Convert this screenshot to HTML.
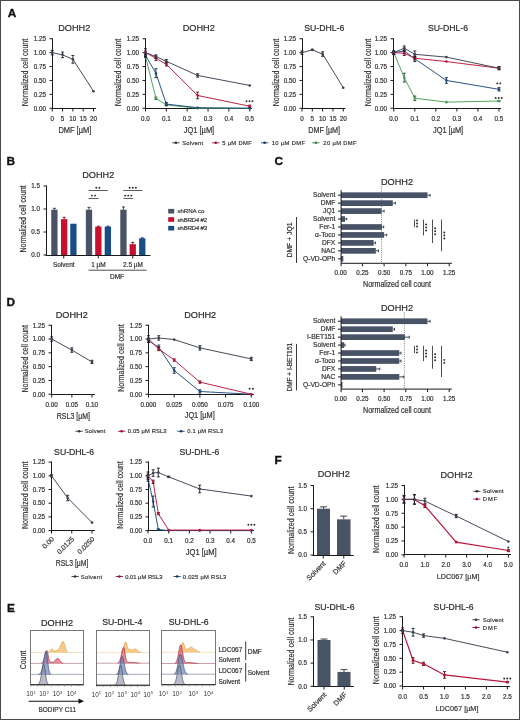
<!DOCTYPE html>
<html><head><meta charset="utf-8"><style>
html,body{margin:0;padding:0;background:#fff;width:520px;height:720px;overflow:hidden;}
svg text{font-family:"Liberation Sans", sans-serif;}
svg{will-change:transform;}
</style></head><body>
<svg width="520" height="720" viewBox="0 0 520 720" style="display:block">
<rect x="0" y="0" width="520" height="720" fill="#fff"/>
<text x="7.70" y="16.80" font-size="11.8" text-anchor="start" fill="#111" font-weight="bold" style="stroke:#111;stroke-width:0.35">A</text>
<text x="6.60" y="164.50" font-size="11.8" text-anchor="start" fill="#111" font-weight="bold" style="stroke:#111;stroke-width:0.35">B</text>
<text x="274.60" y="164.50" font-size="11.8" text-anchor="start" fill="#111" font-weight="bold" style="stroke:#111;stroke-width:0.35">C</text>
<text x="6.60" y="305.60" font-size="11.8" text-anchor="start" fill="#111" font-weight="bold" style="stroke:#111;stroke-width:0.35">D</text>
<text x="7.10" y="612.10" font-size="11.8" text-anchor="start" fill="#111" font-weight="bold" style="stroke:#111;stroke-width:0.35">E</text>
<text x="274.60" y="463.90" font-size="11.8" text-anchor="start" fill="#111" font-weight="bold" style="stroke:#111;stroke-width:0.35">F</text>
<text x="74.25" y="30.70" font-size="9.7" text-anchor="middle" fill="#2a2a2a" stroke="#2a2a2a" stroke-width="0.2" textLength="32" lengthAdjust="spacingAndGlyphs">DOHH2</text>
<line x1="52.50" y1="38.25" x2="52.50" y2="108.75" stroke="#1a1a1a" stroke-width="1.0" />
<line x1="49.50" y1="108.25" x2="52.50" y2="108.25" stroke="#1a1a1a" stroke-width="1.0" />
<text x="46.10" y="110.52" font-size="6.3" text-anchor="end" fill="#333" stroke="#333" stroke-width="0.2">0.00</text>
<line x1="49.50" y1="94.35" x2="52.50" y2="94.35" stroke="#1a1a1a" stroke-width="1.0" />
<text x="46.10" y="96.62" font-size="6.3" text-anchor="end" fill="#333" stroke="#333" stroke-width="0.2">0.25</text>
<line x1="49.50" y1="80.45" x2="52.50" y2="80.45" stroke="#1a1a1a" stroke-width="1.0" />
<text x="46.10" y="82.72" font-size="6.3" text-anchor="end" fill="#333" stroke="#333" stroke-width="0.2">0.50</text>
<line x1="49.50" y1="66.55" x2="52.50" y2="66.55" stroke="#1a1a1a" stroke-width="1.0" />
<text x="46.10" y="68.82" font-size="6.3" text-anchor="end" fill="#333" stroke="#333" stroke-width="0.2">0.75</text>
<line x1="49.50" y1="52.65" x2="52.50" y2="52.65" stroke="#1a1a1a" stroke-width="1.0" />
<text x="46.10" y="54.92" font-size="6.3" text-anchor="end" fill="#333" stroke="#333" stroke-width="0.2">1.00</text>
<line x1="49.50" y1="38.75" x2="52.50" y2="38.75" stroke="#1a1a1a" stroke-width="1.0" />
<text x="46.10" y="41.02" font-size="6.3" text-anchor="end" fill="#333" stroke="#333" stroke-width="0.2">1.25</text>
<text x="28.08" y="72.50" font-size="8.8" text-anchor="middle" fill="#333" stroke="#333" stroke-width="0.2" textLength="67.5" lengthAdjust="spacingAndGlyphs" transform="rotate(-90 28.08 72.50)">Normalized cell count</text>
<line x1="51.75" y1="108.50" x2="96.00" y2="108.50" stroke="#1a1a1a" stroke-width="1.0" />
<line x1="52.25" y1="108.50" x2="52.25" y2="111.50" stroke="#1a1a1a" stroke-width="1.0" />
<text x="52.25" y="120.60" font-size="6.3" text-anchor="middle" fill="#333" stroke="#333" stroke-width="0.2">0</text>
<line x1="62.56" y1="108.50" x2="62.56" y2="111.50" stroke="#1a1a1a" stroke-width="1.0" />
<text x="62.56" y="120.60" font-size="6.3" text-anchor="middle" fill="#333" stroke="#333" stroke-width="0.2">5</text>
<line x1="72.88" y1="108.50" x2="72.88" y2="111.50" stroke="#1a1a1a" stroke-width="1.0" />
<text x="72.88" y="120.60" font-size="6.3" text-anchor="middle" fill="#333" stroke="#333" stroke-width="0.2">10</text>
<line x1="83.19" y1="108.50" x2="83.19" y2="111.50" stroke="#1a1a1a" stroke-width="1.0" />
<text x="83.19" y="120.60" font-size="6.3" text-anchor="middle" fill="#333" stroke="#333" stroke-width="0.2">15</text>
<line x1="93.50" y1="108.50" x2="93.50" y2="111.50" stroke="#1a1a1a" stroke-width="1.0" />
<text x="93.50" y="120.60" font-size="6.3" text-anchor="middle" fill="#333" stroke="#333" stroke-width="0.2">20</text>
<text x="74.90" y="133.00" font-size="8.8" text-anchor="middle" fill="#333" stroke="#333" stroke-width="0.2" textLength="33" lengthAdjust="spacingAndGlyphs">DMF [µM]</text>
<path d="M52.25,52.65 L62.56,54.87 L72.88,59.32 L93.50,91.24" fill="none" stroke="#3a4250" stroke-width="0.95" stroke-linejoin="round"/>
<line x1="52.25" y1="50.43" x2="52.25" y2="54.87" stroke="#1a1d24" stroke-width="0.9" />
<line x1="50.75" y1="50.43" x2="53.75" y2="50.43" stroke="#1a1d24" stroke-width="0.9" />
<line x1="50.75" y1="54.87" x2="53.75" y2="54.87" stroke="#1a1d24" stroke-width="0.9" />
<line x1="62.56" y1="52.09" x2="62.56" y2="57.65" stroke="#1a1d24" stroke-width="0.9" />
<line x1="61.06" y1="52.09" x2="64.06" y2="52.09" stroke="#1a1d24" stroke-width="0.9" />
<line x1="61.06" y1="57.65" x2="64.06" y2="57.65" stroke="#1a1d24" stroke-width="0.9" />
<line x1="72.88" y1="55.43" x2="72.88" y2="63.21" stroke="#1a1d24" stroke-width="0.9" />
<line x1="71.38" y1="55.43" x2="74.38" y2="55.43" stroke="#1a1d24" stroke-width="0.9" />
<line x1="71.38" y1="63.21" x2="74.38" y2="63.21" stroke="#1a1d24" stroke-width="0.9" />
<circle cx="52.25" cy="52.65" r="1.3" fill="#3a4250"/>
<circle cx="62.56" cy="54.87" r="1.3" fill="#3a4250"/>
<circle cx="72.88" cy="59.32" r="1.3" fill="#3a4250"/>
<circle cx="93.50" cy="91.24" r="1.3" fill="#3a4250"/>
<text x="198.75" y="30.70" font-size="9.7" text-anchor="middle" fill="#2a2a2a" stroke="#2a2a2a" stroke-width="0.2" textLength="32" lengthAdjust="spacingAndGlyphs">DOHH2</text>
<line x1="145.50" y1="38.25" x2="145.50" y2="108.75" stroke="#1a1a1a" stroke-width="1.0" />
<line x1="142.50" y1="108.25" x2="145.50" y2="108.25" stroke="#1a1a1a" stroke-width="1.0" />
<text x="139.10" y="110.52" font-size="6.3" text-anchor="end" fill="#333" stroke="#333" stroke-width="0.2">0.00</text>
<line x1="142.50" y1="94.35" x2="145.50" y2="94.35" stroke="#1a1a1a" stroke-width="1.0" />
<text x="139.10" y="96.62" font-size="6.3" text-anchor="end" fill="#333" stroke="#333" stroke-width="0.2">0.25</text>
<line x1="142.50" y1="80.45" x2="145.50" y2="80.45" stroke="#1a1a1a" stroke-width="1.0" />
<text x="139.10" y="82.72" font-size="6.3" text-anchor="end" fill="#333" stroke="#333" stroke-width="0.2">0.50</text>
<line x1="142.50" y1="66.55" x2="145.50" y2="66.55" stroke="#1a1a1a" stroke-width="1.0" />
<text x="139.10" y="68.82" font-size="6.3" text-anchor="end" fill="#333" stroke="#333" stroke-width="0.2">0.75</text>
<line x1="142.50" y1="52.65" x2="145.50" y2="52.65" stroke="#1a1a1a" stroke-width="1.0" />
<text x="139.10" y="54.92" font-size="6.3" text-anchor="end" fill="#333" stroke="#333" stroke-width="0.2">1.00</text>
<line x1="142.50" y1="38.75" x2="145.50" y2="38.75" stroke="#1a1a1a" stroke-width="1.0" />
<text x="139.10" y="41.02" font-size="6.3" text-anchor="end" fill="#333" stroke="#333" stroke-width="0.2">1.25</text>
<text x="121.08" y="72.50" font-size="8.8" text-anchor="middle" fill="#333" stroke="#333" stroke-width="0.2" textLength="67.5" lengthAdjust="spacingAndGlyphs" transform="rotate(-90 121.08 72.50)">Normalized cell count</text>
<line x1="145.00" y1="108.50" x2="252.00" y2="108.50" stroke="#1a1a1a" stroke-width="1.0" />
<line x1="145.50" y1="108.50" x2="145.50" y2="111.50" stroke="#1a1a1a" stroke-width="1.0" />
<text x="145.50" y="120.60" font-size="6.3" text-anchor="middle" fill="#333" stroke="#333" stroke-width="0.2">0.0</text>
<line x1="166.35" y1="108.50" x2="166.35" y2="111.50" stroke="#1a1a1a" stroke-width="1.0" />
<text x="166.35" y="120.60" font-size="6.3" text-anchor="middle" fill="#333" stroke="#333" stroke-width="0.2">0.1</text>
<line x1="187.20" y1="108.50" x2="187.20" y2="111.50" stroke="#1a1a1a" stroke-width="1.0" />
<text x="187.20" y="120.60" font-size="6.3" text-anchor="middle" fill="#333" stroke="#333" stroke-width="0.2">0.2</text>
<line x1="208.05" y1="108.50" x2="208.05" y2="111.50" stroke="#1a1a1a" stroke-width="1.0" />
<text x="208.05" y="120.60" font-size="6.3" text-anchor="middle" fill="#333" stroke="#333" stroke-width="0.2">0.3</text>
<line x1="228.90" y1="108.50" x2="228.90" y2="111.50" stroke="#1a1a1a" stroke-width="1.0" />
<text x="228.90" y="120.60" font-size="6.3" text-anchor="middle" fill="#333" stroke="#333" stroke-width="0.2">0.4</text>
<line x1="249.75" y1="108.50" x2="249.75" y2="111.50" stroke="#1a1a1a" stroke-width="1.0" />
<text x="249.75" y="120.60" font-size="6.3" text-anchor="middle" fill="#333" stroke="#333" stroke-width="0.2">0.5</text>
<text x="199.00" y="132.90" font-size="8.8" text-anchor="middle" fill="#333" stroke="#333" stroke-width="0.2" textLength="30.4" lengthAdjust="spacingAndGlyphs">JQ1 [µM]</text>
<path d="M145.50,56.54 L155.93,98.24 L166.35,104.91 L197.62,108.25 L249.75,108.25" fill="none" stroke="#48a055" stroke-width="0.95" stroke-linejoin="round"/>
<line x1="145.50" y1="55.43" x2="145.50" y2="57.65" stroke="#204826" stroke-width="0.9" />
<line x1="144.00" y1="55.43" x2="147.00" y2="55.43" stroke="#204826" stroke-width="0.9" />
<line x1="144.00" y1="57.65" x2="147.00" y2="57.65" stroke="#204826" stroke-width="0.9" />
<line x1="155.93" y1="97.13" x2="155.93" y2="99.35" stroke="#204826" stroke-width="0.9" />
<line x1="154.43" y1="97.13" x2="157.43" y2="97.13" stroke="#204826" stroke-width="0.9" />
<line x1="154.43" y1="99.35" x2="157.43" y2="99.35" stroke="#204826" stroke-width="0.9" />
<line x1="166.35" y1="104.36" x2="166.35" y2="105.47" stroke="#204826" stroke-width="0.9" />
<line x1="164.85" y1="104.36" x2="167.85" y2="104.36" stroke="#204826" stroke-width="0.9" />
<line x1="164.85" y1="105.47" x2="167.85" y2="105.47" stroke="#204826" stroke-width="0.9" />
<circle cx="145.50" cy="56.54" r="1.3" fill="#48a055"/>
<circle cx="155.93" cy="98.24" r="1.3" fill="#48a055"/>
<circle cx="166.35" cy="104.91" r="1.3" fill="#48a055"/>
<circle cx="197.62" cy="108.25" r="1.3" fill="#48a055"/>
<circle cx="249.75" cy="108.25" r="1.3" fill="#48a055"/>
<path d="M145.50,55.43 L155.93,73.22 L166.35,104.08 L197.62,107.69 L249.75,108.25" fill="none" stroke="#1d4a7e" stroke-width="0.95" stroke-linejoin="round"/>
<line x1="145.50" y1="53.76" x2="145.50" y2="57.10" stroke="#0d2138" stroke-width="0.9" />
<line x1="144.00" y1="53.76" x2="147.00" y2="53.76" stroke="#0d2138" stroke-width="0.9" />
<line x1="144.00" y1="57.10" x2="147.00" y2="57.10" stroke="#0d2138" stroke-width="0.9" />
<line x1="155.93" y1="68.77" x2="155.93" y2="77.67" stroke="#0d2138" stroke-width="0.9" />
<line x1="154.43" y1="68.77" x2="157.43" y2="68.77" stroke="#0d2138" stroke-width="0.9" />
<line x1="154.43" y1="77.67" x2="157.43" y2="77.67" stroke="#0d2138" stroke-width="0.9" />
<line x1="166.35" y1="102.41" x2="166.35" y2="105.75" stroke="#0d2138" stroke-width="0.9" />
<line x1="164.85" y1="102.41" x2="167.85" y2="102.41" stroke="#0d2138" stroke-width="0.9" />
<line x1="164.85" y1="105.75" x2="167.85" y2="105.75" stroke="#0d2138" stroke-width="0.9" />
<circle cx="145.50" cy="55.43" r="1.3" fill="#1d4a7e"/>
<circle cx="155.93" cy="73.22" r="1.3" fill="#1d4a7e"/>
<circle cx="166.35" cy="104.08" r="1.3" fill="#1d4a7e"/>
<circle cx="197.62" cy="107.69" r="1.3" fill="#1d4a7e"/>
<circle cx="249.75" cy="108.25" r="1.3" fill="#1d4a7e"/>
<path d="M145.50,52.65 L155.93,58.21 L166.35,64.33 L197.62,95.46 L249.75,106.25" fill="none" stroke="#b8163a" stroke-width="0.95" stroke-linejoin="round"/>
<line x1="145.50" y1="50.98" x2="145.50" y2="54.32" stroke="#52091a" stroke-width="0.9" />
<line x1="144.00" y1="50.98" x2="147.00" y2="50.98" stroke="#52091a" stroke-width="0.9" />
<line x1="144.00" y1="54.32" x2="147.00" y2="54.32" stroke="#52091a" stroke-width="0.9" />
<line x1="155.93" y1="55.99" x2="155.93" y2="60.43" stroke="#52091a" stroke-width="0.9" />
<line x1="154.43" y1="55.99" x2="157.43" y2="55.99" stroke="#52091a" stroke-width="0.9" />
<line x1="154.43" y1="60.43" x2="157.43" y2="60.43" stroke="#52091a" stroke-width="0.9" />
<line x1="166.35" y1="62.66" x2="166.35" y2="65.99" stroke="#52091a" stroke-width="0.9" />
<line x1="164.85" y1="62.66" x2="167.85" y2="62.66" stroke="#52091a" stroke-width="0.9" />
<line x1="164.85" y1="65.99" x2="167.85" y2="65.99" stroke="#52091a" stroke-width="0.9" />
<line x1="197.62" y1="92.13" x2="197.62" y2="98.80" stroke="#52091a" stroke-width="0.9" />
<line x1="196.12" y1="92.13" x2="199.12" y2="92.13" stroke="#52091a" stroke-width="0.9" />
<line x1="196.12" y1="98.80" x2="199.12" y2="98.80" stroke="#52091a" stroke-width="0.9" />
<line x1="249.75" y1="105.14" x2="249.75" y2="107.36" stroke="#52091a" stroke-width="0.9" />
<line x1="248.25" y1="105.14" x2="251.25" y2="105.14" stroke="#52091a" stroke-width="0.9" />
<line x1="248.25" y1="107.36" x2="251.25" y2="107.36" stroke="#52091a" stroke-width="0.9" />
<circle cx="145.50" cy="52.65" r="1.3" fill="#b8163a"/>
<circle cx="155.93" cy="58.21" r="1.3" fill="#b8163a"/>
<circle cx="166.35" cy="64.33" r="1.3" fill="#b8163a"/>
<circle cx="197.62" cy="95.46" r="1.3" fill="#b8163a"/>
<circle cx="249.75" cy="106.25" r="1.3" fill="#b8163a"/>
<path d="M145.50,52.65 L155.93,56.54 L166.35,61.27 L197.62,75.45 L249.75,85.45" fill="none" stroke="#3a4250" stroke-width="0.95" stroke-linejoin="round"/>
<line x1="145.50" y1="48.76" x2="145.50" y2="56.54" stroke="#1a1d24" stroke-width="0.9" />
<line x1="144.00" y1="48.76" x2="147.00" y2="48.76" stroke="#1a1d24" stroke-width="0.9" />
<line x1="144.00" y1="56.54" x2="147.00" y2="56.54" stroke="#1a1d24" stroke-width="0.9" />
<line x1="155.93" y1="54.87" x2="155.93" y2="58.21" stroke="#1a1d24" stroke-width="0.9" />
<line x1="154.43" y1="54.87" x2="157.43" y2="54.87" stroke="#1a1d24" stroke-width="0.9" />
<line x1="154.43" y1="58.21" x2="157.43" y2="58.21" stroke="#1a1d24" stroke-width="0.9" />
<line x1="166.35" y1="59.60" x2="166.35" y2="62.94" stroke="#1a1d24" stroke-width="0.9" />
<line x1="164.85" y1="59.60" x2="167.85" y2="59.60" stroke="#1a1d24" stroke-width="0.9" />
<line x1="164.85" y1="62.94" x2="167.85" y2="62.94" stroke="#1a1d24" stroke-width="0.9" />
<line x1="197.62" y1="73.78" x2="197.62" y2="77.11" stroke="#1a1d24" stroke-width="0.9" />
<line x1="196.12" y1="73.78" x2="199.12" y2="73.78" stroke="#1a1d24" stroke-width="0.9" />
<line x1="196.12" y1="77.11" x2="199.12" y2="77.11" stroke="#1a1d24" stroke-width="0.9" />
<circle cx="145.50" cy="52.65" r="1.3" fill="#3a4250"/>
<circle cx="155.93" cy="56.54" r="1.3" fill="#3a4250"/>
<circle cx="166.35" cy="61.27" r="1.3" fill="#3a4250"/>
<circle cx="197.62" cy="75.45" r="1.3" fill="#3a4250"/>
<circle cx="249.75" cy="85.45" r="1.3" fill="#3a4250"/>
<circle cx="246.50" cy="101.20" r="0.95" fill="#2a2a2a"/>
<circle cx="249.50" cy="101.20" r="0.95" fill="#2a2a2a"/>
<circle cx="252.50" cy="101.20" r="0.95" fill="#2a2a2a"/>
<text x="324.30" y="30.80" font-size="9.7" text-anchor="middle" fill="#2a2a2a" stroke="#2a2a2a" stroke-width="0.2" textLength="40" lengthAdjust="spacingAndGlyphs">SU-DHL-6</text>
<line x1="302.50" y1="38.25" x2="302.50" y2="108.75" stroke="#1a1a1a" stroke-width="1.0" />
<line x1="299.50" y1="108.25" x2="302.50" y2="108.25" stroke="#1a1a1a" stroke-width="1.0" />
<text x="296.10" y="110.52" font-size="6.3" text-anchor="end" fill="#333" stroke="#333" stroke-width="0.2">0.00</text>
<line x1="299.50" y1="94.35" x2="302.50" y2="94.35" stroke="#1a1a1a" stroke-width="1.0" />
<text x="296.10" y="96.62" font-size="6.3" text-anchor="end" fill="#333" stroke="#333" stroke-width="0.2">0.25</text>
<line x1="299.50" y1="80.45" x2="302.50" y2="80.45" stroke="#1a1a1a" stroke-width="1.0" />
<text x="296.10" y="82.72" font-size="6.3" text-anchor="end" fill="#333" stroke="#333" stroke-width="0.2">0.50</text>
<line x1="299.50" y1="66.55" x2="302.50" y2="66.55" stroke="#1a1a1a" stroke-width="1.0" />
<text x="296.10" y="68.82" font-size="6.3" text-anchor="end" fill="#333" stroke="#333" stroke-width="0.2">0.75</text>
<line x1="299.50" y1="52.65" x2="302.50" y2="52.65" stroke="#1a1a1a" stroke-width="1.0" />
<text x="296.10" y="54.92" font-size="6.3" text-anchor="end" fill="#333" stroke="#333" stroke-width="0.2">1.00</text>
<line x1="299.50" y1="38.75" x2="302.50" y2="38.75" stroke="#1a1a1a" stroke-width="1.0" />
<text x="296.10" y="41.02" font-size="6.3" text-anchor="end" fill="#333" stroke="#333" stroke-width="0.2">1.25</text>
<text x="279.08" y="72.50" font-size="8.8" text-anchor="middle" fill="#333" stroke="#333" stroke-width="0.2" textLength="67.5" lengthAdjust="spacingAndGlyphs" transform="rotate(-90 279.08 72.50)">Normalized cell count</text>
<line x1="301.50" y1="108.50" x2="345.50" y2="108.50" stroke="#1a1a1a" stroke-width="1.0" />
<line x1="302.00" y1="108.50" x2="302.00" y2="111.50" stroke="#1a1a1a" stroke-width="1.0" />
<text x="302.00" y="120.60" font-size="6.3" text-anchor="middle" fill="#333" stroke="#333" stroke-width="0.2">0</text>
<line x1="312.31" y1="108.50" x2="312.31" y2="111.50" stroke="#1a1a1a" stroke-width="1.0" />
<text x="312.31" y="120.60" font-size="6.3" text-anchor="middle" fill="#333" stroke="#333" stroke-width="0.2">5</text>
<line x1="322.62" y1="108.50" x2="322.62" y2="111.50" stroke="#1a1a1a" stroke-width="1.0" />
<text x="322.62" y="120.60" font-size="6.3" text-anchor="middle" fill="#333" stroke="#333" stroke-width="0.2">10</text>
<line x1="332.94" y1="108.50" x2="332.94" y2="111.50" stroke="#1a1a1a" stroke-width="1.0" />
<text x="332.94" y="120.60" font-size="6.3" text-anchor="middle" fill="#333" stroke="#333" stroke-width="0.2">15</text>
<line x1="343.25" y1="108.50" x2="343.25" y2="111.50" stroke="#1a1a1a" stroke-width="1.0" />
<text x="343.25" y="120.60" font-size="6.3" text-anchor="middle" fill="#333" stroke="#333" stroke-width="0.2">20</text>
<text x="324.20" y="132.70" font-size="8.6" text-anchor="middle" fill="#333" stroke="#333" stroke-width="0.2" textLength="31.7" lengthAdjust="spacingAndGlyphs">DMF [µM]</text>
<path d="M302.00,52.65 L312.31,49.87 L322.62,54.04 L343.25,87.68" fill="none" stroke="#3a4250" stroke-width="0.95" stroke-linejoin="round"/>
<line x1="302.00" y1="50.98" x2="302.00" y2="54.32" stroke="#1a1d24" stroke-width="0.9" />
<line x1="300.50" y1="50.98" x2="303.50" y2="50.98" stroke="#1a1d24" stroke-width="0.9" />
<line x1="300.50" y1="54.32" x2="303.50" y2="54.32" stroke="#1a1d24" stroke-width="0.9" />
<line x1="312.31" y1="49.31" x2="312.31" y2="50.43" stroke="#1a1d24" stroke-width="0.9" />
<line x1="310.81" y1="49.31" x2="313.81" y2="49.31" stroke="#1a1d24" stroke-width="0.9" />
<line x1="310.81" y1="50.43" x2="313.81" y2="50.43" stroke="#1a1d24" stroke-width="0.9" />
<line x1="322.62" y1="51.82" x2="322.62" y2="56.26" stroke="#1a1d24" stroke-width="0.9" />
<line x1="321.12" y1="51.82" x2="324.12" y2="51.82" stroke="#1a1d24" stroke-width="0.9" />
<line x1="321.12" y1="56.26" x2="324.12" y2="56.26" stroke="#1a1d24" stroke-width="0.9" />
<circle cx="302.00" cy="52.65" r="1.3" fill="#3a4250"/>
<circle cx="312.31" cy="49.87" r="1.3" fill="#3a4250"/>
<circle cx="322.62" cy="54.04" r="1.3" fill="#3a4250"/>
<circle cx="343.25" cy="87.68" r="1.3" fill="#3a4250"/>
<text x="448.00" y="30.70" font-size="9.7" text-anchor="middle" fill="#2a2a2a" stroke="#2a2a2a" stroke-width="0.2" textLength="40" lengthAdjust="spacingAndGlyphs">SU-DHL-6</text>
<line x1="393.50" y1="38.25" x2="393.50" y2="108.75" stroke="#1a1a1a" stroke-width="1.0" />
<line x1="390.50" y1="108.25" x2="393.50" y2="108.25" stroke="#1a1a1a" stroke-width="1.0" />
<text x="387.10" y="110.52" font-size="6.3" text-anchor="end" fill="#333" stroke="#333" stroke-width="0.2">0.00</text>
<line x1="390.50" y1="94.35" x2="393.50" y2="94.35" stroke="#1a1a1a" stroke-width="1.0" />
<text x="387.10" y="96.62" font-size="6.3" text-anchor="end" fill="#333" stroke="#333" stroke-width="0.2">0.25</text>
<line x1="390.50" y1="80.45" x2="393.50" y2="80.45" stroke="#1a1a1a" stroke-width="1.0" />
<text x="387.10" y="82.72" font-size="6.3" text-anchor="end" fill="#333" stroke="#333" stroke-width="0.2">0.50</text>
<line x1="390.50" y1="66.55" x2="393.50" y2="66.55" stroke="#1a1a1a" stroke-width="1.0" />
<text x="387.10" y="68.82" font-size="6.3" text-anchor="end" fill="#333" stroke="#333" stroke-width="0.2">0.75</text>
<line x1="390.50" y1="52.65" x2="393.50" y2="52.65" stroke="#1a1a1a" stroke-width="1.0" />
<text x="387.10" y="54.92" font-size="6.3" text-anchor="end" fill="#333" stroke="#333" stroke-width="0.2">1.00</text>
<line x1="390.50" y1="38.75" x2="393.50" y2="38.75" stroke="#1a1a1a" stroke-width="1.0" />
<text x="387.10" y="41.02" font-size="6.3" text-anchor="end" fill="#333" stroke="#333" stroke-width="0.2">1.25</text>
<text x="370.58" y="72.50" font-size="8.8" text-anchor="middle" fill="#333" stroke="#333" stroke-width="0.2" textLength="67.5" lengthAdjust="spacingAndGlyphs" transform="rotate(-90 370.58 72.50)">Normalized cell count</text>
<line x1="393.25" y1="108.50" x2="501.00" y2="108.50" stroke="#1a1a1a" stroke-width="1.0" />
<line x1="393.75" y1="108.50" x2="393.75" y2="111.50" stroke="#1a1a1a" stroke-width="1.0" />
<text x="393.75" y="120.60" font-size="6.3" text-anchor="middle" fill="#333" stroke="#333" stroke-width="0.2">0.0</text>
<line x1="414.80" y1="108.50" x2="414.80" y2="111.50" stroke="#1a1a1a" stroke-width="1.0" />
<text x="414.80" y="120.60" font-size="6.3" text-anchor="middle" fill="#333" stroke="#333" stroke-width="0.2">0.1</text>
<line x1="435.85" y1="108.50" x2="435.85" y2="111.50" stroke="#1a1a1a" stroke-width="1.0" />
<text x="435.85" y="120.60" font-size="6.3" text-anchor="middle" fill="#333" stroke="#333" stroke-width="0.2">0.2</text>
<line x1="456.90" y1="108.50" x2="456.90" y2="111.50" stroke="#1a1a1a" stroke-width="1.0" />
<text x="456.90" y="120.60" font-size="6.3" text-anchor="middle" fill="#333" stroke="#333" stroke-width="0.2">0.3</text>
<line x1="477.95" y1="108.50" x2="477.95" y2="111.50" stroke="#1a1a1a" stroke-width="1.0" />
<text x="477.95" y="120.60" font-size="6.3" text-anchor="middle" fill="#333" stroke="#333" stroke-width="0.2">0.4</text>
<line x1="499.00" y1="108.50" x2="499.00" y2="111.50" stroke="#1a1a1a" stroke-width="1.0" />
<text x="499.00" y="120.60" font-size="6.3" text-anchor="middle" fill="#333" stroke="#333" stroke-width="0.2">0.5</text>
<text x="448.10" y="132.70" font-size="8.6" text-anchor="middle" fill="#333" stroke="#333" stroke-width="0.2" textLength="30" lengthAdjust="spacingAndGlyphs">JQ1 [µM]</text>
<path d="M393.75,52.65 L404.27,77.67 L414.80,98.24 L446.38,102.13 L499.00,101.02" fill="none" stroke="#48a055" stroke-width="0.95" stroke-linejoin="round"/>
<line x1="393.75" y1="51.54" x2="393.75" y2="53.76" stroke="#204826" stroke-width="0.9" />
<line x1="392.25" y1="51.54" x2="395.25" y2="51.54" stroke="#204826" stroke-width="0.9" />
<line x1="392.25" y1="53.76" x2="395.25" y2="53.76" stroke="#204826" stroke-width="0.9" />
<line x1="404.27" y1="73.22" x2="404.27" y2="82.12" stroke="#204826" stroke-width="0.9" />
<line x1="402.77" y1="73.22" x2="405.77" y2="73.22" stroke="#204826" stroke-width="0.9" />
<line x1="402.77" y1="82.12" x2="405.77" y2="82.12" stroke="#204826" stroke-width="0.9" />
<line x1="414.80" y1="96.02" x2="414.80" y2="100.47" stroke="#204826" stroke-width="0.9" />
<line x1="413.30" y1="96.02" x2="416.30" y2="96.02" stroke="#204826" stroke-width="0.9" />
<line x1="413.30" y1="100.47" x2="416.30" y2="100.47" stroke="#204826" stroke-width="0.9" />
<line x1="499.00" y1="100.47" x2="499.00" y2="101.58" stroke="#204826" stroke-width="0.9" />
<line x1="497.50" y1="100.47" x2="500.50" y2="100.47" stroke="#204826" stroke-width="0.9" />
<line x1="497.50" y1="101.58" x2="500.50" y2="101.58" stroke="#204826" stroke-width="0.9" />
<circle cx="393.75" cy="52.65" r="1.3" fill="#48a055"/>
<circle cx="404.27" cy="77.67" r="1.3" fill="#48a055"/>
<circle cx="414.80" cy="98.24" r="1.3" fill="#48a055"/>
<circle cx="446.38" cy="102.13" r="1.3" fill="#48a055"/>
<circle cx="499.00" cy="101.02" r="1.3" fill="#48a055"/>
<path d="M393.75,52.65 L404.27,50.98 L414.80,58.77 L446.38,80.45 L499.00,89.35" fill="none" stroke="#1d4a7e" stroke-width="0.95" stroke-linejoin="round"/>
<line x1="393.75" y1="50.98" x2="393.75" y2="54.32" stroke="#0d2138" stroke-width="0.9" />
<line x1="392.25" y1="50.98" x2="395.25" y2="50.98" stroke="#0d2138" stroke-width="0.9" />
<line x1="392.25" y1="54.32" x2="395.25" y2="54.32" stroke="#0d2138" stroke-width="0.9" />
<line x1="404.27" y1="48.20" x2="404.27" y2="53.76" stroke="#0d2138" stroke-width="0.9" />
<line x1="402.77" y1="48.20" x2="405.77" y2="48.20" stroke="#0d2138" stroke-width="0.9" />
<line x1="402.77" y1="53.76" x2="405.77" y2="53.76" stroke="#0d2138" stroke-width="0.9" />
<line x1="414.80" y1="55.99" x2="414.80" y2="61.55" stroke="#0d2138" stroke-width="0.9" />
<line x1="413.30" y1="55.99" x2="416.30" y2="55.99" stroke="#0d2138" stroke-width="0.9" />
<line x1="413.30" y1="61.55" x2="416.30" y2="61.55" stroke="#0d2138" stroke-width="0.9" />
<line x1="446.38" y1="77.67" x2="446.38" y2="83.23" stroke="#0d2138" stroke-width="0.9" />
<line x1="444.88" y1="77.67" x2="447.88" y2="77.67" stroke="#0d2138" stroke-width="0.9" />
<line x1="444.88" y1="83.23" x2="447.88" y2="83.23" stroke="#0d2138" stroke-width="0.9" />
<line x1="499.00" y1="87.68" x2="499.00" y2="91.01" stroke="#0d2138" stroke-width="0.9" />
<line x1="497.50" y1="87.68" x2="500.50" y2="87.68" stroke="#0d2138" stroke-width="0.9" />
<line x1="497.50" y1="91.01" x2="500.50" y2="91.01" stroke="#0d2138" stroke-width="0.9" />
<circle cx="393.75" cy="52.65" r="1.3" fill="#1d4a7e"/>
<circle cx="404.27" cy="50.98" r="1.3" fill="#1d4a7e"/>
<circle cx="414.80" cy="58.77" r="1.3" fill="#1d4a7e"/>
<circle cx="446.38" cy="80.45" r="1.3" fill="#1d4a7e"/>
<circle cx="499.00" cy="89.35" r="1.3" fill="#1d4a7e"/>
<path d="M393.75,52.65 L404.27,53.21 L414.80,58.21 L446.38,61.55 L499.00,68.22" fill="none" stroke="#b8163a" stroke-width="0.95" stroke-linejoin="round"/>
<line x1="393.75" y1="51.54" x2="393.75" y2="53.76" stroke="#52091a" stroke-width="0.9" />
<line x1="392.25" y1="51.54" x2="395.25" y2="51.54" stroke="#52091a" stroke-width="0.9" />
<line x1="392.25" y1="53.76" x2="395.25" y2="53.76" stroke="#52091a" stroke-width="0.9" />
<line x1="404.27" y1="50.98" x2="404.27" y2="55.43" stroke="#52091a" stroke-width="0.9" />
<line x1="402.77" y1="50.98" x2="405.77" y2="50.98" stroke="#52091a" stroke-width="0.9" />
<line x1="402.77" y1="55.43" x2="405.77" y2="55.43" stroke="#52091a" stroke-width="0.9" />
<line x1="414.80" y1="56.54" x2="414.80" y2="59.88" stroke="#52091a" stroke-width="0.9" />
<line x1="413.30" y1="56.54" x2="416.30" y2="56.54" stroke="#52091a" stroke-width="0.9" />
<line x1="413.30" y1="59.88" x2="416.30" y2="59.88" stroke="#52091a" stroke-width="0.9" />
<line x1="499.00" y1="67.11" x2="499.00" y2="69.33" stroke="#52091a" stroke-width="0.9" />
<line x1="497.50" y1="67.11" x2="500.50" y2="67.11" stroke="#52091a" stroke-width="0.9" />
<line x1="497.50" y1="69.33" x2="500.50" y2="69.33" stroke="#52091a" stroke-width="0.9" />
<circle cx="393.75" cy="52.65" r="1.3" fill="#b8163a"/>
<circle cx="404.27" cy="53.21" r="1.3" fill="#b8163a"/>
<circle cx="414.80" cy="58.21" r="1.3" fill="#b8163a"/>
<circle cx="446.38" cy="61.55" r="1.3" fill="#b8163a"/>
<circle cx="499.00" cy="68.22" r="1.3" fill="#b8163a"/>
<path d="M393.75,52.65 L404.27,48.20 L414.80,54.32 L446.38,57.10 L499.00,68.22" fill="none" stroke="#3a4250" stroke-width="0.95" stroke-linejoin="round"/>
<line x1="393.75" y1="50.98" x2="393.75" y2="54.32" stroke="#1a1d24" stroke-width="0.9" />
<line x1="392.25" y1="50.98" x2="395.25" y2="50.98" stroke="#1a1d24" stroke-width="0.9" />
<line x1="392.25" y1="54.32" x2="395.25" y2="54.32" stroke="#1a1d24" stroke-width="0.9" />
<line x1="404.27" y1="45.98" x2="404.27" y2="50.43" stroke="#1a1d24" stroke-width="0.9" />
<line x1="402.77" y1="45.98" x2="405.77" y2="45.98" stroke="#1a1d24" stroke-width="0.9" />
<line x1="402.77" y1="50.43" x2="405.77" y2="50.43" stroke="#1a1d24" stroke-width="0.9" />
<line x1="414.80" y1="50.98" x2="414.80" y2="57.65" stroke="#1a1d24" stroke-width="0.9" />
<line x1="413.30" y1="50.98" x2="416.30" y2="50.98" stroke="#1a1d24" stroke-width="0.9" />
<line x1="413.30" y1="57.65" x2="416.30" y2="57.65" stroke="#1a1d24" stroke-width="0.9" />
<line x1="499.00" y1="66.55" x2="499.00" y2="69.89" stroke="#1a1d24" stroke-width="0.9" />
<line x1="497.50" y1="66.55" x2="500.50" y2="66.55" stroke="#1a1d24" stroke-width="0.9" />
<line x1="497.50" y1="69.89" x2="500.50" y2="69.89" stroke="#1a1d24" stroke-width="0.9" />
<circle cx="393.75" cy="52.65" r="1.3" fill="#3a4250"/>
<circle cx="404.27" cy="48.20" r="1.3" fill="#3a4250"/>
<circle cx="414.80" cy="54.32" r="1.3" fill="#3a4250"/>
<circle cx="446.38" cy="57.10" r="1.3" fill="#3a4250"/>
<circle cx="499.00" cy="68.22" r="1.3" fill="#3a4250"/>
<circle cx="497.25" cy="83.40" r="0.95" fill="#2a2a2a"/>
<circle cx="500.25" cy="83.40" r="0.95" fill="#2a2a2a"/>
<circle cx="495.70" cy="98.00" r="0.95" fill="#2a2a2a"/>
<circle cx="498.70" cy="98.00" r="0.95" fill="#2a2a2a"/>
<circle cx="501.70" cy="98.00" r="0.95" fill="#2a2a2a"/>
<line x1="172.30" y1="142.80" x2="179.50" y2="142.80" stroke="#2e3440" stroke-width="0.9" />
<circle cx="175.90" cy="142.80" r="1.3" fill="#2e3440"/>
<text x="182.20" y="144.89" font-size="5.8" text-anchor="start" fill="#2e2e2e" stroke="#2e2e2e" stroke-width="0.16" textLength="20.8" lengthAdjust="spacing">Solvent</text>
<line x1="212.10" y1="142.80" x2="219.30" y2="142.80" stroke="#93112e" stroke-width="0.9" />
<circle cx="215.70" cy="142.80" r="1.3" fill="#93112e"/>
<text x="222.20" y="144.89" font-size="5.8" text-anchor="start" fill="#2e2e2e" stroke="#2e2e2e" stroke-width="0.16" textLength="29.5" lengthAdjust="spacing">5 µM DMF</text>
<line x1="261.00" y1="142.80" x2="268.20" y2="142.80" stroke="#173b64" stroke-width="0.9" />
<circle cx="264.60" cy="142.80" r="1.3" fill="#173b64"/>
<text x="271.80" y="144.89" font-size="5.8" text-anchor="start" fill="#2e2e2e" stroke="#2e2e2e" stroke-width="0.16" textLength="33.2" lengthAdjust="spacing">10 µM DMF</text>
<line x1="312.20" y1="142.80" x2="319.40" y2="142.80" stroke="#398044" stroke-width="0.9" />
<circle cx="315.80" cy="142.80" r="1.3" fill="#398044"/>
<text x="323.30" y="144.89" font-size="5.8" text-anchor="start" fill="#2e2e2e" stroke="#2e2e2e" stroke-width="0.16" textLength="33.3" lengthAdjust="spacing">20 µM DMF</text>
<text x="98.25" y="178.30" font-size="9.7" text-anchor="middle" fill="#2a2a2a" stroke="#2a2a2a" stroke-width="0.2" textLength="32" lengthAdjust="spacingAndGlyphs">DOHH2</text>
<line x1="46.50" y1="185.50" x2="46.50" y2="255.50" stroke="#1a1a1a" stroke-width="1.0" />
<line x1="43.50" y1="255.00" x2="46.50" y2="255.00" stroke="#1a1a1a" stroke-width="1.0" />
<text x="40.10" y="257.27" font-size="6.3" text-anchor="end" fill="#333" stroke="#333" stroke-width="0.2">0.0</text>
<line x1="43.50" y1="232.00" x2="46.50" y2="232.00" stroke="#1a1a1a" stroke-width="1.0" />
<text x="40.10" y="234.27" font-size="6.3" text-anchor="end" fill="#333" stroke="#333" stroke-width="0.2">0.5</text>
<line x1="43.50" y1="209.00" x2="46.50" y2="209.00" stroke="#1a1a1a" stroke-width="1.0" />
<text x="40.10" y="211.27" font-size="6.3" text-anchor="end" fill="#333" stroke="#333" stroke-width="0.2">1.0</text>
<line x1="43.50" y1="186.00" x2="46.50" y2="186.00" stroke="#1a1a1a" stroke-width="1.0" />
<text x="40.10" y="188.27" font-size="6.3" text-anchor="end" fill="#333" stroke="#333" stroke-width="0.2">1.5</text>
<text x="26.08" y="219.00" font-size="8.8" text-anchor="middle" fill="#333" stroke="#333" stroke-width="0.2" textLength="67" lengthAdjust="spacingAndGlyphs" transform="rotate(-90 26.08 219.00)">Normalized cell count</text>
<line x1="45.75" y1="255.50" x2="150.50" y2="255.50" stroke="#1a1a1a" stroke-width="1.0" />
<line x1="63.75" y1="255.50" x2="63.75" y2="258.50" stroke="#1a1a1a" stroke-width="1.0" />
<line x1="98.25" y1="255.50" x2="98.25" y2="258.50" stroke="#1a1a1a" stroke-width="1.0" />
<line x1="132.75" y1="255.50" x2="132.75" y2="258.50" stroke="#1a1a1a" stroke-width="1.0" />
<rect x="51.25" y="209.69" width="6.3" height="45.31" fill="#485366"/>
<line x1="54.40" y1="209.69" x2="54.40" y2="208.31" stroke="#272d38" stroke-width="0.9" />
<line x1="52.90" y1="208.31" x2="55.90" y2="208.31" stroke="#272d38" stroke-width="0.9" />
<rect x="61.00" y="219.12" width="6.3" height="35.88" fill="#c8102e"/>
<line x1="64.15" y1="219.12" x2="64.15" y2="217.28" stroke="#6e0819" stroke-width="0.9" />
<line x1="62.65" y1="217.28" x2="65.65" y2="217.28" stroke="#6e0819" stroke-width="0.9" />
<rect x="70.25" y="223.72" width="6.3" height="31.28" fill="#174e86"/>
<rect x="85.85" y="209.69" width="6.3" height="45.31" fill="#485366"/>
<line x1="89.00" y1="209.69" x2="89.00" y2="207.39" stroke="#272d38" stroke-width="0.9" />
<line x1="87.50" y1="207.39" x2="90.50" y2="207.39" stroke="#272d38" stroke-width="0.9" />
<rect x="95.20" y="226.62" width="6.3" height="28.38" fill="#c8102e"/>
<line x1="98.35" y1="226.62" x2="98.35" y2="226.16" stroke="#6e0819" stroke-width="0.9" />
<line x1="96.85" y1="226.16" x2="99.85" y2="226.16" stroke="#6e0819" stroke-width="0.9" />
<rect x="104.70" y="226.62" width="6.3" height="28.38" fill="#174e86"/>
<line x1="107.85" y1="226.62" x2="107.85" y2="226.16" stroke="#0c2a49" stroke-width="0.9" />
<line x1="106.35" y1="226.16" x2="109.35" y2="226.16" stroke="#0c2a49" stroke-width="0.9" />
<rect x="120.30" y="209.69" width="6.3" height="45.31" fill="#485366"/>
<line x1="123.45" y1="209.69" x2="123.45" y2="206.93" stroke="#272d38" stroke-width="0.9" />
<line x1="121.95" y1="206.93" x2="124.95" y2="206.93" stroke="#272d38" stroke-width="0.9" />
<rect x="129.60" y="244.19" width="6.3" height="10.81" fill="#c8102e"/>
<line x1="132.75" y1="244.19" x2="132.75" y2="242.35" stroke="#6e0819" stroke-width="0.9" />
<line x1="131.25" y1="242.35" x2="134.25" y2="242.35" stroke="#6e0819" stroke-width="0.9" />
<rect x="139.10" y="238.30" width="6.3" height="16.70" fill="#174e86"/>
<line x1="142.25" y1="238.30" x2="142.25" y2="237.84" stroke="#0c2a49" stroke-width="0.9" />
<line x1="140.75" y1="237.84" x2="143.75" y2="237.84" stroke="#0c2a49" stroke-width="0.9" />
<text x="63.75" y="267.00" font-size="6.5" text-anchor="middle" fill="#333" stroke="#333" stroke-width="0.2">Solvent</text>
<text x="98.50" y="267.00" font-size="6.5" text-anchor="middle" fill="#333" stroke="#333" stroke-width="0.2">1 µM</text>
<text x="133.00" y="267.00" font-size="6.5" text-anchor="middle" fill="#333" stroke="#333" stroke-width="0.2">2.5 µM</text>
<line x1="88.50" y1="270.20" x2="146.50" y2="270.20" stroke="#222" stroke-width="0.8" />
<text x="117.00" y="278.90" font-size="6.5" text-anchor="middle" fill="#333" stroke="#333" stroke-width="0.2">DMF</text>
<line x1="88.50" y1="190.50" x2="107.70" y2="190.50" stroke="#333" stroke-width="0.8" />
<line x1="88.50" y1="198.50" x2="98.50" y2="198.50" stroke="#333" stroke-width="0.8" />
<line x1="123.40" y1="190.50" x2="142.30" y2="190.50" stroke="#333" stroke-width="0.8" />
<line x1="123.40" y1="198.50" x2="133.00" y2="198.50" stroke="#333" stroke-width="0.8" />
<circle cx="96.25" cy="187.80" r="0.95" fill="#2a2a2a"/>
<circle cx="99.35" cy="187.80" r="0.95" fill="#2a2a2a"/>
<circle cx="91.95" cy="195.60" r="0.95" fill="#2a2a2a"/>
<circle cx="95.05" cy="195.60" r="0.95" fill="#2a2a2a"/>
<circle cx="129.65" cy="187.80" r="0.95" fill="#2a2a2a"/>
<circle cx="132.75" cy="187.80" r="0.95" fill="#2a2a2a"/>
<circle cx="135.85" cy="187.80" r="0.95" fill="#2a2a2a"/>
<circle cx="125.10" cy="195.60" r="0.95" fill="#2a2a2a"/>
<circle cx="128.20" cy="195.60" r="0.95" fill="#2a2a2a"/>
<circle cx="131.30" cy="195.60" r="0.95" fill="#2a2a2a"/>
<rect x="168.2" y="208.90" width="6" height="4.6" fill="#485366"/>
<text x="177.40" y="213.35" font-size="6.1" text-anchor="start" fill="#2e2e2e" stroke="#2e2e2e" stroke-width="0.16" textLength="27" lengthAdjust="spacing">shRNA co</text>
<rect x="168.2" y="217.20" width="6" height="4.6" fill="#c8102e"/>
<text x="177.40" y="221.65" font-size="6.1" text-anchor="start" fill="#2e2e2e" stroke="#2e2e2e" stroke-width="0.16" textLength="29.8" lengthAdjust="spacing">sh<tspan font-style="italic">BRD4</tspan> #2</text>
<rect x="168.2" y="225.90" width="6" height="4.6" fill="#174e86"/>
<text x="177.40" y="230.35" font-size="6.1" text-anchor="start" fill="#2e2e2e" stroke="#2e2e2e" stroke-width="0.16" textLength="29.8" lengthAdjust="spacing">sh<tspan font-style="italic">BRD4</tspan> #3</text>
<text x="397.00" y="184.80" font-size="9.7" text-anchor="middle" fill="#2a2a2a" stroke="#2a2a2a" stroke-width="0.2" textLength="32" lengthAdjust="spacingAndGlyphs">DOHH2</text>
<line x1="381.50" y1="186.20" x2="381.50" y2="263.30" stroke="#555" stroke-width="0.75" stroke-dasharray="1,1.2"/>
<rect x="341" y="192.35" width="86.50" height="5.7" fill="#485366"/>
<line x1="427.50" y1="195.20" x2="430.10" y2="195.20" stroke="#2a3140" stroke-width="0.9" />
<line x1="430.10" y1="193.80" x2="430.10" y2="196.60" stroke="#2a3140" stroke-width="0.9" />
<line x1="338.00" y1="195.20" x2="341.00" y2="195.20" stroke="#1a1a1a" stroke-width="1" />
<text x="335.30" y="197.30" font-size="6.7" text-anchor="end" fill="#333" stroke="#333" stroke-width="0.2">Solvent</text>
<rect x="341" y="200.30" width="51.78" height="5.7" fill="#485366"/>
<line x1="392.78" y1="203.15" x2="395.38" y2="203.15" stroke="#2a3140" stroke-width="0.9" />
<line x1="395.38" y1="201.75" x2="395.38" y2="204.55" stroke="#2a3140" stroke-width="0.9" />
<line x1="338.00" y1="203.15" x2="341.00" y2="203.15" stroke="#1a1a1a" stroke-width="1" />
<text x="335.30" y="205.25" font-size="6.7" text-anchor="end" fill="#333" stroke="#333" stroke-width="0.2">DMF</text>
<rect x="341" y="208.25" width="40.50" height="5.7" fill="#485366"/>
<line x1="381.50" y1="211.10" x2="384.10" y2="211.10" stroke="#2a3140" stroke-width="0.9" />
<line x1="384.10" y1="209.70" x2="384.10" y2="212.50" stroke="#2a3140" stroke-width="0.9" />
<line x1="338.00" y1="211.10" x2="341.00" y2="211.10" stroke="#1a1a1a" stroke-width="1" />
<text x="335.30" y="213.20" font-size="6.7" text-anchor="end" fill="#333" stroke="#333" stroke-width="0.2">JQ1</text>
<rect x="341" y="216.20" width="4.04" height="5.7" fill="#485366"/>
<line x1="345.04" y1="219.05" x2="346.78" y2="219.05" stroke="#2a3140" stroke-width="0.9" />
<line x1="346.78" y1="217.65" x2="346.78" y2="220.45" stroke="#2a3140" stroke-width="0.9" />
<line x1="338.00" y1="219.05" x2="341.00" y2="219.05" stroke="#1a1a1a" stroke-width="1" />
<text x="335.30" y="221.15" font-size="6.7" text-anchor="end" fill="#333" stroke="#333" stroke-width="0.2">Solvent</text>
<rect x="341" y="224.15" width="40.93" height="5.7" fill="#485366"/>
<line x1="381.93" y1="227.00" x2="383.67" y2="227.00" stroke="#2a3140" stroke-width="0.9" />
<line x1="383.67" y1="225.60" x2="383.67" y2="228.40" stroke="#2a3140" stroke-width="0.9" />
<line x1="338.00" y1="227.00" x2="341.00" y2="227.00" stroke="#1a1a1a" stroke-width="1" />
<text x="335.30" y="229.10" font-size="6.7" text-anchor="end" fill="#333" stroke="#333" stroke-width="0.2">Fer-1</text>
<rect x="341" y="232.10" width="43.10" height="5.7" fill="#485366"/>
<line x1="384.10" y1="234.95" x2="386.70" y2="234.95" stroke="#2a3140" stroke-width="0.9" />
<line x1="386.70" y1="233.55" x2="386.70" y2="236.35" stroke="#2a3140" stroke-width="0.9" />
<line x1="338.00" y1="234.95" x2="341.00" y2="234.95" stroke="#1a1a1a" stroke-width="1" />
<text x="335.30" y="237.05" font-size="6.7" text-anchor="end" fill="#333" stroke="#333" stroke-width="0.2">α-Toco</text>
<rect x="341" y="240.05" width="32.68" height="5.7" fill="#485366"/>
<line x1="373.68" y1="242.90" x2="375.42" y2="242.90" stroke="#2a3140" stroke-width="0.9" />
<line x1="375.42" y1="241.50" x2="375.42" y2="244.30" stroke="#2a3140" stroke-width="0.9" />
<line x1="338.00" y1="242.90" x2="341.00" y2="242.90" stroke="#1a1a1a" stroke-width="1" />
<text x="335.30" y="245.00" font-size="6.7" text-anchor="end" fill="#333" stroke="#333" stroke-width="0.2">DFX</text>
<rect x="341" y="248.00" width="34.85" height="5.7" fill="#485366"/>
<line x1="375.85" y1="250.85" x2="378.46" y2="250.85" stroke="#2a3140" stroke-width="0.9" />
<line x1="378.46" y1="249.45" x2="378.46" y2="252.25" stroke="#2a3140" stroke-width="0.9" />
<line x1="338.00" y1="250.85" x2="341.00" y2="250.85" stroke="#1a1a1a" stroke-width="1" />
<text x="335.30" y="252.95" font-size="6.7" text-anchor="end" fill="#333" stroke="#333" stroke-width="0.2">NAC</text>
<rect x="341" y="255.95" width="2.30" height="5.7" fill="#485366"/>
<line x1="338.00" y1="258.80" x2="341.00" y2="258.80" stroke="#1a1a1a" stroke-width="1" />
<text x="335.30" y="260.90" font-size="6.7" text-anchor="end" fill="#333" stroke="#333" stroke-width="0.2">Q-VD-OPh</text>
<line x1="341.10" y1="190.20" x2="341.10" y2="266.30" stroke="#1a1a1a" stroke-width="1.0" />
<line x1="341.00" y1="263.30" x2="451.90" y2="263.30" stroke="#1a1a1a" stroke-width="1.0" />
<text x="340.70" y="275.10" font-size="6.3" text-anchor="middle" fill="#333" stroke="#333" stroke-width="0.2">0.00</text>
<line x1="362.40" y1="263.30" x2="362.40" y2="266.30" stroke="#1a1a1a" stroke-width="1.0" />
<text x="362.40" y="275.10" font-size="6.3" text-anchor="middle" fill="#333" stroke="#333" stroke-width="0.2">0.25</text>
<line x1="384.10" y1="263.30" x2="384.10" y2="266.30" stroke="#1a1a1a" stroke-width="1.0" />
<text x="384.10" y="275.10" font-size="6.3" text-anchor="middle" fill="#333" stroke="#333" stroke-width="0.2">0.50</text>
<line x1="405.80" y1="263.30" x2="405.80" y2="266.30" stroke="#1a1a1a" stroke-width="1.0" />
<text x="405.80" y="275.10" font-size="6.3" text-anchor="middle" fill="#333" stroke="#333" stroke-width="0.2">0.75</text>
<line x1="427.50" y1="263.30" x2="427.50" y2="266.30" stroke="#1a1a1a" stroke-width="1.0" />
<text x="427.50" y="275.10" font-size="6.3" text-anchor="middle" fill="#333" stroke="#333" stroke-width="0.2">1.00</text>
<line x1="449.20" y1="263.30" x2="449.20" y2="266.30" stroke="#1a1a1a" stroke-width="1.0" />
<text x="449.20" y="275.10" font-size="6.3" text-anchor="middle" fill="#333" stroke="#333" stroke-width="0.2">1.25</text>
<text x="397.00" y="287.20" font-size="8.8" text-anchor="middle" fill="#333" stroke="#333" stroke-width="0.2" textLength="68" lengthAdjust="spacingAndGlyphs">Normalized cell count</text>
<line x1="296.50" y1="217.00" x2="296.50" y2="263.00" stroke="#222" stroke-width="0.9" />
<text x="291.80" y="240.00" font-size="6.8" text-anchor="middle" fill="#333" stroke="#333" stroke-width="0.2" transform="rotate(-90 291.80 240.00)">DMF + JQ1</text>
<line x1="414.50" y1="219.60" x2="414.50" y2="227.30" stroke="#222" stroke-width="0.8" />
<circle cx="417.00" cy="220.45" r="0.95" fill="#2a2a2a"/>
<circle cx="417.00" cy="223.45" r="0.95" fill="#2a2a2a"/>
<circle cx="417.00" cy="226.45" r="0.95" fill="#2a2a2a"/>
<line x1="423.50" y1="219.60" x2="423.50" y2="235.40" stroke="#222" stroke-width="0.8" />
<circle cx="426.10" cy="224.50" r="0.95" fill="#2a2a2a"/>
<circle cx="426.10" cy="227.50" r="0.95" fill="#2a2a2a"/>
<circle cx="426.10" cy="230.50" r="0.95" fill="#2a2a2a"/>
<line x1="432.50" y1="219.60" x2="432.50" y2="243.00" stroke="#222" stroke-width="0.8" />
<circle cx="435.10" cy="228.30" r="0.95" fill="#2a2a2a"/>
<circle cx="435.10" cy="231.30" r="0.95" fill="#2a2a2a"/>
<circle cx="435.10" cy="234.30" r="0.95" fill="#2a2a2a"/>
<line x1="441.50" y1="219.60" x2="441.50" y2="251.30" stroke="#222" stroke-width="0.8" />
<circle cx="444.30" cy="232.45" r="0.95" fill="#2a2a2a"/>
<circle cx="444.30" cy="235.45" r="0.95" fill="#2a2a2a"/>
<circle cx="444.30" cy="238.45" r="0.95" fill="#2a2a2a"/>
<text x="397.00" y="310.80" font-size="9.7" text-anchor="middle" fill="#2a2a2a" stroke="#2a2a2a" stroke-width="0.2" textLength="32" lengthAdjust="spacingAndGlyphs">DOHH2</text>
<line x1="404.40" y1="312.25" x2="404.40" y2="389.10" stroke="#555" stroke-width="0.75" stroke-dasharray="1,1.2"/>
<rect x="341" y="318.40" width="86.50" height="5.7" fill="#485366"/>
<line x1="427.50" y1="321.25" x2="430.10" y2="321.25" stroke="#2a3140" stroke-width="0.9" />
<line x1="430.10" y1="319.85" x2="430.10" y2="322.65" stroke="#2a3140" stroke-width="0.9" />
<line x1="338.00" y1="321.25" x2="341.00" y2="321.25" stroke="#1a1a1a" stroke-width="1" />
<text x="335.30" y="323.35" font-size="6.7" text-anchor="end" fill="#333" stroke="#333" stroke-width="0.2">Solvent</text>
<rect x="341" y="326.35" width="51.78" height="5.7" fill="#485366"/>
<line x1="392.78" y1="329.20" x2="394.52" y2="329.20" stroke="#2a3140" stroke-width="0.9" />
<line x1="394.52" y1="327.80" x2="394.52" y2="330.60" stroke="#2a3140" stroke-width="0.9" />
<line x1="338.00" y1="329.20" x2="341.00" y2="329.20" stroke="#1a1a1a" stroke-width="1" />
<text x="335.30" y="331.30" font-size="6.7" text-anchor="end" fill="#333" stroke="#333" stroke-width="0.2">DMF</text>
<rect x="341" y="334.30" width="63.93" height="5.7" fill="#485366"/>
<line x1="404.93" y1="337.15" x2="409.27" y2="337.15" stroke="#2a3140" stroke-width="0.9" />
<line x1="409.27" y1="335.75" x2="409.27" y2="338.55" stroke="#2a3140" stroke-width="0.9" />
<line x1="338.00" y1="337.15" x2="341.00" y2="337.15" stroke="#1a1a1a" stroke-width="1" />
<text x="335.30" y="339.25" font-size="6.7" text-anchor="end" fill="#333" stroke="#333" stroke-width="0.2">I-BET151</text>
<rect x="341" y="342.25" width="3.17" height="5.7" fill="#485366"/>
<line x1="344.17" y1="345.10" x2="345.04" y2="345.10" stroke="#2a3140" stroke-width="0.9" />
<line x1="345.04" y1="343.70" x2="345.04" y2="346.50" stroke="#2a3140" stroke-width="0.9" />
<line x1="338.00" y1="345.10" x2="341.00" y2="345.10" stroke="#1a1a1a" stroke-width="1" />
<text x="335.30" y="347.20" font-size="6.7" text-anchor="end" fill="#333" stroke="#333" stroke-width="0.2">Solvent</text>
<rect x="341" y="350.20" width="58.29" height="5.7" fill="#485366"/>
<line x1="399.29" y1="353.05" x2="401.03" y2="353.05" stroke="#2a3140" stroke-width="0.9" />
<line x1="401.03" y1="351.65" x2="401.03" y2="354.45" stroke="#2a3140" stroke-width="0.9" />
<line x1="338.00" y1="353.05" x2="341.00" y2="353.05" stroke="#1a1a1a" stroke-width="1" />
<text x="335.30" y="355.15" font-size="6.7" text-anchor="end" fill="#333" stroke="#333" stroke-width="0.2">Fer-1</text>
<rect x="341" y="358.15" width="58.29" height="5.7" fill="#485366"/>
<line x1="399.29" y1="361.00" x2="401.03" y2="361.00" stroke="#2a3140" stroke-width="0.9" />
<line x1="401.03" y1="359.60" x2="401.03" y2="362.40" stroke="#2a3140" stroke-width="0.9" />
<line x1="338.00" y1="361.00" x2="341.00" y2="361.00" stroke="#1a1a1a" stroke-width="1" />
<text x="335.30" y="363.10" font-size="6.7" text-anchor="end" fill="#333" stroke="#333" stroke-width="0.2">α-Toco</text>
<rect x="341" y="366.10" width="35.29" height="5.7" fill="#485366"/>
<line x1="376.29" y1="368.95" x2="379.76" y2="368.95" stroke="#2a3140" stroke-width="0.9" />
<line x1="379.76" y1="367.55" x2="379.76" y2="370.35" stroke="#2a3140" stroke-width="0.9" />
<line x1="338.00" y1="368.95" x2="341.00" y2="368.95" stroke="#1a1a1a" stroke-width="1" />
<text x="335.30" y="371.05" font-size="6.7" text-anchor="end" fill="#333" stroke="#333" stroke-width="0.2">DFX</text>
<rect x="341" y="374.05" width="58.29" height="5.7" fill="#485366"/>
<line x1="399.29" y1="376.90" x2="403.63" y2="376.90" stroke="#2a3140" stroke-width="0.9" />
<line x1="403.63" y1="375.50" x2="403.63" y2="378.30" stroke="#2a3140" stroke-width="0.9" />
<line x1="338.00" y1="376.90" x2="341.00" y2="376.90" stroke="#1a1a1a" stroke-width="1" />
<text x="335.30" y="379.00" font-size="6.7" text-anchor="end" fill="#333" stroke="#333" stroke-width="0.2">NAC</text>
<rect x="341" y="382.00" width="1.44" height="5.7" fill="#485366"/>
<line x1="338.00" y1="384.85" x2="341.00" y2="384.85" stroke="#1a1a1a" stroke-width="1" />
<text x="335.30" y="386.95" font-size="6.7" text-anchor="end" fill="#333" stroke="#333" stroke-width="0.2">Q-VD-OPh</text>
<line x1="341.10" y1="316.25" x2="341.10" y2="392.10" stroke="#1a1a1a" stroke-width="1.0" />
<line x1="341.00" y1="389.10" x2="451.90" y2="389.10" stroke="#1a1a1a" stroke-width="1.0" />
<text x="340.70" y="400.90" font-size="6.3" text-anchor="middle" fill="#333" stroke="#333" stroke-width="0.2">0.00</text>
<line x1="362.40" y1="389.10" x2="362.40" y2="392.10" stroke="#1a1a1a" stroke-width="1.0" />
<text x="362.40" y="400.90" font-size="6.3" text-anchor="middle" fill="#333" stroke="#333" stroke-width="0.2">0.25</text>
<line x1="384.10" y1="389.10" x2="384.10" y2="392.10" stroke="#1a1a1a" stroke-width="1.0" />
<text x="384.10" y="400.90" font-size="6.3" text-anchor="middle" fill="#333" stroke="#333" stroke-width="0.2">0.50</text>
<line x1="405.80" y1="389.10" x2="405.80" y2="392.10" stroke="#1a1a1a" stroke-width="1.0" />
<text x="405.80" y="400.90" font-size="6.3" text-anchor="middle" fill="#333" stroke="#333" stroke-width="0.2">0.75</text>
<line x1="427.50" y1="389.10" x2="427.50" y2="392.10" stroke="#1a1a1a" stroke-width="1.0" />
<text x="427.50" y="400.90" font-size="6.3" text-anchor="middle" fill="#333" stroke="#333" stroke-width="0.2">1.00</text>
<line x1="449.20" y1="389.10" x2="449.20" y2="392.10" stroke="#1a1a1a" stroke-width="1.0" />
<text x="449.20" y="400.90" font-size="6.3" text-anchor="middle" fill="#333" stroke="#333" stroke-width="0.2">1.25</text>
<text x="397.00" y="413.00" font-size="8.8" text-anchor="middle" fill="#333" stroke="#333" stroke-width="0.2" textLength="68" lengthAdjust="spacingAndGlyphs">Normalized cell count</text>
<line x1="296.50" y1="343.90" x2="296.50" y2="390.40" stroke="#222" stroke-width="0.9" />
<text x="291.80" y="367.15" font-size="6.8" text-anchor="middle" fill="#333" stroke="#333" stroke-width="0.2" textLength="48.5" lengthAdjust="spacingAndGlyphs" transform="rotate(-90 291.80 367.15)">DMF + I-BET151</text>
<line x1="414.50" y1="345.80" x2="414.50" y2="353.00" stroke="#222" stroke-width="0.8" />
<circle cx="417.00" cy="346.40" r="0.95" fill="#2a2a2a"/>
<circle cx="417.00" cy="349.40" r="0.95" fill="#2a2a2a"/>
<circle cx="417.00" cy="352.40" r="0.95" fill="#2a2a2a"/>
<line x1="423.50" y1="345.80" x2="423.50" y2="361.20" stroke="#222" stroke-width="0.8" />
<circle cx="426.10" cy="350.50" r="0.95" fill="#2a2a2a"/>
<circle cx="426.10" cy="353.50" r="0.95" fill="#2a2a2a"/>
<circle cx="426.10" cy="356.50" r="0.95" fill="#2a2a2a"/>
<line x1="432.50" y1="345.80" x2="432.50" y2="368.80" stroke="#222" stroke-width="0.8" />
<circle cx="435.10" cy="354.30" r="0.95" fill="#2a2a2a"/>
<circle cx="435.10" cy="357.30" r="0.95" fill="#2a2a2a"/>
<circle cx="435.10" cy="360.30" r="0.95" fill="#2a2a2a"/>
<line x1="441.50" y1="345.80" x2="441.50" y2="377.00" stroke="#222" stroke-width="0.8" />
<circle cx="444.30" cy="359.90" r="0.95" fill="#2a2a2a"/>
<circle cx="444.30" cy="362.90" r="0.95" fill="#2a2a2a"/>
<text x="71.75" y="318.00" font-size="9.7" text-anchor="middle" fill="#2a2a2a" stroke="#2a2a2a" stroke-width="0.2" textLength="32" lengthAdjust="spacingAndGlyphs">DOHH2</text>
<line x1="51.50" y1="324.75" x2="51.50" y2="394.75" stroke="#1a1a1a" stroke-width="1.0" />
<line x1="48.50" y1="394.25" x2="51.50" y2="394.25" stroke="#1a1a1a" stroke-width="1.0" />
<text x="45.10" y="396.52" font-size="6.3" text-anchor="end" fill="#333" stroke="#333" stroke-width="0.2">0.00</text>
<line x1="48.50" y1="380.45" x2="51.50" y2="380.45" stroke="#1a1a1a" stroke-width="1.0" />
<text x="45.10" y="382.72" font-size="6.3" text-anchor="end" fill="#333" stroke="#333" stroke-width="0.2">0.25</text>
<line x1="48.50" y1="366.65" x2="51.50" y2="366.65" stroke="#1a1a1a" stroke-width="1.0" />
<text x="45.10" y="368.92" font-size="6.3" text-anchor="end" fill="#333" stroke="#333" stroke-width="0.2">0.50</text>
<line x1="48.50" y1="352.85" x2="51.50" y2="352.85" stroke="#1a1a1a" stroke-width="1.0" />
<text x="45.10" y="355.12" font-size="6.3" text-anchor="end" fill="#333" stroke="#333" stroke-width="0.2">0.75</text>
<line x1="48.50" y1="339.05" x2="51.50" y2="339.05" stroke="#1a1a1a" stroke-width="1.0" />
<text x="45.10" y="341.32" font-size="6.3" text-anchor="end" fill="#333" stroke="#333" stroke-width="0.2">1.00</text>
<line x1="48.50" y1="325.25" x2="51.50" y2="325.25" stroke="#1a1a1a" stroke-width="1.0" />
<text x="45.10" y="327.52" font-size="6.3" text-anchor="end" fill="#333" stroke="#333" stroke-width="0.2">1.25</text>
<text x="28.08" y="358.75" font-size="8.8" text-anchor="middle" fill="#333" stroke="#333" stroke-width="0.2" textLength="67.5" lengthAdjust="spacingAndGlyphs" transform="rotate(-90 28.08 358.75)">Normalized cell count</text>
<line x1="51.25" y1="394.50" x2="95.00" y2="394.50" stroke="#1a1a1a" stroke-width="1.0" />
<line x1="51.75" y1="394.50" x2="51.75" y2="397.50" stroke="#1a1a1a" stroke-width="1.0" />
<text x="51.75" y="406.60" font-size="6.3" text-anchor="middle" fill="#333" stroke="#333" stroke-width="0.2">0.00</text>
<line x1="71.88" y1="394.50" x2="71.88" y2="397.50" stroke="#1a1a1a" stroke-width="1.0" />
<text x="71.88" y="406.60" font-size="6.3" text-anchor="middle" fill="#333" stroke="#333" stroke-width="0.2">0.05</text>
<line x1="92.00" y1="394.50" x2="92.00" y2="397.50" stroke="#1a1a1a" stroke-width="1.0" />
<text x="92.00" y="406.60" font-size="6.3" text-anchor="middle" fill="#333" stroke="#333" stroke-width="0.2">0.10</text>
<text x="73.40" y="418.90" font-size="8.6" text-anchor="middle" fill="#333" stroke="#333" stroke-width="0.2" textLength="33.2" lengthAdjust="spacingAndGlyphs">RSL3 [µM]</text>
<path d="M51.75,339.05 L71.88,350.09 L92.00,361.96" fill="none" stroke="#3a4250" stroke-width="0.95" stroke-linejoin="round"/>
<line x1="51.75" y1="336.84" x2="51.75" y2="341.26" stroke="#1a1d24" stroke-width="0.9" />
<line x1="50.25" y1="336.84" x2="53.25" y2="336.84" stroke="#1a1d24" stroke-width="0.9" />
<line x1="50.25" y1="341.26" x2="53.25" y2="341.26" stroke="#1a1d24" stroke-width="0.9" />
<line x1="71.88" y1="347.88" x2="71.88" y2="352.30" stroke="#1a1d24" stroke-width="0.9" />
<line x1="70.38" y1="347.88" x2="73.38" y2="347.88" stroke="#1a1d24" stroke-width="0.9" />
<line x1="70.38" y1="352.30" x2="73.38" y2="352.30" stroke="#1a1d24" stroke-width="0.9" />
<line x1="92.00" y1="360.30" x2="92.00" y2="363.61" stroke="#1a1d24" stroke-width="0.9" />
<line x1="90.50" y1="360.30" x2="93.50" y2="360.30" stroke="#1a1d24" stroke-width="0.9" />
<line x1="90.50" y1="363.61" x2="93.50" y2="363.61" stroke="#1a1d24" stroke-width="0.9" />
<circle cx="51.75" cy="339.05" r="1.3" fill="#3a4250"/>
<circle cx="71.88" cy="350.09" r="1.3" fill="#3a4250"/>
<circle cx="92.00" cy="361.96" r="1.3" fill="#3a4250"/>
<text x="200.20" y="318.00" font-size="9.7" text-anchor="middle" fill="#2a2a2a" stroke="#2a2a2a" stroke-width="0.2" textLength="32" lengthAdjust="spacingAndGlyphs">DOHH2</text>
<line x1="148.50" y1="324.75" x2="148.50" y2="394.75" stroke="#1a1a1a" stroke-width="1.0" />
<line x1="145.50" y1="394.25" x2="148.50" y2="394.25" stroke="#1a1a1a" stroke-width="1.0" />
<text x="142.10" y="396.52" font-size="6.3" text-anchor="end" fill="#333" stroke="#333" stroke-width="0.2">0.00</text>
<line x1="145.50" y1="380.45" x2="148.50" y2="380.45" stroke="#1a1a1a" stroke-width="1.0" />
<text x="142.10" y="382.72" font-size="6.3" text-anchor="end" fill="#333" stroke="#333" stroke-width="0.2">0.25</text>
<line x1="145.50" y1="366.65" x2="148.50" y2="366.65" stroke="#1a1a1a" stroke-width="1.0" />
<text x="142.10" y="368.92" font-size="6.3" text-anchor="end" fill="#333" stroke="#333" stroke-width="0.2">0.50</text>
<line x1="145.50" y1="352.85" x2="148.50" y2="352.85" stroke="#1a1a1a" stroke-width="1.0" />
<text x="142.10" y="355.12" font-size="6.3" text-anchor="end" fill="#333" stroke="#333" stroke-width="0.2">0.75</text>
<line x1="145.50" y1="339.05" x2="148.50" y2="339.05" stroke="#1a1a1a" stroke-width="1.0" />
<text x="142.10" y="341.32" font-size="6.3" text-anchor="end" fill="#333" stroke="#333" stroke-width="0.2">1.00</text>
<line x1="145.50" y1="325.25" x2="148.50" y2="325.25" stroke="#1a1a1a" stroke-width="1.0" />
<text x="142.10" y="327.52" font-size="6.3" text-anchor="end" fill="#333" stroke="#333" stroke-width="0.2">1.25</text>
<text x="123.78" y="358.00" font-size="8.8" text-anchor="middle" fill="#333" stroke="#333" stroke-width="0.2" textLength="67.5" lengthAdjust="spacingAndGlyphs" transform="rotate(-90 123.78 358.00)">Normalized cell count</text>
<line x1="148.00" y1="394.50" x2="254.00" y2="394.50" stroke="#1a1a1a" stroke-width="1.0" />
<line x1="148.50" y1="394.50" x2="148.50" y2="397.50" stroke="#1a1a1a" stroke-width="1.0" />
<text x="148.50" y="406.60" font-size="6.3" text-anchor="middle" fill="#333" stroke="#333" stroke-width="0.2">0.000</text>
<line x1="174.20" y1="394.50" x2="174.20" y2="397.50" stroke="#1a1a1a" stroke-width="1.0" />
<text x="174.20" y="406.60" font-size="6.3" text-anchor="middle" fill="#333" stroke="#333" stroke-width="0.2">0.025</text>
<line x1="199.90" y1="394.50" x2="199.90" y2="397.50" stroke="#1a1a1a" stroke-width="1.0" />
<text x="199.90" y="406.60" font-size="6.3" text-anchor="middle" fill="#333" stroke="#333" stroke-width="0.2">0.050</text>
<line x1="225.60" y1="394.50" x2="225.60" y2="397.50" stroke="#1a1a1a" stroke-width="1.0" />
<text x="225.60" y="406.60" font-size="6.3" text-anchor="middle" fill="#333" stroke="#333" stroke-width="0.2">0.075</text>
<line x1="251.30" y1="394.50" x2="251.30" y2="397.50" stroke="#1a1a1a" stroke-width="1.0" />
<text x="251.30" y="406.60" font-size="6.3" text-anchor="middle" fill="#333" stroke="#333" stroke-width="0.2">0.100</text>
<text x="199.75" y="417.50" font-size="8.6" text-anchor="middle" fill="#333" stroke="#333" stroke-width="0.2" textLength="30.1" lengthAdjust="spacingAndGlyphs">JQ1 [µM]</text>
<path d="M148.50,340.71 L158.78,347.33 L174.20,370.51 L199.90,391.49 L251.30,394.25" fill="none" stroke="#1d4a7e" stroke-width="0.95" stroke-linejoin="round"/>
<line x1="148.50" y1="339.05" x2="148.50" y2="342.36" stroke="#0d2138" stroke-width="0.9" />
<line x1="147.00" y1="339.05" x2="150.00" y2="339.05" stroke="#0d2138" stroke-width="0.9" />
<line x1="147.00" y1="342.36" x2="150.00" y2="342.36" stroke="#0d2138" stroke-width="0.9" />
<line x1="158.78" y1="345.12" x2="158.78" y2="349.54" stroke="#0d2138" stroke-width="0.9" />
<line x1="157.28" y1="345.12" x2="160.28" y2="345.12" stroke="#0d2138" stroke-width="0.9" />
<line x1="157.28" y1="349.54" x2="160.28" y2="349.54" stroke="#0d2138" stroke-width="0.9" />
<line x1="174.20" y1="367.75" x2="174.20" y2="373.27" stroke="#0d2138" stroke-width="0.9" />
<line x1="172.70" y1="367.75" x2="175.70" y2="367.75" stroke="#0d2138" stroke-width="0.9" />
<line x1="172.70" y1="373.27" x2="175.70" y2="373.27" stroke="#0d2138" stroke-width="0.9" />
<line x1="199.90" y1="389.83" x2="199.90" y2="393.15" stroke="#0d2138" stroke-width="0.9" />
<line x1="198.40" y1="389.83" x2="201.40" y2="389.83" stroke="#0d2138" stroke-width="0.9" />
<line x1="198.40" y1="393.15" x2="201.40" y2="393.15" stroke="#0d2138" stroke-width="0.9" />
<circle cx="148.50" cy="340.71" r="1.3" fill="#1d4a7e"/>
<circle cx="158.78" cy="347.33" r="1.3" fill="#1d4a7e"/>
<circle cx="174.20" cy="370.51" r="1.3" fill="#1d4a7e"/>
<circle cx="199.90" cy="391.49" r="1.3" fill="#1d4a7e"/>
<circle cx="251.30" cy="394.25" r="1.3" fill="#1d4a7e"/>
<path d="M148.50,339.05 L158.78,348.99 L174.20,360.03 L199.90,382.11 L251.30,394.25" fill="none" stroke="#b8163a" stroke-width="0.95" stroke-linejoin="round"/>
<line x1="148.50" y1="337.95" x2="148.50" y2="340.15" stroke="#52091a" stroke-width="0.9" />
<line x1="147.00" y1="337.95" x2="150.00" y2="337.95" stroke="#52091a" stroke-width="0.9" />
<line x1="147.00" y1="340.15" x2="150.00" y2="340.15" stroke="#52091a" stroke-width="0.9" />
<line x1="158.78" y1="347.33" x2="158.78" y2="350.64" stroke="#52091a" stroke-width="0.9" />
<line x1="157.28" y1="347.33" x2="160.28" y2="347.33" stroke="#52091a" stroke-width="0.9" />
<line x1="157.28" y1="350.64" x2="160.28" y2="350.64" stroke="#52091a" stroke-width="0.9" />
<line x1="174.20" y1="358.92" x2="174.20" y2="361.13" stroke="#52091a" stroke-width="0.9" />
<line x1="172.70" y1="358.92" x2="175.70" y2="358.92" stroke="#52091a" stroke-width="0.9" />
<line x1="172.70" y1="361.13" x2="175.70" y2="361.13" stroke="#52091a" stroke-width="0.9" />
<line x1="199.90" y1="381.00" x2="199.90" y2="383.21" stroke="#52091a" stroke-width="0.9" />
<line x1="198.40" y1="381.00" x2="201.40" y2="381.00" stroke="#52091a" stroke-width="0.9" />
<line x1="198.40" y1="383.21" x2="201.40" y2="383.21" stroke="#52091a" stroke-width="0.9" />
<circle cx="148.50" cy="339.05" r="1.3" fill="#b8163a"/>
<circle cx="158.78" cy="348.99" r="1.3" fill="#b8163a"/>
<circle cx="174.20" cy="360.03" r="1.3" fill="#b8163a"/>
<circle cx="199.90" cy="382.11" r="1.3" fill="#b8163a"/>
<circle cx="251.30" cy="394.25" r="1.3" fill="#b8163a"/>
<path d="M148.50,339.05 L158.78,337.95 L174.20,339.60 L199.90,347.88 L251.30,358.92" fill="none" stroke="#3a4250" stroke-width="0.95" stroke-linejoin="round"/>
<line x1="148.50" y1="335.74" x2="148.50" y2="342.36" stroke="#1a1d24" stroke-width="0.9" />
<line x1="147.00" y1="335.74" x2="150.00" y2="335.74" stroke="#1a1d24" stroke-width="0.9" />
<line x1="147.00" y1="342.36" x2="150.00" y2="342.36" stroke="#1a1d24" stroke-width="0.9" />
<line x1="158.78" y1="335.74" x2="158.78" y2="340.15" stroke="#1a1d24" stroke-width="0.9" />
<line x1="157.28" y1="335.74" x2="160.28" y2="335.74" stroke="#1a1d24" stroke-width="0.9" />
<line x1="157.28" y1="340.15" x2="160.28" y2="340.15" stroke="#1a1d24" stroke-width="0.9" />
<line x1="199.90" y1="345.67" x2="199.90" y2="350.09" stroke="#1a1d24" stroke-width="0.9" />
<line x1="198.40" y1="345.67" x2="201.40" y2="345.67" stroke="#1a1d24" stroke-width="0.9" />
<line x1="198.40" y1="350.09" x2="201.40" y2="350.09" stroke="#1a1d24" stroke-width="0.9" />
<line x1="251.30" y1="357.27" x2="251.30" y2="360.58" stroke="#1a1d24" stroke-width="0.9" />
<line x1="249.80" y1="357.27" x2="252.80" y2="357.27" stroke="#1a1d24" stroke-width="0.9" />
<line x1="249.80" y1="360.58" x2="252.80" y2="360.58" stroke="#1a1d24" stroke-width="0.9" />
<circle cx="148.50" cy="339.05" r="1.3" fill="#3a4250"/>
<circle cx="158.78" cy="337.95" r="1.3" fill="#3a4250"/>
<circle cx="174.20" cy="339.60" r="1.3" fill="#3a4250"/>
<circle cx="199.90" cy="347.88" r="1.3" fill="#3a4250"/>
<circle cx="251.30" cy="358.92" r="1.3" fill="#3a4250"/>
<circle cx="249.60" cy="388.80" r="0.95" fill="#2a2a2a"/>
<circle cx="252.90" cy="388.80" r="0.95" fill="#2a2a2a"/>
<line x1="75.50" y1="431.25" x2="82.70" y2="431.25" stroke="#2e3440" stroke-width="0.9" />
<circle cx="79.10" cy="431.25" r="1.3" fill="#2e3440"/>
<text x="84.80" y="433.34" font-size="5.8" text-anchor="start" fill="#2e2e2e" stroke="#2e2e2e" stroke-width="0.16" textLength="20.6" lengthAdjust="spacing">Solvent</text>
<line x1="118.00" y1="431.25" x2="125.20" y2="431.25" stroke="#93112e" stroke-width="0.9" />
<circle cx="121.60" cy="431.25" r="1.3" fill="#93112e"/>
<text x="127.80" y="433.34" font-size="5.8" text-anchor="start" fill="#2e2e2e" stroke="#2e2e2e" stroke-width="0.16" textLength="38.8" lengthAdjust="spacing">0.05 µM RSL3</text>
<line x1="177.50" y1="431.25" x2="184.70" y2="431.25" stroke="#173b64" stroke-width="0.9" />
<circle cx="181.10" cy="431.25" r="1.3" fill="#173b64"/>
<text x="187.30" y="433.34" font-size="5.8" text-anchor="start" fill="#2e2e2e" stroke="#2e2e2e" stroke-width="0.16" textLength="35.6" lengthAdjust="spacing">0.1 µM RSL3</text>
<text x="74.10" y="455.00" font-size="9.7" text-anchor="middle" fill="#2a2a2a" stroke="#2a2a2a" stroke-width="0.2" textLength="40" lengthAdjust="spacingAndGlyphs">SU-DHL-6</text>
<line x1="51.50" y1="461.60" x2="51.50" y2="531.10" stroke="#1a1a1a" stroke-width="1.0" />
<line x1="48.50" y1="530.60" x2="51.50" y2="530.60" stroke="#1a1a1a" stroke-width="1.0" />
<text x="45.10" y="532.87" font-size="6.3" text-anchor="end" fill="#333" stroke="#333" stroke-width="0.2">0.00</text>
<line x1="48.50" y1="516.90" x2="51.50" y2="516.90" stroke="#1a1a1a" stroke-width="1.0" />
<text x="45.10" y="519.17" font-size="6.3" text-anchor="end" fill="#333" stroke="#333" stroke-width="0.2">0.25</text>
<line x1="48.50" y1="503.20" x2="51.50" y2="503.20" stroke="#1a1a1a" stroke-width="1.0" />
<text x="45.10" y="505.47" font-size="6.3" text-anchor="end" fill="#333" stroke="#333" stroke-width="0.2">0.50</text>
<line x1="48.50" y1="489.50" x2="51.50" y2="489.50" stroke="#1a1a1a" stroke-width="1.0" />
<text x="45.10" y="491.77" font-size="6.3" text-anchor="end" fill="#333" stroke="#333" stroke-width="0.2">0.75</text>
<line x1="48.50" y1="475.80" x2="51.50" y2="475.80" stroke="#1a1a1a" stroke-width="1.0" />
<text x="45.10" y="478.07" font-size="6.3" text-anchor="end" fill="#333" stroke="#333" stroke-width="0.2">1.00</text>
<line x1="48.50" y1="462.10" x2="51.50" y2="462.10" stroke="#1a1a1a" stroke-width="1.0" />
<text x="45.10" y="464.37" font-size="6.3" text-anchor="end" fill="#333" stroke="#333" stroke-width="0.2">1.25</text>
<text x="28.08" y="495.35" font-size="8.8" text-anchor="middle" fill="#333" stroke="#333" stroke-width="0.2" textLength="67.5" lengthAdjust="spacingAndGlyphs" transform="rotate(-90 28.08 495.35)">Normalized cell count</text>
<line x1="51.00" y1="530.50" x2="95.00" y2="530.50" stroke="#1a1a1a" stroke-width="1.0" />
<line x1="51.50" y1="530.50" x2="51.50" y2="533.50" stroke="#1a1a1a" stroke-width="1.0" />
<line x1="71.78" y1="530.50" x2="71.78" y2="533.50" stroke="#1a1a1a" stroke-width="1.0" />
<line x1="92.05" y1="530.50" x2="92.05" y2="533.50" stroke="#1a1a1a" stroke-width="1.0" />
<text x="54.40" y="539.60" font-size="6.9" text-anchor="end" fill="#333" stroke="#333" stroke-width="0.2" transform="rotate(-45 54.40 539.60)">0.00</text>
<text x="74.70" y="539.60" font-size="6.9" text-anchor="end" fill="#333" stroke="#333" stroke-width="0.2" transform="rotate(-45 74.70 539.60)">0.0125</text>
<text x="95.00" y="539.60" font-size="6.9" text-anchor="end" fill="#333" stroke="#333" stroke-width="0.2" transform="rotate(-45 95.00 539.60)">0.0250</text>
<text x="72.10" y="566.40" font-size="8.2" text-anchor="middle" fill="#333" stroke="#333" stroke-width="0.2" textLength="32.5" lengthAdjust="spacingAndGlyphs">RSL3 [µM]</text>
<path d="M51.50,475.80 L67.72,497.99 L92.05,522.60" fill="none" stroke="#3a4250" stroke-width="0.95" stroke-linejoin="round"/>
<line x1="51.50" y1="474.70" x2="51.50" y2="476.90" stroke="#1a1d24" stroke-width="0.9" />
<line x1="50.00" y1="474.70" x2="53.00" y2="474.70" stroke="#1a1d24" stroke-width="0.9" />
<line x1="50.00" y1="476.90" x2="53.00" y2="476.90" stroke="#1a1d24" stroke-width="0.9" />
<line x1="67.72" y1="495.25" x2="67.72" y2="500.73" stroke="#1a1d24" stroke-width="0.9" />
<line x1="66.22" y1="495.25" x2="69.22" y2="495.25" stroke="#1a1d24" stroke-width="0.9" />
<line x1="66.22" y1="500.73" x2="69.22" y2="500.73" stroke="#1a1d24" stroke-width="0.9" />
<circle cx="51.50" cy="475.80" r="1.3" fill="#3a4250"/>
<circle cx="67.72" cy="497.99" r="1.3" fill="#3a4250"/>
<circle cx="92.05" cy="522.60" r="1.3" fill="#3a4250"/>
<text x="199.40" y="455.00" font-size="9.7" text-anchor="middle" fill="#2a2a2a" stroke="#2a2a2a" stroke-width="0.2" textLength="40" lengthAdjust="spacingAndGlyphs">SU-DHL-6</text>
<line x1="148.50" y1="461.60" x2="148.50" y2="531.10" stroke="#1a1a1a" stroke-width="1.0" />
<line x1="145.50" y1="530.60" x2="148.50" y2="530.60" stroke="#1a1a1a" stroke-width="1.0" />
<text x="142.10" y="532.87" font-size="6.3" text-anchor="end" fill="#333" stroke="#333" stroke-width="0.2">0.00</text>
<line x1="145.50" y1="516.90" x2="148.50" y2="516.90" stroke="#1a1a1a" stroke-width="1.0" />
<text x="142.10" y="519.17" font-size="6.3" text-anchor="end" fill="#333" stroke="#333" stroke-width="0.2">0.25</text>
<line x1="145.50" y1="503.20" x2="148.50" y2="503.20" stroke="#1a1a1a" stroke-width="1.0" />
<text x="142.10" y="505.47" font-size="6.3" text-anchor="end" fill="#333" stroke="#333" stroke-width="0.2">0.50</text>
<line x1="145.50" y1="489.50" x2="148.50" y2="489.50" stroke="#1a1a1a" stroke-width="1.0" />
<text x="142.10" y="491.77" font-size="6.3" text-anchor="end" fill="#333" stroke="#333" stroke-width="0.2">0.75</text>
<line x1="145.50" y1="475.80" x2="148.50" y2="475.80" stroke="#1a1a1a" stroke-width="1.0" />
<text x="142.10" y="478.07" font-size="6.3" text-anchor="end" fill="#333" stroke="#333" stroke-width="0.2">1.00</text>
<line x1="145.50" y1="462.10" x2="148.50" y2="462.10" stroke="#1a1a1a" stroke-width="1.0" />
<text x="142.10" y="464.37" font-size="6.3" text-anchor="end" fill="#333" stroke="#333" stroke-width="0.2">1.25</text>
<text x="123.38" y="495.00" font-size="8.8" text-anchor="middle" fill="#333" stroke="#333" stroke-width="0.2" textLength="67.5" lengthAdjust="spacingAndGlyphs" transform="rotate(-90 123.38 495.00)">Normalized cell count</text>
<line x1="147.50" y1="530.50" x2="254.00" y2="530.50" stroke="#1a1a1a" stroke-width="1.0" />
<line x1="148.00" y1="530.50" x2="148.00" y2="533.50" stroke="#1a1a1a" stroke-width="1.0" />
<text x="148.00" y="542.60" font-size="6.3" text-anchor="middle" fill="#333" stroke="#333" stroke-width="0.2">0.0</text>
<line x1="168.68" y1="530.50" x2="168.68" y2="533.50" stroke="#1a1a1a" stroke-width="1.0" />
<text x="168.68" y="542.60" font-size="6.3" text-anchor="middle" fill="#333" stroke="#333" stroke-width="0.2">0.1</text>
<line x1="189.36" y1="530.50" x2="189.36" y2="533.50" stroke="#1a1a1a" stroke-width="1.0" />
<text x="189.36" y="542.60" font-size="6.3" text-anchor="middle" fill="#333" stroke="#333" stroke-width="0.2">0.2</text>
<line x1="210.04" y1="530.50" x2="210.04" y2="533.50" stroke="#1a1a1a" stroke-width="1.0" />
<text x="210.04" y="542.60" font-size="6.3" text-anchor="middle" fill="#333" stroke="#333" stroke-width="0.2">0.3</text>
<line x1="230.72" y1="530.50" x2="230.72" y2="533.50" stroke="#1a1a1a" stroke-width="1.0" />
<text x="230.72" y="542.60" font-size="6.3" text-anchor="middle" fill="#333" stroke="#333" stroke-width="0.2">0.4</text>
<line x1="251.40" y1="530.50" x2="251.40" y2="533.50" stroke="#1a1a1a" stroke-width="1.0" />
<text x="251.40" y="542.60" font-size="6.3" text-anchor="middle" fill="#333" stroke="#333" stroke-width="0.2">0.5</text>
<text x="201.20" y="555.00" font-size="8.6" text-anchor="middle" fill="#333" stroke="#333" stroke-width="0.2" textLength="31" lengthAdjust="spacingAndGlyphs">JQ1 [µM]</text>
<path d="M148.00,478.54 L153.17,501.56 L158.34,529.50 L168.68,530.60 L199.70,530.60 L251.40,530.60" fill="none" stroke="#1d4a7e" stroke-width="0.95" stroke-linejoin="round"/>
<line x1="148.00" y1="475.80" x2="148.00" y2="481.28" stroke="#0d2138" stroke-width="0.9" />
<line x1="146.50" y1="475.80" x2="149.50" y2="475.80" stroke="#0d2138" stroke-width="0.9" />
<line x1="146.50" y1="481.28" x2="149.50" y2="481.28" stroke="#0d2138" stroke-width="0.9" />
<line x1="153.17" y1="496.08" x2="153.17" y2="507.04" stroke="#0d2138" stroke-width="0.9" />
<line x1="151.67" y1="496.08" x2="154.67" y2="496.08" stroke="#0d2138" stroke-width="0.9" />
<line x1="151.67" y1="507.04" x2="154.67" y2="507.04" stroke="#0d2138" stroke-width="0.9" />
<line x1="158.34" y1="528.96" x2="158.34" y2="530.05" stroke="#0d2138" stroke-width="0.9" />
<line x1="156.84" y1="528.96" x2="159.84" y2="528.96" stroke="#0d2138" stroke-width="0.9" />
<line x1="156.84" y1="530.05" x2="159.84" y2="530.05" stroke="#0d2138" stroke-width="0.9" />
<circle cx="148.00" cy="478.54" r="1.3" fill="#1d4a7e"/>
<circle cx="153.17" cy="501.56" r="1.3" fill="#1d4a7e"/>
<circle cx="158.34" cy="529.50" r="1.3" fill="#1d4a7e"/>
<circle cx="168.68" cy="530.60" r="1.3" fill="#1d4a7e"/>
<circle cx="199.70" cy="530.60" r="1.3" fill="#1d4a7e"/>
<circle cx="251.40" cy="530.60" r="1.3" fill="#1d4a7e"/>
<path d="M148.00,475.80 L153.17,481.83 L158.34,513.61 L168.68,530.05 L199.70,530.05 L251.40,530.05" fill="none" stroke="#b8163a" stroke-width="0.95" stroke-linejoin="round"/>
<line x1="148.00" y1="474.16" x2="148.00" y2="477.44" stroke="#52091a" stroke-width="0.9" />
<line x1="146.50" y1="474.16" x2="149.50" y2="474.16" stroke="#52091a" stroke-width="0.9" />
<line x1="146.50" y1="477.44" x2="149.50" y2="477.44" stroke="#52091a" stroke-width="0.9" />
<line x1="153.17" y1="480.18" x2="153.17" y2="483.47" stroke="#52091a" stroke-width="0.9" />
<line x1="151.67" y1="480.18" x2="154.67" y2="480.18" stroke="#52091a" stroke-width="0.9" />
<line x1="151.67" y1="483.47" x2="154.67" y2="483.47" stroke="#52091a" stroke-width="0.9" />
<line x1="158.34" y1="512.52" x2="158.34" y2="514.71" stroke="#52091a" stroke-width="0.9" />
<line x1="156.84" y1="512.52" x2="159.84" y2="512.52" stroke="#52091a" stroke-width="0.9" />
<line x1="156.84" y1="514.71" x2="159.84" y2="514.71" stroke="#52091a" stroke-width="0.9" />
<circle cx="148.00" cy="475.80" r="1.3" fill="#b8163a"/>
<circle cx="153.17" cy="481.83" r="1.3" fill="#b8163a"/>
<circle cx="158.34" cy="513.61" r="1.3" fill="#b8163a"/>
<circle cx="168.68" cy="530.05" r="1.3" fill="#b8163a"/>
<circle cx="199.70" cy="530.05" r="1.3" fill="#b8163a"/>
<circle cx="251.40" cy="530.05" r="1.3" fill="#b8163a"/>
<path d="M148.00,475.80 L153.17,473.06 L158.34,472.51 L168.68,476.90 L199.70,488.95 L251.40,496.08" fill="none" stroke="#3a4250" stroke-width="0.95" stroke-linejoin="round"/>
<line x1="148.00" y1="471.96" x2="148.00" y2="479.64" stroke="#1a1d24" stroke-width="0.9" />
<line x1="146.50" y1="471.96" x2="149.50" y2="471.96" stroke="#1a1d24" stroke-width="0.9" />
<line x1="146.50" y1="479.64" x2="149.50" y2="479.64" stroke="#1a1d24" stroke-width="0.9" />
<line x1="153.17" y1="469.77" x2="153.17" y2="476.35" stroke="#1a1d24" stroke-width="0.9" />
<line x1="151.67" y1="469.77" x2="154.67" y2="469.77" stroke="#1a1d24" stroke-width="0.9" />
<line x1="151.67" y1="476.35" x2="154.67" y2="476.35" stroke="#1a1d24" stroke-width="0.9" />
<line x1="158.34" y1="468.13" x2="158.34" y2="476.90" stroke="#1a1d24" stroke-width="0.9" />
<line x1="156.84" y1="468.13" x2="159.84" y2="468.13" stroke="#1a1d24" stroke-width="0.9" />
<line x1="156.84" y1="476.90" x2="159.84" y2="476.90" stroke="#1a1d24" stroke-width="0.9" />
<line x1="168.68" y1="476.35" x2="168.68" y2="477.44" stroke="#1a1d24" stroke-width="0.9" />
<line x1="167.18" y1="476.35" x2="170.18" y2="476.35" stroke="#1a1d24" stroke-width="0.9" />
<line x1="167.18" y1="477.44" x2="170.18" y2="477.44" stroke="#1a1d24" stroke-width="0.9" />
<line x1="199.70" y1="485.12" x2="199.70" y2="492.79" stroke="#1a1d24" stroke-width="0.9" />
<line x1="198.20" y1="485.12" x2="201.20" y2="485.12" stroke="#1a1d24" stroke-width="0.9" />
<line x1="198.20" y1="492.79" x2="201.20" y2="492.79" stroke="#1a1d24" stroke-width="0.9" />
<circle cx="148.00" cy="475.80" r="1.3" fill="#3a4250"/>
<circle cx="153.17" cy="473.06" r="1.3" fill="#3a4250"/>
<circle cx="158.34" cy="472.51" r="1.3" fill="#3a4250"/>
<circle cx="168.68" cy="476.90" r="1.3" fill="#3a4250"/>
<circle cx="199.70" cy="488.95" r="1.3" fill="#3a4250"/>
<circle cx="251.40" cy="496.08" r="1.3" fill="#3a4250"/>
<circle cx="248.40" cy="524.70" r="0.95" fill="#2a2a2a"/>
<circle cx="251.40" cy="524.70" r="0.95" fill="#2a2a2a"/>
<circle cx="254.40" cy="524.70" r="0.95" fill="#2a2a2a"/>
<line x1="71.50" y1="576.50" x2="78.70" y2="576.50" stroke="#2e3440" stroke-width="0.9" />
<circle cx="75.10" cy="576.50" r="1.3" fill="#2e3440"/>
<text x="80.80" y="578.59" font-size="5.8" text-anchor="start" fill="#2e2e2e" stroke="#2e2e2e" stroke-width="0.16" textLength="21.2" lengthAdjust="spacing">Solvent</text>
<line x1="115.80" y1="576.50" x2="123.00" y2="576.50" stroke="#93112e" stroke-width="0.9" />
<circle cx="119.40" cy="576.50" r="1.3" fill="#93112e"/>
<text x="125.20" y="578.59" font-size="5.8" text-anchor="start" fill="#2e2e2e" stroke="#2e2e2e" stroke-width="0.16" textLength="37.2" lengthAdjust="spacing">0.01 µM RSL3</text>
<line x1="173.50" y1="576.50" x2="180.70" y2="576.50" stroke="#173b64" stroke-width="0.9" />
<circle cx="177.10" cy="576.50" r="1.3" fill="#173b64"/>
<text x="182.80" y="578.59" font-size="5.8" text-anchor="start" fill="#2e2e2e" stroke="#2e2e2e" stroke-width="0.16" textLength="43.4" lengthAdjust="spacing">0.025 µM RSL3</text>
<text x="333.75" y="476.90" font-size="9.7" text-anchor="middle" fill="#2a2a2a" stroke="#2a2a2a" stroke-width="0.2" textLength="32" lengthAdjust="spacingAndGlyphs">DOHH2</text>
<line x1="313.50" y1="485.05" x2="313.50" y2="555.50" stroke="#1a1a1a" stroke-width="1.0" />
<line x1="310.50" y1="555.00" x2="313.50" y2="555.00" stroke="#1a1a1a" stroke-width="1.0" />
<text x="307.10" y="557.27" font-size="6.3" text-anchor="end" fill="#333" stroke="#333" stroke-width="0.2">0.0</text>
<line x1="310.50" y1="531.85" x2="313.50" y2="531.85" stroke="#1a1a1a" stroke-width="1.0" />
<text x="307.10" y="534.12" font-size="6.3" text-anchor="end" fill="#333" stroke="#333" stroke-width="0.2">0.5</text>
<line x1="310.50" y1="508.70" x2="313.50" y2="508.70" stroke="#1a1a1a" stroke-width="1.0" />
<text x="307.10" y="510.97" font-size="6.3" text-anchor="end" fill="#333" stroke="#333" stroke-width="0.2">1.0</text>
<line x1="310.50" y1="485.55" x2="313.50" y2="485.55" stroke="#1a1a1a" stroke-width="1.0" />
<text x="307.10" y="487.82" font-size="6.3" text-anchor="end" fill="#333" stroke="#333" stroke-width="0.2">1.5</text>
<text x="293.58" y="520.27" font-size="8.8" text-anchor="middle" fill="#333" stroke="#333" stroke-width="0.2" textLength="67.5" lengthAdjust="spacingAndGlyphs" transform="rotate(-90 293.58 520.27)">Normalized cell count</text>
<line x1="312.50" y1="555.50" x2="353.75" y2="555.50" stroke="#1a1a1a" stroke-width="1.0" />
<line x1="323.25" y1="555.50" x2="323.25" y2="558.50" stroke="#1a1a1a" stroke-width="1.0" />
<line x1="343.75" y1="555.50" x2="343.75" y2="558.50" stroke="#1a1a1a" stroke-width="1.0" />
<rect x="317.00" y="508.70" width="13.00" height="46.30" fill="#485366"/>
<line x1="323.50" y1="508.70" x2="323.50" y2="506.85" stroke="#2b313d" stroke-width="0.9" />
<line x1="320.00" y1="506.85" x2="327.00" y2="506.85" stroke="#2b313d" stroke-width="0.9" />
<rect x="337.00" y="519.35" width="13.50" height="35.65" fill="#485366"/>
<line x1="343.75" y1="519.35" x2="343.75" y2="516.11" stroke="#2b313d" stroke-width="0.9" />
<line x1="340.25" y1="516.11" x2="347.25" y2="516.11" stroke="#2b313d" stroke-width="0.9" />
<text x="326.25" y="564.00" font-size="7.2" text-anchor="end" fill="#333" stroke="#333" stroke-width="0.2" transform="rotate(-45 326.25 564.00)">Solvent</text>
<text x="346.75" y="564.00" font-size="7.2" text-anchor="end" fill="#333" stroke="#333" stroke-width="0.2" transform="rotate(-45 346.75 564.00)">DMF</text>
<text x="334.50" y="609.50" font-size="9.7" text-anchor="middle" fill="#2a2a2a" stroke="#2a2a2a" stroke-width="0.2" textLength="40" lengthAdjust="spacingAndGlyphs">SU-DHL-6</text>
<line x1="313.50" y1="616.30" x2="313.50" y2="686.75" stroke="#1a1a1a" stroke-width="1.0" />
<line x1="310.50" y1="686.25" x2="313.50" y2="686.25" stroke="#1a1a1a" stroke-width="1.0" />
<text x="307.10" y="688.52" font-size="6.3" text-anchor="end" fill="#333" stroke="#333" stroke-width="0.2">0.0</text>
<line x1="310.50" y1="663.10" x2="313.50" y2="663.10" stroke="#1a1a1a" stroke-width="1.0" />
<text x="307.10" y="665.37" font-size="6.3" text-anchor="end" fill="#333" stroke="#333" stroke-width="0.2">0.5</text>
<line x1="310.50" y1="639.95" x2="313.50" y2="639.95" stroke="#1a1a1a" stroke-width="1.0" />
<text x="307.10" y="642.22" font-size="6.3" text-anchor="end" fill="#333" stroke="#333" stroke-width="0.2">1.0</text>
<line x1="310.50" y1="616.80" x2="313.50" y2="616.80" stroke="#1a1a1a" stroke-width="1.0" />
<text x="307.10" y="619.07" font-size="6.3" text-anchor="end" fill="#333" stroke="#333" stroke-width="0.2">1.5</text>
<text x="293.58" y="651.52" font-size="8.8" text-anchor="middle" fill="#333" stroke="#333" stroke-width="0.2" textLength="67.5" lengthAdjust="spacingAndGlyphs" transform="rotate(-90 293.58 651.52)">Normalized cell count</text>
<line x1="312.50" y1="686.50" x2="353.75" y2="686.50" stroke="#1a1a1a" stroke-width="1.0" />
<line x1="324.00" y1="686.50" x2="324.00" y2="689.50" stroke="#1a1a1a" stroke-width="1.0" />
<line x1="344.25" y1="686.50" x2="344.25" y2="689.50" stroke="#1a1a1a" stroke-width="1.0" />
<rect x="317.50" y="639.95" width="13.00" height="46.30" fill="#485366"/>
<line x1="324.00" y1="639.95" x2="324.00" y2="639.02" stroke="#2b313d" stroke-width="0.9" />
<line x1="320.50" y1="639.02" x2="327.50" y2="639.02" stroke="#2b313d" stroke-width="0.9" />
<rect x="337.50" y="671.90" width="13.00" height="14.35" fill="#485366"/>
<line x1="344.00" y1="671.90" x2="344.00" y2="669.58" stroke="#2b313d" stroke-width="0.9" />
<line x1="340.50" y1="669.58" x2="347.50" y2="669.58" stroke="#2b313d" stroke-width="0.9" />
<text x="327.00" y="695.25" font-size="7.2" text-anchor="end" fill="#333" stroke="#333" stroke-width="0.2" transform="rotate(-45 327.00 695.25)">Solvent</text>
<text x="347.25" y="695.25" font-size="7.2" text-anchor="end" fill="#333" stroke="#333" stroke-width="0.2" transform="rotate(-45 347.25 695.25)">DMF</text>
<text x="456.50" y="477.60" font-size="9.7" text-anchor="middle" fill="#2a2a2a" stroke="#2a2a2a" stroke-width="0.2" textLength="32" lengthAdjust="spacingAndGlyphs">DOHH2</text>
<line x1="404.50" y1="485.05" x2="404.50" y2="555.30" stroke="#1a1a1a" stroke-width="1.0" />
<line x1="401.50" y1="554.80" x2="404.50" y2="554.80" stroke="#1a1a1a" stroke-width="1.0" />
<text x="398.10" y="557.07" font-size="6.3" text-anchor="end" fill="#333" stroke="#333" stroke-width="0.2">0.00</text>
<line x1="401.50" y1="540.95" x2="404.50" y2="540.95" stroke="#1a1a1a" stroke-width="1.0" />
<text x="398.10" y="543.22" font-size="6.3" text-anchor="end" fill="#333" stroke="#333" stroke-width="0.2">0.25</text>
<line x1="401.50" y1="527.10" x2="404.50" y2="527.10" stroke="#1a1a1a" stroke-width="1.0" />
<text x="398.10" y="529.37" font-size="6.3" text-anchor="end" fill="#333" stroke="#333" stroke-width="0.2">0.50</text>
<line x1="401.50" y1="513.25" x2="404.50" y2="513.25" stroke="#1a1a1a" stroke-width="1.0" />
<text x="398.10" y="515.52" font-size="6.3" text-anchor="end" fill="#333" stroke="#333" stroke-width="0.2">0.75</text>
<line x1="401.50" y1="499.40" x2="404.50" y2="499.40" stroke="#1a1a1a" stroke-width="1.0" />
<text x="398.10" y="501.67" font-size="6.3" text-anchor="end" fill="#333" stroke="#333" stroke-width="0.2">1.00</text>
<line x1="401.50" y1="485.55" x2="404.50" y2="485.55" stroke="#1a1a1a" stroke-width="1.0" />
<text x="398.10" y="487.82" font-size="6.3" text-anchor="end" fill="#333" stroke="#333" stroke-width="0.2">1.25</text>
<text x="378.68" y="519.17" font-size="8.8" text-anchor="middle" fill="#333" stroke="#333" stroke-width="0.2" textLength="67.5" lengthAdjust="spacingAndGlyphs" transform="rotate(-90 378.68 519.17)">Normalized cell count</text>
<line x1="403.50" y1="554.50" x2="511.00" y2="554.50" stroke="#1a1a1a" stroke-width="1.0" />
<line x1="404.00" y1="554.50" x2="404.00" y2="557.50" stroke="#1a1a1a" stroke-width="1.0" />
<text x="404.00" y="566.60" font-size="6.3" text-anchor="middle" fill="#333" stroke="#333" stroke-width="0.2">0.0</text>
<line x1="424.88" y1="554.50" x2="424.88" y2="557.50" stroke="#1a1a1a" stroke-width="1.0" />
<text x="424.88" y="566.60" font-size="6.3" text-anchor="middle" fill="#333" stroke="#333" stroke-width="0.2">1.0</text>
<line x1="445.76" y1="554.50" x2="445.76" y2="557.50" stroke="#1a1a1a" stroke-width="1.0" />
<text x="445.76" y="566.60" font-size="6.3" text-anchor="middle" fill="#333" stroke="#333" stroke-width="0.2">2.0</text>
<line x1="466.64" y1="554.50" x2="466.64" y2="557.50" stroke="#1a1a1a" stroke-width="1.0" />
<text x="466.64" y="566.60" font-size="6.3" text-anchor="middle" fill="#333" stroke="#333" stroke-width="0.2">3.0</text>
<line x1="487.52" y1="554.50" x2="487.52" y2="557.50" stroke="#1a1a1a" stroke-width="1.0" />
<text x="487.52" y="566.60" font-size="6.3" text-anchor="middle" fill="#333" stroke="#333" stroke-width="0.2">4.0</text>
<line x1="508.40" y1="554.50" x2="508.40" y2="557.50" stroke="#1a1a1a" stroke-width="1.0" />
<text x="508.40" y="566.60" font-size="6.3" text-anchor="middle" fill="#333" stroke="#333" stroke-width="0.2">5.0</text>
<text x="458.10" y="578.80" font-size="8" text-anchor="middle" fill="#333" stroke="#333" stroke-width="0.2" textLength="42.6" lengthAdjust="spacingAndGlyphs">LDC067 [µM]</text>
<path d="M404.00,499.40 L414.44,499.40 L424.88,505.77 L456.20,542.06 L508.40,550.53" fill="none" stroke="#b8163a" stroke-width="1.2" stroke-linejoin="round"/>
<line x1="404.00" y1="496.08" x2="404.00" y2="502.72" stroke="#52091a" stroke-width="0.9" />
<line x1="402.50" y1="496.08" x2="405.50" y2="496.08" stroke="#52091a" stroke-width="0.9" />
<line x1="402.50" y1="502.72" x2="405.50" y2="502.72" stroke="#52091a" stroke-width="0.9" />
<line x1="414.44" y1="494.97" x2="414.44" y2="503.83" stroke="#52091a" stroke-width="0.9" />
<line x1="412.94" y1="494.97" x2="415.94" y2="494.97" stroke="#52091a" stroke-width="0.9" />
<line x1="412.94" y1="503.83" x2="415.94" y2="503.83" stroke="#52091a" stroke-width="0.9" />
<line x1="424.88" y1="504.11" x2="424.88" y2="507.43" stroke="#52091a" stroke-width="0.9" />
<line x1="423.38" y1="504.11" x2="426.38" y2="504.11" stroke="#52091a" stroke-width="0.9" />
<line x1="423.38" y1="507.43" x2="426.38" y2="507.43" stroke="#52091a" stroke-width="0.9" />
<line x1="508.40" y1="549.43" x2="508.40" y2="551.64" stroke="#52091a" stroke-width="0.9" />
<line x1="506.90" y1="549.43" x2="509.90" y2="549.43" stroke="#52091a" stroke-width="0.9" />
<line x1="506.90" y1="551.64" x2="509.90" y2="551.64" stroke="#52091a" stroke-width="0.9" />
<circle cx="404.00" cy="499.40" r="1.5" fill="#b8163a"/>
<circle cx="414.44" cy="499.40" r="1.5" fill="#b8163a"/>
<circle cx="424.88" cy="505.77" r="1.5" fill="#b8163a"/>
<circle cx="456.20" cy="542.06" r="1.5" fill="#b8163a"/>
<circle cx="508.40" cy="550.53" r="1.5" fill="#b8163a"/>
<path d="M404.00,499.40 L414.44,499.40 L424.88,501.06 L456.20,516.02 L508.40,541.50" fill="none" stroke="#3a4250" stroke-width="0.95" stroke-linejoin="round"/>
<line x1="404.00" y1="495.52" x2="404.00" y2="503.28" stroke="#1a1d24" stroke-width="0.9" />
<line x1="402.50" y1="495.52" x2="405.50" y2="495.52" stroke="#1a1d24" stroke-width="0.9" />
<line x1="402.50" y1="503.28" x2="405.50" y2="503.28" stroke="#1a1d24" stroke-width="0.9" />
<line x1="414.44" y1="494.41" x2="414.44" y2="504.39" stroke="#1a1d24" stroke-width="0.9" />
<line x1="412.94" y1="494.41" x2="415.94" y2="494.41" stroke="#1a1d24" stroke-width="0.9" />
<line x1="412.94" y1="504.39" x2="415.94" y2="504.39" stroke="#1a1d24" stroke-width="0.9" />
<line x1="424.88" y1="498.29" x2="424.88" y2="503.83" stroke="#1a1d24" stroke-width="0.9" />
<line x1="423.38" y1="498.29" x2="426.38" y2="498.29" stroke="#1a1d24" stroke-width="0.9" />
<line x1="423.38" y1="503.83" x2="426.38" y2="503.83" stroke="#1a1d24" stroke-width="0.9" />
<line x1="456.20" y1="514.36" x2="456.20" y2="517.68" stroke="#1a1d24" stroke-width="0.9" />
<line x1="454.70" y1="514.36" x2="457.70" y2="514.36" stroke="#1a1d24" stroke-width="0.9" />
<line x1="454.70" y1="517.68" x2="457.70" y2="517.68" stroke="#1a1d24" stroke-width="0.9" />
<circle cx="404.00" cy="499.40" r="1.3" fill="#3a4250"/>
<circle cx="414.44" cy="499.40" r="1.3" fill="#3a4250"/>
<circle cx="424.88" cy="501.06" r="1.3" fill="#3a4250"/>
<circle cx="456.20" cy="516.02" r="1.3" fill="#3a4250"/>
<circle cx="508.40" cy="541.50" r="1.3" fill="#3a4250"/>
<circle cx="508.30" cy="547.50" r="0.95" fill="#2a2a2a"/>
<line x1="473.30" y1="491.30" x2="480.50" y2="491.30" stroke="#2e3440" stroke-width="0.9" />
<circle cx="476.90" cy="491.30" r="1.3" fill="#2e3440"/>
<text x="482.80" y="493.39" font-size="5.8" text-anchor="start" fill="#2e2e2e" stroke="#2e2e2e" stroke-width="0.16" textLength="20.8" lengthAdjust="spacing">Solvent</text>
<line x1="473.30" y1="499.10" x2="480.50" y2="499.10" stroke="#93112e" stroke-width="0.9" />
<circle cx="476.90" cy="499.10" r="1.3" fill="#93112e"/>
<text x="482.80" y="501.19" font-size="5.8" text-anchor="start" fill="#2e2e2e" stroke="#2e2e2e" stroke-width="0.16" textLength="14.4" lengthAdjust="spacing">DMF</text>
<text x="453.60" y="610.00" font-size="9.7" text-anchor="middle" fill="#2a2a2a" stroke="#2a2a2a" stroke-width="0.2" textLength="40" lengthAdjust="spacingAndGlyphs">SU-DHL-6</text>
<line x1="402.50" y1="616.25" x2="402.50" y2="686.50" stroke="#1a1a1a" stroke-width="1.0" />
<line x1="399.50" y1="686.00" x2="402.50" y2="686.00" stroke="#1a1a1a" stroke-width="1.0" />
<text x="396.10" y="688.27" font-size="6.3" text-anchor="end" fill="#333" stroke="#333" stroke-width="0.2">0.00</text>
<line x1="399.50" y1="672.15" x2="402.50" y2="672.15" stroke="#1a1a1a" stroke-width="1.0" />
<text x="396.10" y="674.42" font-size="6.3" text-anchor="end" fill="#333" stroke="#333" stroke-width="0.2">0.25</text>
<line x1="399.50" y1="658.30" x2="402.50" y2="658.30" stroke="#1a1a1a" stroke-width="1.0" />
<text x="396.10" y="660.57" font-size="6.3" text-anchor="end" fill="#333" stroke="#333" stroke-width="0.2">0.50</text>
<line x1="399.50" y1="644.45" x2="402.50" y2="644.45" stroke="#1a1a1a" stroke-width="1.0" />
<text x="396.10" y="646.72" font-size="6.3" text-anchor="end" fill="#333" stroke="#333" stroke-width="0.2">0.75</text>
<line x1="399.50" y1="630.60" x2="402.50" y2="630.60" stroke="#1a1a1a" stroke-width="1.0" />
<text x="396.10" y="632.87" font-size="6.3" text-anchor="end" fill="#333" stroke="#333" stroke-width="0.2">1.00</text>
<line x1="399.50" y1="616.75" x2="402.50" y2="616.75" stroke="#1a1a1a" stroke-width="1.0" />
<text x="396.10" y="619.02" font-size="6.3" text-anchor="end" fill="#333" stroke="#333" stroke-width="0.2">1.25</text>
<text x="378.68" y="650.38" font-size="8.8" text-anchor="middle" fill="#333" stroke="#333" stroke-width="0.2" textLength="67.5" lengthAdjust="spacingAndGlyphs" transform="rotate(-90 378.68 650.38)">Normalized cell count</text>
<line x1="402.10" y1="686.50" x2="510.00" y2="686.50" stroke="#1a1a1a" stroke-width="1.0" />
<line x1="402.60" y1="686.50" x2="402.60" y2="689.50" stroke="#1a1a1a" stroke-width="1.0" />
<text x="402.60" y="698.60" font-size="6.3" text-anchor="middle" fill="#333" stroke="#333" stroke-width="0.2">0.0</text>
<line x1="423.55" y1="686.50" x2="423.55" y2="689.50" stroke="#1a1a1a" stroke-width="1.0" />
<text x="423.55" y="698.60" font-size="6.3" text-anchor="middle" fill="#333" stroke="#333" stroke-width="0.2">0.5</text>
<line x1="444.50" y1="686.50" x2="444.50" y2="689.50" stroke="#1a1a1a" stroke-width="1.0" />
<text x="444.50" y="698.60" font-size="6.3" text-anchor="middle" fill="#333" stroke="#333" stroke-width="0.2">1.0</text>
<line x1="465.45" y1="686.50" x2="465.45" y2="689.50" stroke="#1a1a1a" stroke-width="1.0" />
<text x="465.45" y="698.60" font-size="6.3" text-anchor="middle" fill="#333" stroke="#333" stroke-width="0.2">1.5</text>
<line x1="486.40" y1="686.50" x2="486.40" y2="689.50" stroke="#1a1a1a" stroke-width="1.0" />
<text x="486.40" y="698.60" font-size="6.3" text-anchor="middle" fill="#333" stroke="#333" stroke-width="0.2">2.0</text>
<line x1="507.35" y1="686.50" x2="507.35" y2="689.50" stroke="#1a1a1a" stroke-width="1.0" />
<text x="507.35" y="698.60" font-size="6.3" text-anchor="middle" fill="#333" stroke="#333" stroke-width="0.2">2.5</text>
<text x="457.00" y="710.70" font-size="8" text-anchor="middle" fill="#333" stroke="#333" stroke-width="0.2" textLength="42.8" lengthAdjust="spacingAndGlyphs">LDC067 [µM]</text>
<path d="M402.60,630.60 L413.08,660.52 L423.55,663.84 L444.50,674.92 L507.35,682.12" fill="none" stroke="#b8163a" stroke-width="1.2" stroke-linejoin="round"/>
<line x1="402.60" y1="627.83" x2="402.60" y2="633.37" stroke="#52091a" stroke-width="0.9" />
<line x1="401.10" y1="627.83" x2="404.10" y2="627.83" stroke="#52091a" stroke-width="0.9" />
<line x1="401.10" y1="633.37" x2="404.10" y2="633.37" stroke="#52091a" stroke-width="0.9" />
<line x1="413.08" y1="657.75" x2="413.08" y2="663.29" stroke="#52091a" stroke-width="0.9" />
<line x1="411.58" y1="657.75" x2="414.58" y2="657.75" stroke="#52091a" stroke-width="0.9" />
<line x1="411.58" y1="663.29" x2="414.58" y2="663.29" stroke="#52091a" stroke-width="0.9" />
<line x1="423.55" y1="662.18" x2="423.55" y2="665.50" stroke="#52091a" stroke-width="0.9" />
<line x1="422.05" y1="662.18" x2="425.05" y2="662.18" stroke="#52091a" stroke-width="0.9" />
<line x1="422.05" y1="665.50" x2="425.05" y2="665.50" stroke="#52091a" stroke-width="0.9" />
<line x1="444.50" y1="671.60" x2="444.50" y2="678.24" stroke="#52091a" stroke-width="0.9" />
<line x1="443.00" y1="671.60" x2="446.00" y2="671.60" stroke="#52091a" stroke-width="0.9" />
<line x1="443.00" y1="678.24" x2="446.00" y2="678.24" stroke="#52091a" stroke-width="0.9" />
<line x1="507.35" y1="681.57" x2="507.35" y2="682.68" stroke="#52091a" stroke-width="0.9" />
<line x1="505.85" y1="681.57" x2="508.85" y2="681.57" stroke="#52091a" stroke-width="0.9" />
<line x1="505.85" y1="682.68" x2="508.85" y2="682.68" stroke="#52091a" stroke-width="0.9" />
<circle cx="402.60" cy="630.60" r="1.5" fill="#b8163a"/>
<circle cx="413.08" cy="660.52" r="1.5" fill="#b8163a"/>
<circle cx="423.55" cy="663.84" r="1.5" fill="#b8163a"/>
<circle cx="444.50" cy="674.92" r="1.5" fill="#b8163a"/>
<circle cx="507.35" cy="682.12" r="1.5" fill="#b8163a"/>
<path d="M402.60,630.60 L413.08,632.26 L423.55,635.59 L444.50,638.36 L507.35,652.21" fill="none" stroke="#3a4250" stroke-width="0.95" stroke-linejoin="round"/>
<line x1="402.60" y1="629.49" x2="402.60" y2="631.71" stroke="#1a1d24" stroke-width="0.9" />
<line x1="401.10" y1="629.49" x2="404.10" y2="629.49" stroke="#1a1d24" stroke-width="0.9" />
<line x1="401.10" y1="631.71" x2="404.10" y2="631.71" stroke="#1a1d24" stroke-width="0.9" />
<line x1="413.08" y1="628.38" x2="413.08" y2="636.14" stroke="#1a1d24" stroke-width="0.9" />
<line x1="411.58" y1="628.38" x2="414.58" y2="628.38" stroke="#1a1d24" stroke-width="0.9" />
<line x1="411.58" y1="636.14" x2="414.58" y2="636.14" stroke="#1a1d24" stroke-width="0.9" />
<line x1="423.55" y1="633.92" x2="423.55" y2="637.25" stroke="#1a1d24" stroke-width="0.9" />
<line x1="422.05" y1="633.92" x2="425.05" y2="633.92" stroke="#1a1d24" stroke-width="0.9" />
<line x1="422.05" y1="637.25" x2="425.05" y2="637.25" stroke="#1a1d24" stroke-width="0.9" />
<circle cx="402.60" cy="630.60" r="1.3" fill="#3a4250"/>
<circle cx="413.08" cy="632.26" r="1.3" fill="#3a4250"/>
<circle cx="423.55" cy="635.59" r="1.3" fill="#3a4250"/>
<circle cx="444.50" cy="638.36" r="1.3" fill="#3a4250"/>
<circle cx="507.35" cy="652.21" r="1.3" fill="#3a4250"/>
<circle cx="504.20" cy="678.50" r="0.95" fill="#2a2a2a"/>
<circle cx="507.20" cy="678.50" r="0.95" fill="#2a2a2a"/>
<circle cx="510.20" cy="678.50" r="0.95" fill="#2a2a2a"/>
<line x1="472.40" y1="619.70" x2="479.60" y2="619.70" stroke="#2e3440" stroke-width="0.9" />
<circle cx="476.00" cy="619.70" r="1.3" fill="#2e3440"/>
<text x="482.80" y="621.79" font-size="5.8" text-anchor="start" fill="#2e2e2e" stroke="#2e2e2e" stroke-width="0.16" textLength="20.8" lengthAdjust="spacing">Solvent</text>
<line x1="472.40" y1="627.50" x2="479.60" y2="627.50" stroke="#93112e" stroke-width="0.9" />
<circle cx="476.00" cy="627.50" r="1.3" fill="#93112e"/>
<text x="482.80" y="629.59" font-size="5.8" text-anchor="start" fill="#2e2e2e" stroke="#2e2e2e" stroke-width="0.16" textLength="14.4" lengthAdjust="spacing">DMF</text>
<text x="57.00" y="625.50" font-size="9.7" text-anchor="middle" fill="#2a2a2a" stroke="#2a2a2a" stroke-width="0.2" textLength="32" lengthAdjust="spacingAndGlyphs">DOHH2</text>
<line x1="30.00" y1="652.50" x2="83.75" y2="652.50" stroke="#ecdab2" stroke-width="0.8" />
<path d="M30.50,652.50 L30.50,652.50 L30.83,652.50 L31.16,652.50 L31.49,652.50 L31.82,652.50 L32.15,652.50 L32.48,652.50 L32.81,652.50 L33.14,652.50 L33.47,652.50 L33.80,652.50 L34.13,652.50 L34.46,652.50 L34.79,652.50 L35.12,652.50 L35.45,652.50 L35.77,652.50 L36.10,652.50 L36.43,652.50 L36.76,652.50 L37.09,652.50 L37.42,652.50 L37.75,652.50 L38.08,652.50 L38.41,652.50 L38.74,652.50 L39.07,652.50 L39.40,652.50 L39.73,652.50 L40.06,652.50 L40.39,652.50 L40.72,652.50 L41.05,652.50 L41.38,652.50 L41.71,652.50 L42.04,652.50 L42.37,652.50 L42.70,652.50 L43.03,652.50 L43.36,652.50 L43.69,652.50 L44.02,652.50 L44.35,652.50 L44.68,652.50 L45.01,652.50 L45.34,652.50 L45.67,652.50 L46.00,652.50 L46.33,652.49 L46.65,652.49 L46.98,652.48 L47.31,652.45 L47.64,652.42 L47.97,652.36 L48.30,652.26 L48.63,652.13 L48.96,651.94 L49.29,651.69 L49.62,651.37 L49.95,651.00 L50.28,650.59 L50.61,650.16 L50.94,649.76 L51.27,649.41 L51.60,649.16 L51.93,649.04 L52.26,649.06 L52.59,649.24 L52.92,649.53 L53.25,649.90 L53.58,650.26 L53.91,650.58 L54.24,650.81 L54.57,650.94 L54.90,650.97 L55.23,650.94 L55.56,650.85 L55.89,650.75 L56.22,650.64 L56.55,650.53 L56.88,650.43 L57.20,650.33 L57.53,650.22 L57.86,650.07 L58.19,649.87 L58.52,649.59 L58.85,649.22 L59.18,648.75 L59.51,648.18 L59.84,647.51 L60.17,646.76 L60.50,645.96 L60.83,645.12 L61.16,644.30 L61.49,643.52 L61.82,642.83 L62.15,642.25 L62.48,641.83 L62.81,641.57 L63.14,641.50 L63.47,641.75 L63.80,642.39 L64.13,643.34 L64.46,644.50 L64.79,645.78 L65.12,647.06 L65.45,648.26 L65.78,649.32 L66.11,650.20 L66.44,650.90 L66.77,651.42 L67.10,651.80 L67.42,652.07 L67.75,652.24 L68.08,652.35 L68.41,652.42 L68.74,652.46 L69.07,652.48 L69.40,652.49 L69.73,652.49 L70.06,652.50 L70.39,652.50 L70.72,652.50 L71.05,652.50 L71.38,652.50 L71.71,652.50 L72.04,652.50 L72.37,652.50 L72.70,652.50 L73.03,652.50 L73.36,652.50 L73.69,652.50 L74.02,652.50 L74.35,652.50 L74.68,652.50 L75.01,652.50 L75.34,652.50 L75.67,652.50 L76.00,652.50 L76.33,652.50 L76.66,652.50 L76.99,652.50 L77.32,652.50 L77.65,652.50 L77.97,652.50 L78.30,652.50 L78.63,652.50 L78.96,652.50 L79.29,652.50 L79.62,652.50 L79.95,652.50 L80.28,652.50 L80.61,652.50 L80.94,652.50 L81.27,652.50 L81.60,652.50 L81.93,652.50 L82.26,652.50 L82.59,652.50 L82.92,652.50 L83.25,652.50 L83.25,652.50 Z" fill="#f6c274" fill-opacity="0.85" stroke="none"/>
<path d="M48.30,652.26 L48.63,652.13 L48.96,651.94 L49.29,651.69 L49.62,651.37 L49.95,651.00 L50.28,650.59 L50.61,650.16 L50.94,649.76 L51.27,649.41 L51.60,649.16 L51.93,649.04 L52.26,649.06 L52.59,649.24 L52.92,649.53 L53.25,649.90 L53.58,650.26 L53.91,650.58 L54.24,650.81 L54.57,650.94 L54.90,650.97 L55.23,650.94 L55.56,650.85 L55.89,650.75 L56.22,650.64 L56.55,650.53 L56.88,650.43 L57.20,650.33 L57.53,650.22 L57.86,650.07 L58.19,649.87 L58.52,649.59 L58.85,649.22 L59.18,648.75 L59.51,648.18 L59.84,647.51 L60.17,646.76 L60.50,645.96 L60.83,645.12 L61.16,644.30 L61.49,643.52 L61.82,642.83 L62.15,642.25 L62.48,641.83 L62.81,641.57 L63.14,641.50 L63.47,641.75 L63.80,642.39 L64.13,643.34 L64.46,644.50 L64.79,645.78 L65.12,647.06 L65.45,648.26 L65.78,649.32 L66.11,650.20 L66.44,650.90 L66.77,651.42 L67.10,651.80 L67.42,652.07 L67.75,652.24 " fill="none" stroke="#dc9638" stroke-width="0.65" stroke-linejoin="round"/>
<line x1="30.00" y1="663.35" x2="83.75" y2="663.35" stroke="#b98a96" stroke-width="0.8" />
<path d="M30.50,663.35 L30.50,663.35 L30.83,663.35 L31.16,663.35 L31.49,663.35 L31.82,663.35 L32.15,663.35 L32.48,663.35 L32.81,663.35 L33.14,663.35 L33.47,663.35 L33.80,663.35 L34.13,663.35 L34.46,663.35 L34.79,663.35 L35.12,663.35 L35.45,663.35 L35.77,663.35 L36.10,663.35 L36.43,663.35 L36.76,663.35 L37.09,663.35 L37.42,663.35 L37.75,663.35 L38.08,663.35 L38.41,663.35 L38.74,663.35 L39.07,663.35 L39.40,663.34 L39.73,663.34 L40.06,663.33 L40.39,663.31 L40.72,663.29 L41.05,663.24 L41.38,663.16 L41.71,663.04 L42.04,662.86 L42.37,662.60 L42.70,662.24 L43.03,661.74 L43.36,661.09 L43.69,660.27 L44.02,659.29 L44.35,658.14 L44.68,656.87 L45.01,655.53 L45.34,654.19 L45.67,652.94 L46.00,651.87 L46.33,651.07 L46.65,650.59 L46.98,650.50 L47.31,651.08 L47.64,652.35 L47.97,654.07 L48.30,655.95 L48.63,657.75 L48.96,659.26 L49.29,660.40 L49.62,661.18 L49.95,661.65 L50.28,661.90 L50.61,662.02 L50.94,662.07 L51.27,662.11 L51.60,662.15 L51.93,662.20 L52.26,662.24 L52.59,662.26 L52.92,662.23 L53.25,662.16 L53.58,662.01 L53.91,661.80 L54.24,661.53 L54.57,661.19 L54.90,660.81 L55.23,660.39 L55.56,659.97 L55.89,659.56 L56.22,659.18 L56.55,658.85 L56.88,658.59 L57.20,658.42 L57.53,658.35 L57.86,658.39 L58.19,658.55 L58.52,658.81 L58.85,659.17 L59.18,659.59 L59.51,660.05 L59.84,660.52 L60.17,660.99 L60.50,661.43 L60.83,661.82 L61.16,662.16 L61.49,662.45 L61.82,662.69 L62.15,662.87 L62.48,663.01 L62.81,663.12 L63.14,663.20 L63.47,663.25 L63.80,663.29 L64.13,663.31 L64.46,663.33 L64.79,663.34 L65.12,663.34 L65.45,663.35 L65.78,663.35 L66.11,663.35 L66.44,663.35 L66.77,663.35 L67.10,663.35 L67.42,663.35 L67.75,663.35 L68.08,663.35 L68.41,663.35 L68.74,663.35 L69.07,663.35 L69.40,663.35 L69.73,663.35 L70.06,663.35 L70.39,663.35 L70.72,663.35 L71.05,663.35 L71.38,663.35 L71.71,663.35 L72.04,663.35 L72.37,663.35 L72.70,663.35 L73.03,663.35 L73.36,663.35 L73.69,663.35 L74.02,663.35 L74.35,663.35 L74.68,663.35 L75.01,663.35 L75.34,663.35 L75.67,663.35 L76.00,663.35 L76.33,663.35 L76.66,663.35 L76.99,663.35 L77.32,663.35 L77.65,663.35 L77.97,663.35 L78.30,663.35 L78.63,663.35 L78.96,663.35 L79.29,663.35 L79.62,663.35 L79.95,663.35 L80.28,663.35 L80.61,663.35 L80.94,663.35 L81.27,663.35 L81.60,663.35 L81.93,663.35 L82.26,663.35 L82.59,663.35 L82.92,663.35 L83.25,663.35 L83.25,663.35 Z" fill="#e2646e" fill-opacity="0.72" stroke="none"/>
<path d="M41.38,663.16 L41.71,663.04 L42.04,662.86 L42.37,662.60 L42.70,662.24 L43.03,661.74 L43.36,661.09 L43.69,660.27 L44.02,659.29 L44.35,658.14 L44.68,656.87 L45.01,655.53 L45.34,654.19 L45.67,652.94 L46.00,651.87 L46.33,651.07 L46.65,650.59 L46.98,650.50 L47.31,651.08 L47.64,652.35 L47.97,654.07 L48.30,655.95 L48.63,657.75 L48.96,659.26 L49.29,660.40 L49.62,661.18 L49.95,661.65 L50.28,661.90 L50.61,662.02 L50.94,662.07 L51.27,662.11 L51.60,662.15 L51.93,662.20 L52.26,662.24 L52.59,662.26 L52.92,662.23 L53.25,662.16 L53.58,662.01 L53.91,661.80 L54.24,661.53 L54.57,661.19 L54.90,660.81 L55.23,660.39 L55.56,659.97 L55.89,659.56 L56.22,659.18 L56.55,658.85 L56.88,658.59 L57.20,658.42 L57.53,658.35 L57.86,658.39 L58.19,658.55 L58.52,658.81 L58.85,659.17 L59.18,659.59 L59.51,660.05 L59.84,660.52 L60.17,660.99 L60.50,661.43 L60.83,661.82 L61.16,662.16 L61.49,662.45 L61.82,662.69 L62.15,662.87 L62.48,663.01 L62.81,663.12 L63.14,663.20 " fill="none" stroke="#a02436" stroke-width="0.65" stroke-linejoin="round"/>
<line x1="30.00" y1="674.40" x2="83.75" y2="674.40" stroke="#8e96aa" stroke-width="0.8" />
<path d="M30.50,674.40 L30.50,674.40 L30.83,674.40 L31.16,674.40 L31.49,674.40 L31.82,674.40 L32.15,674.40 L32.48,674.40 L32.81,674.40 L33.14,674.40 L33.47,674.40 L33.80,674.40 L34.13,674.40 L34.46,674.40 L34.79,674.40 L35.12,674.40 L35.45,674.40 L35.77,674.40 L36.10,674.40 L36.43,674.40 L36.76,674.39 L37.09,674.39 L37.42,674.38 L37.75,674.36 L38.08,674.34 L38.41,674.30 L38.74,674.24 L39.07,674.15 L39.40,674.02 L39.73,673.84 L40.06,673.58 L40.39,673.22 L40.72,672.75 L41.05,672.13 L41.38,671.34 L41.71,670.36 L42.04,669.18 L42.37,667.79 L42.70,666.19 L43.03,664.42 L43.36,662.51 L43.69,660.53 L44.02,658.54 L44.35,656.64 L44.68,654.91 L45.01,653.45 L45.34,652.34 L45.67,651.64 L46.00,651.40 L46.33,651.87 L46.65,653.25 L46.98,655.37 L47.31,657.98 L47.64,660.83 L47.97,663.65 L48.30,666.24 L48.63,668.46 L48.96,670.26 L49.29,671.63 L49.62,672.63 L49.95,673.31 L50.28,673.76 L50.61,674.04 L50.94,674.20 L51.27,674.30 L51.60,674.35 L51.93,674.38 L52.26,674.39 L52.59,674.40 L52.92,674.40 L53.25,674.40 L53.58,674.40 L53.91,674.40 L54.24,674.40 L54.57,674.40 L54.90,674.40 L55.23,674.40 L55.56,674.40 L55.89,674.40 L56.22,674.40 L56.55,674.40 L56.88,674.40 L57.20,674.40 L57.53,674.40 L57.86,674.40 L58.19,674.40 L58.52,674.40 L58.85,674.40 L59.18,674.40 L59.51,674.40 L59.84,674.40 L60.17,674.40 L60.50,674.40 L60.83,674.40 L61.16,674.40 L61.49,674.40 L61.82,674.40 L62.15,674.40 L62.48,674.40 L62.81,674.40 L63.14,674.40 L63.47,674.40 L63.80,674.40 L64.13,674.40 L64.46,674.40 L64.79,674.40 L65.12,674.40 L65.45,674.40 L65.78,674.40 L66.11,674.40 L66.44,674.40 L66.77,674.40 L67.10,674.40 L67.42,674.40 L67.75,674.40 L68.08,674.40 L68.41,674.40 L68.74,674.40 L69.07,674.40 L69.40,674.40 L69.73,674.40 L70.06,674.40 L70.39,674.40 L70.72,674.40 L71.05,674.40 L71.38,674.40 L71.71,674.40 L72.04,674.40 L72.37,674.40 L72.70,674.40 L73.03,674.40 L73.36,674.40 L73.69,674.40 L74.02,674.40 L74.35,674.40 L74.68,674.40 L75.01,674.40 L75.34,674.40 L75.67,674.40 L76.00,674.40 L76.33,674.40 L76.66,674.40 L76.99,674.40 L77.32,674.40 L77.65,674.40 L77.97,674.40 L78.30,674.40 L78.63,674.40 L78.96,674.40 L79.29,674.40 L79.62,674.40 L79.95,674.40 L80.28,674.40 L80.61,674.40 L80.94,674.40 L81.27,674.40 L81.60,674.40 L81.93,674.40 L82.26,674.40 L82.59,674.40 L82.92,674.40 L83.25,674.40 L83.25,674.40 Z" fill="#6680b8" fill-opacity="0.68" stroke="none"/>
<path d="M38.74,674.24 L39.07,674.15 L39.40,674.02 L39.73,673.84 L40.06,673.58 L40.39,673.22 L40.72,672.75 L41.05,672.13 L41.38,671.34 L41.71,670.36 L42.04,669.18 L42.37,667.79 L42.70,666.19 L43.03,664.42 L43.36,662.51 L43.69,660.53 L44.02,658.54 L44.35,656.64 L44.68,654.91 L45.01,653.45 L45.34,652.34 L45.67,651.64 L46.00,651.40 L46.33,651.87 L46.65,653.25 L46.98,655.37 L47.31,657.98 L47.64,660.83 L47.97,663.65 L48.30,666.24 L48.63,668.46 L48.96,670.26 L49.29,671.63 L49.62,672.63 L49.95,673.31 L50.28,673.76 L50.61,674.04 L50.94,674.20 " fill="none" stroke="#304a86" stroke-width="0.65" stroke-linejoin="round"/>
<path d="M30.50,684.70 L30.50,684.70 L30.83,684.70 L31.16,684.70 L31.49,684.70 L31.82,684.70 L32.15,684.70 L32.48,684.70 L32.81,684.70 L33.14,684.70 L33.47,684.70 L33.80,684.70 L34.13,684.70 L34.46,684.70 L34.79,684.70 L35.12,684.70 L35.45,684.70 L35.77,684.70 L36.10,684.69 L36.43,684.68 L36.76,684.67 L37.09,684.64 L37.42,684.60 L37.75,684.52 L38.08,684.40 L38.41,684.20 L38.74,683.92 L39.07,683.50 L39.40,682.91 L39.73,682.11 L40.06,681.07 L40.39,679.75 L40.72,678.17 L41.05,676.33 L41.38,674.29 L41.71,672.14 L42.04,670.00 L42.37,668.00 L42.70,666.29 L43.03,665.01 L43.36,664.27 L43.69,664.13 L44.02,664.71 L44.35,666.00 L44.68,667.84 L45.01,670.07 L45.34,672.47 L45.67,674.85 L46.00,677.07 L46.33,679.00 L46.65,680.60 L46.98,681.86 L47.31,682.81 L47.64,683.48 L47.97,683.95 L48.30,684.25 L48.63,684.44 L48.96,684.56 L49.29,684.62 L49.62,684.66 L49.95,684.68 L50.28,684.69 L50.61,684.70 L50.94,684.70 L51.27,684.70 L51.60,684.70 L51.93,684.70 L52.26,684.70 L52.59,684.70 L52.92,684.70 L53.25,684.70 L53.58,684.70 L53.91,684.70 L54.24,684.70 L54.57,684.70 L54.90,684.70 L55.23,684.70 L55.56,684.70 L55.89,684.70 L56.22,684.70 L56.55,684.70 L56.88,684.70 L57.20,684.70 L57.53,684.70 L57.86,684.70 L58.19,684.70 L58.52,684.70 L58.85,684.70 L59.18,684.70 L59.51,684.70 L59.84,684.70 L60.17,684.70 L60.50,684.70 L60.83,684.70 L61.16,684.70 L61.49,684.70 L61.82,684.70 L62.15,684.70 L62.48,684.70 L62.81,684.70 L63.14,684.70 L63.47,684.70 L63.80,684.70 L64.13,684.70 L64.46,684.70 L64.79,684.70 L65.12,684.70 L65.45,684.70 L65.78,684.70 L66.11,684.70 L66.44,684.70 L66.77,684.70 L67.10,684.70 L67.42,684.70 L67.75,684.70 L68.08,684.70 L68.41,684.70 L68.74,684.70 L69.07,684.70 L69.40,684.70 L69.73,684.70 L70.06,684.70 L70.39,684.70 L70.72,684.70 L71.05,684.70 L71.38,684.70 L71.71,684.70 L72.04,684.70 L72.37,684.70 L72.70,684.70 L73.03,684.70 L73.36,684.70 L73.69,684.70 L74.02,684.70 L74.35,684.70 L74.68,684.70 L75.01,684.70 L75.34,684.70 L75.67,684.70 L76.00,684.70 L76.33,684.70 L76.66,684.70 L76.99,684.70 L77.32,684.70 L77.65,684.70 L77.97,684.70 L78.30,684.70 L78.63,684.70 L78.96,684.70 L79.29,684.70 L79.62,684.70 L79.95,684.70 L80.28,684.70 L80.61,684.70 L80.94,684.70 L81.27,684.70 L81.60,684.70 L81.93,684.70 L82.26,684.70 L82.59,684.70 L82.92,684.70 L83.25,684.70 L83.25,684.70 Z" fill="#8e92a4" fill-opacity="0.62" stroke="none"/>
<path d="M37.75,684.52 L38.08,684.40 L38.41,684.20 L38.74,683.92 L39.07,683.50 L39.40,682.91 L39.73,682.11 L40.06,681.07 L40.39,679.75 L40.72,678.17 L41.05,676.33 L41.38,674.29 L41.71,672.14 L42.04,670.00 L42.37,668.00 L42.70,666.29 L43.03,665.01 L43.36,664.27 L43.69,664.13 L44.02,664.71 L44.35,666.00 L44.68,667.84 L45.01,670.07 L45.34,672.47 L45.67,674.85 L46.00,677.07 L46.33,679.00 L46.65,680.60 L46.98,681.86 L47.31,682.81 L47.64,683.48 L47.97,683.95 L48.30,684.25 L48.63,684.44 " fill="none" stroke="#464854" stroke-width="0.65" stroke-linejoin="round"/>
<rect x="30.50" y="630.50" width="53.00" height="54.00" fill="none" stroke="#6a6a6a" stroke-width="0.9"/>
<line x1="30.00" y1="684.70" x2="83.75" y2="684.70" stroke="#333" stroke-width="1.0" />
<line x1="31.00" y1="684.70" x2="31.00" y2="686.70" stroke="#444" stroke-width="0.5" />
<line x1="32.35" y1="684.70" x2="32.35" y2="685.90" stroke="#444" stroke-width="0.5" />
<line x1="33.70" y1="684.70" x2="33.70" y2="685.90" stroke="#444" stroke-width="0.5" />
<line x1="35.05" y1="684.70" x2="35.05" y2="685.90" stroke="#444" stroke-width="0.5" />
<line x1="36.40" y1="684.70" x2="36.40" y2="685.90" stroke="#444" stroke-width="0.5" />
<line x1="37.75" y1="684.70" x2="37.75" y2="686.70" stroke="#444" stroke-width="0.5" />
<line x1="39.10" y1="684.70" x2="39.10" y2="685.90" stroke="#444" stroke-width="0.5" />
<line x1="40.45" y1="684.70" x2="40.45" y2="685.90" stroke="#444" stroke-width="0.5" />
<line x1="41.80" y1="684.70" x2="41.80" y2="685.90" stroke="#444" stroke-width="0.5" />
<line x1="43.15" y1="684.70" x2="43.15" y2="685.90" stroke="#444" stroke-width="0.5" />
<line x1="44.50" y1="684.70" x2="44.50" y2="686.70" stroke="#444" stroke-width="0.5" />
<line x1="45.85" y1="684.70" x2="45.85" y2="685.90" stroke="#444" stroke-width="0.5" />
<line x1="47.20" y1="684.70" x2="47.20" y2="685.90" stroke="#444" stroke-width="0.5" />
<line x1="48.55" y1="684.70" x2="48.55" y2="685.90" stroke="#444" stroke-width="0.5" />
<line x1="49.90" y1="684.70" x2="49.90" y2="685.90" stroke="#444" stroke-width="0.5" />
<line x1="51.25" y1="684.70" x2="51.25" y2="686.70" stroke="#444" stroke-width="0.5" />
<line x1="52.60" y1="684.70" x2="52.60" y2="685.90" stroke="#444" stroke-width="0.5" />
<line x1="53.95" y1="684.70" x2="53.95" y2="685.90" stroke="#444" stroke-width="0.5" />
<line x1="55.30" y1="684.70" x2="55.30" y2="685.90" stroke="#444" stroke-width="0.5" />
<line x1="56.65" y1="684.70" x2="56.65" y2="685.90" stroke="#444" stroke-width="0.5" />
<line x1="58.00" y1="684.70" x2="58.00" y2="686.70" stroke="#444" stroke-width="0.5" />
<line x1="59.35" y1="684.70" x2="59.35" y2="685.90" stroke="#444" stroke-width="0.5" />
<line x1="60.70" y1="684.70" x2="60.70" y2="685.90" stroke="#444" stroke-width="0.5" />
<line x1="62.05" y1="684.70" x2="62.05" y2="685.90" stroke="#444" stroke-width="0.5" />
<line x1="63.40" y1="684.70" x2="63.40" y2="685.90" stroke="#444" stroke-width="0.5" />
<line x1="64.75" y1="684.70" x2="64.75" y2="686.70" stroke="#444" stroke-width="0.5" />
<line x1="66.10" y1="684.70" x2="66.10" y2="685.90" stroke="#444" stroke-width="0.5" />
<line x1="67.45" y1="684.70" x2="67.45" y2="685.90" stroke="#444" stroke-width="0.5" />
<line x1="68.80" y1="684.70" x2="68.80" y2="685.90" stroke="#444" stroke-width="0.5" />
<line x1="70.15" y1="684.70" x2="70.15" y2="685.90" stroke="#444" stroke-width="0.5" />
<line x1="71.50" y1="684.70" x2="71.50" y2="686.70" stroke="#444" stroke-width="0.5" />
<line x1="72.85" y1="684.70" x2="72.85" y2="685.90" stroke="#444" stroke-width="0.5" />
<line x1="74.20" y1="684.70" x2="74.20" y2="685.90" stroke="#444" stroke-width="0.5" />
<line x1="75.55" y1="684.70" x2="75.55" y2="685.90" stroke="#444" stroke-width="0.5" />
<line x1="76.90" y1="684.70" x2="76.90" y2="685.90" stroke="#444" stroke-width="0.5" />
<line x1="78.25" y1="684.70" x2="78.25" y2="686.70" stroke="#444" stroke-width="0.5" />
<line x1="79.60" y1="684.70" x2="79.60" y2="685.90" stroke="#444" stroke-width="0.5" />
<line x1="80.95" y1="684.70" x2="80.95" y2="685.90" stroke="#444" stroke-width="0.5" />
<line x1="82.30" y1="684.70" x2="82.30" y2="685.90" stroke="#444" stroke-width="0.5" />
<text x="31.00" y="696.30" font-size="6.4" text-anchor="middle" fill="#333">10<tspan dy="-2.6" font-size="4.2">1</tspan></text>
<text x="44.00" y="696.30" font-size="6.4" text-anchor="middle" fill="#333">10<tspan dy="-2.6" font-size="4.2">2</tspan></text>
<text x="57.50" y="696.30" font-size="6.4" text-anchor="middle" fill="#333">10<tspan dy="-2.6" font-size="4.2">3</tspan></text>
<text x="71.50" y="696.30" font-size="6.4" text-anchor="middle" fill="#333">10<tspan dy="-2.6" font-size="4.2">4</tspan></text>
<text x="122.30" y="625.40" font-size="9.7" text-anchor="middle" fill="#2a2a2a" stroke="#2a2a2a" stroke-width="0.2" textLength="40" lengthAdjust="spacingAndGlyphs">SU-DHL-4</text>
<line x1="96.00" y1="652.70" x2="149.90" y2="652.70" stroke="#ecdab2" stroke-width="0.8" />
<path d="M96.50,652.70 L96.50,652.70 L96.83,652.70 L97.16,652.70 L97.49,652.70 L97.82,652.70 L98.15,652.70 L98.48,652.70 L98.81,652.70 L99.14,652.70 L99.48,652.70 L99.81,652.70 L100.14,652.70 L100.47,652.70 L100.80,652.70 L101.13,652.70 L101.46,652.70 L101.79,652.70 L102.12,652.70 L102.45,652.70 L102.78,652.70 L103.11,652.70 L103.44,652.70 L103.77,652.70 L104.10,652.70 L104.44,652.70 L104.77,652.70 L105.10,652.70 L105.43,652.70 L105.76,652.70 L106.09,652.70 L106.42,652.70 L106.75,652.70 L107.08,652.70 L107.41,652.70 L107.74,652.70 L108.07,652.70 L108.40,652.70 L108.73,652.70 L109.06,652.70 L109.39,652.70 L109.72,652.70 L110.06,652.70 L110.39,652.70 L110.72,652.70 L111.05,652.70 L111.38,652.70 L111.71,652.70 L112.04,652.70 L112.37,652.70 L112.70,652.70 L113.03,652.70 L113.36,652.70 L113.69,652.70 L114.02,652.70 L114.35,652.70 L114.68,652.70 L115.02,652.70 L115.35,652.70 L115.68,652.70 L116.01,652.70 L116.34,652.70 L116.67,652.70 L117.00,652.70 L117.33,652.70 L117.66,652.70 L117.99,652.70 L118.32,652.70 L118.65,652.70 L118.98,652.70 L119.31,652.69 L119.64,652.69 L119.97,652.67 L120.31,652.65 L120.64,652.60 L120.97,652.51 L121.30,652.37 L121.63,652.14 L121.96,651.79 L122.29,651.29 L122.62,650.62 L122.95,649.74 L123.28,648.66 L123.61,647.43 L123.94,646.10 L124.27,644.78 L124.60,643.58 L124.93,642.62 L125.26,641.99 L125.59,641.78 L125.93,642.07 L126.26,642.82 L126.59,643.89 L126.92,645.10 L127.25,646.29 L127.58,647.31 L127.91,648.11 L128.24,648.66 L128.57,649.02 L128.90,649.22 L129.23,649.33 L129.56,649.40 L129.89,649.48 L130.22,649.57 L130.55,649.68 L130.88,649.81 L131.22,649.93 L131.55,650.04 L131.88,650.11 L132.21,650.13 L132.54,650.09 L132.87,650.01 L133.20,649.88 L133.53,649.72 L133.86,649.54 L134.19,649.37 L134.52,649.22 L134.85,649.12 L135.18,649.06 L135.51,649.07 L135.84,649.15 L136.18,649.29 L136.51,649.49 L136.84,649.73 L137.17,650.02 L137.50,650.32 L137.83,650.64 L138.16,650.95 L138.49,651.24 L138.82,651.51 L139.15,651.75 L139.48,651.95 L139.81,652.13 L140.14,652.27 L140.47,652.38 L140.80,652.47 L141.13,652.54 L141.47,652.59 L141.80,652.62 L142.13,652.65 L142.46,652.67 L142.79,652.68 L143.12,652.69 L143.45,652.69 L143.78,652.70 L144.11,652.70 L144.44,652.70 L144.77,652.70 L145.10,652.70 L145.43,652.70 L145.76,652.70 L146.09,652.70 L146.42,652.70 L146.75,652.70 L147.09,652.70 L147.42,652.70 L147.75,652.70 L148.08,652.70 L148.41,652.70 L148.74,652.70 L149.07,652.70 L149.40,652.70 L149.40,652.70 Z" fill="#f6c274" fill-opacity="0.85" stroke="none"/>
<path d="M120.97,652.51 L121.30,652.37 L121.63,652.14 L121.96,651.79 L122.29,651.29 L122.62,650.62 L122.95,649.74 L123.28,648.66 L123.61,647.43 L123.94,646.10 L124.27,644.78 L124.60,643.58 L124.93,642.62 L125.26,641.99 L125.59,641.78 L125.93,642.07 L126.26,642.82 L126.59,643.89 L126.92,645.10 L127.25,646.29 L127.58,647.31 L127.91,648.11 L128.24,648.66 L128.57,649.02 L128.90,649.22 L129.23,649.33 L129.56,649.40 L129.89,649.48 L130.22,649.57 L130.55,649.68 L130.88,649.81 L131.22,649.93 L131.55,650.04 L131.88,650.11 L132.21,650.13 L132.54,650.09 L132.87,650.01 L133.20,649.88 L133.53,649.72 L133.86,649.54 L134.19,649.37 L134.52,649.22 L134.85,649.12 L135.18,649.06 L135.51,649.07 L135.84,649.15 L136.18,649.29 L136.51,649.49 L136.84,649.73 L137.17,650.02 L137.50,650.32 L137.83,650.64 L138.16,650.95 L138.49,651.24 L138.82,651.51 L139.15,651.75 L139.48,651.95 L139.81,652.13 L140.14,652.27 L140.47,652.38 L140.80,652.47 L141.13,652.54 " fill="none" stroke="#dc9638" stroke-width="0.65" stroke-linejoin="round"/>
<line x1="96.00" y1="663.20" x2="149.90" y2="663.20" stroke="#b98a96" stroke-width="0.8" />
<path d="M96.50,663.20 L96.50,663.20 L96.83,663.20 L97.16,663.20 L97.49,663.20 L97.82,663.20 L98.15,663.20 L98.48,663.20 L98.81,663.20 L99.14,663.20 L99.48,663.20 L99.81,663.20 L100.14,663.20 L100.47,663.20 L100.80,663.20 L101.13,663.20 L101.46,663.20 L101.79,663.20 L102.12,663.20 L102.45,663.20 L102.78,663.20 L103.11,663.20 L103.44,663.20 L103.77,663.20 L104.10,663.20 L104.44,663.20 L104.77,663.20 L105.10,663.20 L105.43,663.20 L105.76,663.20 L106.09,663.20 L106.42,663.20 L106.75,663.20 L107.08,663.20 L107.41,663.20 L107.74,663.20 L108.07,663.20 L108.40,663.20 L108.73,663.20 L109.06,663.20 L109.39,663.20 L109.72,663.20 L110.06,663.20 L110.39,663.20 L110.72,663.20 L111.05,663.20 L111.38,663.20 L111.71,663.20 L112.04,663.20 L112.37,663.20 L112.70,663.20 L113.03,663.20 L113.36,663.20 L113.69,663.20 L114.02,663.19 L114.35,663.19 L114.68,663.19 L115.02,663.19 L115.35,663.18 L115.68,663.18 L116.01,663.17 L116.34,663.16 L116.67,663.14 L117.00,663.10 L117.33,663.05 L117.66,662.97 L117.99,662.85 L118.32,662.67 L118.65,662.41 L118.98,662.04 L119.31,661.55 L119.64,660.90 L119.97,660.08 L120.31,659.07 L120.64,657.88 L120.97,656.51 L121.30,655.02 L121.63,653.45 L121.96,651.89 L122.29,650.42 L122.62,649.15 L122.95,648.16 L123.28,647.53 L123.61,647.30 L123.94,647.72 L124.27,648.92 L124.60,650.71 L124.93,652.82 L125.26,654.98 L125.59,656.97 L125.93,658.65 L126.26,659.96 L126.59,660.90 L126.92,661.52 L127.25,661.91 L127.58,662.13 L127.91,662.24 L128.24,662.29 L128.57,662.31 L128.90,662.31 L129.23,662.31 L129.56,662.30 L129.89,662.30 L130.22,662.30 L130.55,662.31 L130.88,662.31 L131.22,662.33 L131.55,662.34 L131.88,662.36 L132.21,662.38 L132.54,662.41 L132.87,662.44 L133.20,662.47 L133.53,662.50 L133.86,662.53 L134.19,662.57 L134.52,662.60 L134.85,662.64 L135.18,662.67 L135.51,662.71 L135.84,662.75 L136.18,662.78 L136.51,662.81 L136.84,662.85 L137.17,662.88 L137.50,662.91 L137.83,662.94 L138.16,662.96 L138.49,662.99 L138.82,663.01 L139.15,663.03 L139.48,663.05 L139.81,663.07 L140.14,663.08 L140.47,663.10 L140.80,663.11 L141.13,663.12 L141.47,663.14 L141.80,663.14 L142.13,663.15 L142.46,663.16 L142.79,663.17 L143.12,663.17 L143.45,663.18 L143.78,663.18 L144.11,663.18 L144.44,663.19 L144.77,663.19 L145.10,663.19 L145.43,663.19 L145.76,663.19 L146.09,663.19 L146.42,663.20 L146.75,663.20 L147.09,663.20 L147.42,663.20 L147.75,663.20 L148.08,663.20 L148.41,663.20 L148.74,663.20 L149.07,663.20 L149.40,663.20 L149.40,663.20 Z" fill="#e2646e" fill-opacity="0.72" stroke="none"/>
<path d="M117.66,662.97 L117.99,662.85 L118.32,662.67 L118.65,662.41 L118.98,662.04 L119.31,661.55 L119.64,660.90 L119.97,660.08 L120.31,659.07 L120.64,657.88 L120.97,656.51 L121.30,655.02 L121.63,653.45 L121.96,651.89 L122.29,650.42 L122.62,649.15 L122.95,648.16 L123.28,647.53 L123.61,647.30 L123.94,647.72 L124.27,648.92 L124.60,650.71 L124.93,652.82 L125.26,654.98 L125.59,656.97 L125.93,658.65 L126.26,659.96 L126.59,660.90 L126.92,661.52 L127.25,661.91 L127.58,662.13 L127.91,662.24 L128.24,662.29 L128.57,662.31 L128.90,662.31 L129.23,662.31 L129.56,662.30 L129.89,662.30 L130.22,662.30 L130.55,662.31 L130.88,662.31 L131.22,662.33 L131.55,662.34 L131.88,662.36 L132.21,662.38 L132.54,662.41 L132.87,662.44 L133.20,662.47 L133.53,662.50 L133.86,662.53 L134.19,662.57 L134.52,662.60 L134.85,662.64 L135.18,662.67 L135.51,662.71 L135.84,662.75 L136.18,662.78 L136.51,662.81 L136.84,662.85 L137.17,662.88 L137.50,662.91 L137.83,662.94 L138.16,662.96 L138.49,662.99 L138.82,663.01 L139.15,663.03 " fill="none" stroke="#a02436" stroke-width="0.65" stroke-linejoin="round"/>
<line x1="96.00" y1="674.40" x2="149.90" y2="674.40" stroke="#8e96aa" stroke-width="0.8" />
<path d="M96.50,674.40 L96.50,674.40 L96.83,674.40 L97.16,674.40 L97.49,674.40 L97.82,674.40 L98.15,674.40 L98.48,674.40 L98.81,674.40 L99.14,674.40 L99.48,674.40 L99.81,674.40 L100.14,674.40 L100.47,674.40 L100.80,674.40 L101.13,674.40 L101.46,674.40 L101.79,674.40 L102.12,674.40 L102.45,674.40 L102.78,674.40 L103.11,674.40 L103.44,674.40 L103.77,674.40 L104.10,674.40 L104.44,674.40 L104.77,674.40 L105.10,674.40 L105.43,674.40 L105.76,674.40 L106.09,674.40 L106.42,674.40 L106.75,674.40 L107.08,674.40 L107.41,674.40 L107.74,674.40 L108.07,674.40 L108.40,674.40 L108.73,674.40 L109.06,674.40 L109.39,674.40 L109.72,674.40 L110.06,674.40 L110.39,674.40 L110.72,674.40 L111.05,674.40 L111.38,674.40 L111.71,674.40 L112.04,674.40 L112.37,674.40 L112.70,674.40 L113.03,674.40 L113.36,674.40 L113.69,674.40 L114.02,674.40 L114.35,674.40 L114.68,674.39 L115.02,674.39 L115.35,674.37 L115.68,674.35 L116.01,674.31 L116.34,674.24 L116.67,674.14 L117.00,673.97 L117.33,673.72 L117.66,673.35 L117.99,672.84 L118.32,672.13 L118.65,671.22 L118.98,670.06 L119.31,668.66 L119.64,667.04 L119.97,665.24 L120.31,663.33 L120.64,661.43 L120.97,659.66 L121.30,658.14 L121.63,657.01 L121.96,656.35 L122.29,656.22 L122.62,656.60 L122.95,657.44 L123.28,658.67 L123.61,660.21 L123.94,661.94 L124.27,663.76 L124.60,665.56 L124.93,667.25 L125.26,668.77 L125.59,670.09 L125.93,671.19 L126.26,672.07 L126.59,672.76 L126.92,673.27 L127.25,673.65 L127.58,673.91 L127.91,674.09 L128.24,674.21 L128.57,674.29 L128.90,674.33 L129.23,674.36 L129.56,674.38 L129.89,674.39 L130.22,674.39 L130.55,674.40 L130.88,674.40 L131.22,674.40 L131.55,674.40 L131.88,674.40 L132.21,674.40 L132.54,674.40 L132.87,674.40 L133.20,674.40 L133.53,674.40 L133.86,674.40 L134.19,674.40 L134.52,674.40 L134.85,674.40 L135.18,674.40 L135.51,674.40 L135.84,674.40 L136.18,674.40 L136.51,674.40 L136.84,674.40 L137.17,674.40 L137.50,674.40 L137.83,674.40 L138.16,674.40 L138.49,674.40 L138.82,674.40 L139.15,674.40 L139.48,674.40 L139.81,674.40 L140.14,674.40 L140.47,674.40 L140.80,674.40 L141.13,674.40 L141.47,674.40 L141.80,674.40 L142.13,674.40 L142.46,674.40 L142.79,674.40 L143.12,674.40 L143.45,674.40 L143.78,674.40 L144.11,674.40 L144.44,674.40 L144.77,674.40 L145.10,674.40 L145.43,674.40 L145.76,674.40 L146.09,674.40 L146.42,674.40 L146.75,674.40 L147.09,674.40 L147.42,674.40 L147.75,674.40 L148.08,674.40 L148.41,674.40 L148.74,674.40 L149.07,674.40 L149.40,674.40 L149.40,674.40 Z" fill="#6680b8" fill-opacity="0.68" stroke="none"/>
<path d="M116.34,674.24 L116.67,674.14 L117.00,673.97 L117.33,673.72 L117.66,673.35 L117.99,672.84 L118.32,672.13 L118.65,671.22 L118.98,670.06 L119.31,668.66 L119.64,667.04 L119.97,665.24 L120.31,663.33 L120.64,661.43 L120.97,659.66 L121.30,658.14 L121.63,657.01 L121.96,656.35 L122.29,656.22 L122.62,656.60 L122.95,657.44 L123.28,658.67 L123.61,660.21 L123.94,661.94 L124.27,663.76 L124.60,665.56 L124.93,667.25 L125.26,668.77 L125.59,670.09 L125.93,671.19 L126.26,672.07 L126.59,672.76 L126.92,673.27 L127.25,673.65 L127.58,673.91 L127.91,674.09 L128.24,674.21 " fill="none" stroke="#304a86" stroke-width="0.65" stroke-linejoin="round"/>
<path d="M96.50,685.10 L96.50,685.10 L96.83,685.10 L97.16,685.10 L97.49,685.10 L97.82,685.10 L98.15,685.10 L98.48,685.10 L98.81,685.10 L99.14,685.10 L99.48,685.10 L99.81,685.10 L100.14,685.10 L100.47,685.10 L100.80,685.10 L101.13,685.10 L101.46,685.10 L101.79,685.10 L102.12,685.10 L102.45,685.10 L102.78,685.10 L103.11,685.10 L103.44,685.10 L103.77,685.10 L104.10,685.10 L104.44,685.10 L104.77,685.10 L105.10,685.10 L105.43,685.10 L105.76,685.10 L106.09,685.10 L106.42,685.10 L106.75,685.10 L107.08,685.10 L107.41,685.10 L107.74,685.10 L108.07,685.10 L108.40,685.10 L108.73,685.10 L109.06,685.10 L109.39,685.10 L109.72,685.10 L110.06,685.10 L110.39,685.10 L110.72,685.10 L111.05,685.10 L111.38,685.10 L111.71,685.10 L112.04,685.10 L112.37,685.10 L112.70,685.10 L113.03,685.09 L113.36,685.09 L113.69,685.07 L114.02,685.05 L114.35,685.01 L114.68,684.94 L115.02,684.83 L115.35,684.66 L115.68,684.40 L116.01,684.02 L116.34,683.49 L116.67,682.75 L117.00,681.78 L117.33,680.55 L117.66,679.06 L117.99,677.31 L118.32,675.36 L118.65,673.28 L118.98,671.18 L119.31,669.20 L119.64,667.48 L119.97,666.16 L120.31,665.34 L120.64,665.10 L120.97,665.56 L121.30,666.71 L121.63,668.44 L121.96,670.56 L122.29,672.89 L122.62,675.22 L122.95,677.41 L123.28,679.33 L123.61,680.93 L123.94,682.20 L124.27,683.16 L124.60,683.85 L124.93,684.32 L125.26,684.64 L125.59,684.83 L125.93,684.95 L126.26,685.02 L126.59,685.06 L126.92,685.08 L127.25,685.09 L127.58,685.10 L127.91,685.10 L128.24,685.10 L128.57,685.10 L128.90,685.10 L129.23,685.10 L129.56,685.10 L129.89,685.10 L130.22,685.10 L130.55,685.10 L130.88,685.10 L131.22,685.10 L131.55,685.10 L131.88,685.10 L132.21,685.10 L132.54,685.10 L132.87,685.10 L133.20,685.10 L133.53,685.10 L133.86,685.10 L134.19,685.10 L134.52,685.10 L134.85,685.10 L135.18,685.10 L135.51,685.10 L135.84,685.10 L136.18,685.10 L136.51,685.10 L136.84,685.10 L137.17,685.10 L137.50,685.10 L137.83,685.10 L138.16,685.10 L138.49,685.10 L138.82,685.10 L139.15,685.10 L139.48,685.10 L139.81,685.10 L140.14,685.10 L140.47,685.10 L140.80,685.10 L141.13,685.10 L141.47,685.10 L141.80,685.10 L142.13,685.10 L142.46,685.10 L142.79,685.10 L143.12,685.10 L143.45,685.10 L143.78,685.10 L144.11,685.10 L144.44,685.10 L144.77,685.10 L145.10,685.10 L145.43,685.10 L145.76,685.10 L146.09,685.10 L146.42,685.10 L146.75,685.10 L147.09,685.10 L147.42,685.10 L147.75,685.10 L148.08,685.10 L148.41,685.10 L148.74,685.10 L149.07,685.10 L149.40,685.10 L149.40,685.10 Z" fill="#8e92a4" fill-opacity="0.62" stroke="none"/>
<path d="M114.68,684.94 L115.02,684.83 L115.35,684.66 L115.68,684.40 L116.01,684.02 L116.34,683.49 L116.67,682.75 L117.00,681.78 L117.33,680.55 L117.66,679.06 L117.99,677.31 L118.32,675.36 L118.65,673.28 L118.98,671.18 L119.31,669.20 L119.64,667.48 L119.97,666.16 L120.31,665.34 L120.64,665.10 L120.97,665.56 L121.30,666.71 L121.63,668.44 L121.96,670.56 L122.29,672.89 L122.62,675.22 L122.95,677.41 L123.28,679.33 L123.61,680.93 L123.94,682.20 L124.27,683.16 L124.60,683.85 L124.93,684.32 L125.26,684.64 L125.59,684.83 " fill="none" stroke="#464854" stroke-width="0.65" stroke-linejoin="round"/>
<rect x="96.50" y="630.50" width="53.00" height="55.00" fill="none" stroke="#6a6a6a" stroke-width="0.9"/>
<line x1="96.00" y1="685.10" x2="149.90" y2="685.10" stroke="#333" stroke-width="1.0" />
<line x1="97.00" y1="685.10" x2="97.00" y2="687.10" stroke="#444" stroke-width="0.5" />
<line x1="98.35" y1="685.10" x2="98.35" y2="686.30" stroke="#444" stroke-width="0.5" />
<line x1="99.70" y1="685.10" x2="99.70" y2="686.30" stroke="#444" stroke-width="0.5" />
<line x1="101.05" y1="685.10" x2="101.05" y2="686.30" stroke="#444" stroke-width="0.5" />
<line x1="102.40" y1="685.10" x2="102.40" y2="686.30" stroke="#444" stroke-width="0.5" />
<line x1="103.75" y1="685.10" x2="103.75" y2="687.10" stroke="#444" stroke-width="0.5" />
<line x1="105.10" y1="685.10" x2="105.10" y2="686.30" stroke="#444" stroke-width="0.5" />
<line x1="106.45" y1="685.10" x2="106.45" y2="686.30" stroke="#444" stroke-width="0.5" />
<line x1="107.80" y1="685.10" x2="107.80" y2="686.30" stroke="#444" stroke-width="0.5" />
<line x1="109.15" y1="685.10" x2="109.15" y2="686.30" stroke="#444" stroke-width="0.5" />
<line x1="110.50" y1="685.10" x2="110.50" y2="687.10" stroke="#444" stroke-width="0.5" />
<line x1="111.85" y1="685.10" x2="111.85" y2="686.30" stroke="#444" stroke-width="0.5" />
<line x1="113.20" y1="685.10" x2="113.20" y2="686.30" stroke="#444" stroke-width="0.5" />
<line x1="114.55" y1="685.10" x2="114.55" y2="686.30" stroke="#444" stroke-width="0.5" />
<line x1="115.90" y1="685.10" x2="115.90" y2="686.30" stroke="#444" stroke-width="0.5" />
<line x1="117.25" y1="685.10" x2="117.25" y2="687.10" stroke="#444" stroke-width="0.5" />
<line x1="118.60" y1="685.10" x2="118.60" y2="686.30" stroke="#444" stroke-width="0.5" />
<line x1="119.95" y1="685.10" x2="119.95" y2="686.30" stroke="#444" stroke-width="0.5" />
<line x1="121.30" y1="685.10" x2="121.30" y2="686.30" stroke="#444" stroke-width="0.5" />
<line x1="122.65" y1="685.10" x2="122.65" y2="686.30" stroke="#444" stroke-width="0.5" />
<line x1="124.00" y1="685.10" x2="124.00" y2="687.10" stroke="#444" stroke-width="0.5" />
<line x1="125.35" y1="685.10" x2="125.35" y2="686.30" stroke="#444" stroke-width="0.5" />
<line x1="126.70" y1="685.10" x2="126.70" y2="686.30" stroke="#444" stroke-width="0.5" />
<line x1="128.05" y1="685.10" x2="128.05" y2="686.30" stroke="#444" stroke-width="0.5" />
<line x1="129.40" y1="685.10" x2="129.40" y2="686.30" stroke="#444" stroke-width="0.5" />
<line x1="130.75" y1="685.10" x2="130.75" y2="687.10" stroke="#444" stroke-width="0.5" />
<line x1="132.10" y1="685.10" x2="132.10" y2="686.30" stroke="#444" stroke-width="0.5" />
<line x1="133.45" y1="685.10" x2="133.45" y2="686.30" stroke="#444" stroke-width="0.5" />
<line x1="134.80" y1="685.10" x2="134.80" y2="686.30" stroke="#444" stroke-width="0.5" />
<line x1="136.15" y1="685.10" x2="136.15" y2="686.30" stroke="#444" stroke-width="0.5" />
<line x1="137.50" y1="685.10" x2="137.50" y2="687.10" stroke="#444" stroke-width="0.5" />
<line x1="138.85" y1="685.10" x2="138.85" y2="686.30" stroke="#444" stroke-width="0.5" />
<line x1="140.20" y1="685.10" x2="140.20" y2="686.30" stroke="#444" stroke-width="0.5" />
<line x1="141.55" y1="685.10" x2="141.55" y2="686.30" stroke="#444" stroke-width="0.5" />
<line x1="142.90" y1="685.10" x2="142.90" y2="686.30" stroke="#444" stroke-width="0.5" />
<line x1="144.25" y1="685.10" x2="144.25" y2="687.10" stroke="#444" stroke-width="0.5" />
<line x1="145.60" y1="685.10" x2="145.60" y2="686.30" stroke="#444" stroke-width="0.5" />
<line x1="146.95" y1="685.10" x2="146.95" y2="686.30" stroke="#444" stroke-width="0.5" />
<line x1="148.30" y1="685.10" x2="148.30" y2="686.30" stroke="#444" stroke-width="0.5" />
<text x="96.40" y="696.70" font-size="6.4" text-anchor="middle" fill="#333">10<tspan dy="-2.6" font-size="4.2">1</tspan></text>
<text x="109.30" y="696.70" font-size="6.4" text-anchor="middle" fill="#333">10<tspan dy="-2.6" font-size="4.2">2</tspan></text>
<text x="122.00" y="696.70" font-size="6.4" text-anchor="middle" fill="#333">10<tspan dy="-2.6" font-size="4.2">3</tspan></text>
<text x="135.30" y="696.70" font-size="6.4" text-anchor="middle" fill="#333">10<tspan dy="-2.6" font-size="4.2">4</tspan></text>
<text x="148.30" y="696.70" font-size="6.4" text-anchor="middle" fill="#333">10<tspan dy="-2.6" font-size="4.2">5</tspan></text>
<text x="188.70" y="625.30" font-size="9.7" text-anchor="middle" fill="#2a2a2a" stroke="#2a2a2a" stroke-width="0.2" textLength="40" lengthAdjust="spacingAndGlyphs">SU-DHL-6</text>
<line x1="161.20" y1="652.30" x2="215.50" y2="652.30" stroke="#ecdab2" stroke-width="0.8" />
<path d="M161.70,652.30 L161.70,652.30 L162.03,652.30 L162.37,652.30 L162.70,652.30 L163.03,652.30 L163.37,652.30 L163.70,652.30 L164.03,652.30 L164.36,652.30 L164.70,652.30 L165.03,652.30 L165.36,652.30 L165.70,652.30 L166.03,652.30 L166.36,652.30 L166.70,652.30 L167.03,652.30 L167.36,652.30 L167.70,652.30 L168.03,652.30 L168.36,652.30 L168.70,652.30 L169.03,652.30 L169.36,652.30 L169.69,652.30 L170.03,652.30 L170.36,652.30 L170.69,652.30 L171.03,652.30 L171.36,652.30 L171.69,652.30 L172.03,652.30 L172.36,652.30 L172.69,652.30 L173.03,652.30 L173.36,652.30 L173.69,652.30 L174.03,652.30 L174.36,652.30 L174.69,652.30 L175.02,652.30 L175.36,652.30 L175.69,652.30 L176.02,652.30 L176.36,652.30 L176.69,652.29 L177.02,652.28 L177.36,652.26 L177.69,652.23 L178.02,652.17 L178.36,652.07 L178.69,651.91 L179.02,651.67 L179.36,651.32 L179.69,650.83 L180.02,650.19 L180.35,649.38 L180.69,648.41 L181.02,647.32 L181.35,646.16 L181.69,645.02 L182.02,643.99 L182.35,643.16 L182.69,642.62 L183.02,642.43 L183.35,642.68 L183.69,643.39 L184.02,644.43 L184.35,645.62 L184.69,646.77 L185.02,647.75 L185.35,648.48 L185.69,648.94 L186.02,649.16 L186.35,649.21 L186.68,649.17 L187.02,649.08 L187.35,649.00 L187.68,648.92 L188.02,648.84 L188.35,648.73 L188.68,648.58 L189.02,648.38 L189.35,648.12 L189.68,647.84 L190.02,647.55 L190.35,647.30 L190.68,647.12 L191.01,647.04 L191.35,647.06 L191.68,647.19 L192.01,647.40 L192.35,647.66 L192.68,647.96 L193.01,648.25 L193.35,648.53 L193.68,648.77 L194.01,648.99 L194.35,649.18 L194.68,649.37 L195.01,649.56 L195.35,649.76 L195.68,649.95 L196.01,650.15 L196.34,650.35 L196.68,650.56 L197.01,650.77 L197.34,650.97 L197.68,651.17 L198.01,651.36 L198.34,651.53 L198.68,651.69 L199.01,651.82 L199.34,651.93 L199.68,652.02 L200.01,652.09 L200.34,652.15 L200.68,652.20 L201.01,652.23 L201.34,652.25 L201.68,652.27 L202.01,652.28 L202.34,652.29 L202.67,652.29 L203.01,652.29 L203.34,652.30 L203.67,652.30 L204.01,652.30 L204.34,652.30 L204.67,652.30 L205.01,652.30 L205.34,652.30 L205.67,652.30 L206.01,652.30 L206.34,652.30 L206.67,652.30 L207.00,652.30 L207.34,652.30 L207.67,652.30 L208.00,652.30 L208.34,652.30 L208.67,652.30 L209.00,652.30 L209.34,652.30 L209.67,652.30 L210.00,652.30 L210.34,652.30 L210.67,652.30 L211.00,652.30 L211.34,652.30 L211.67,652.30 L212.00,652.30 L212.34,652.30 L212.67,652.30 L213.00,652.30 L213.33,652.30 L213.67,652.30 L214.00,652.30 L214.33,652.30 L214.67,652.30 L215.00,652.30 L215.00,652.30 Z" fill="#f6c274" fill-opacity="0.85" stroke="none"/>
<path d="M178.36,652.07 L178.69,651.91 L179.02,651.67 L179.36,651.32 L179.69,650.83 L180.02,650.19 L180.35,649.38 L180.69,648.41 L181.02,647.32 L181.35,646.16 L181.69,645.02 L182.02,643.99 L182.35,643.16 L182.69,642.62 L183.02,642.43 L183.35,642.68 L183.69,643.39 L184.02,644.43 L184.35,645.62 L184.69,646.77 L185.02,647.75 L185.35,648.48 L185.69,648.94 L186.02,649.16 L186.35,649.21 L186.68,649.17 L187.02,649.08 L187.35,649.00 L187.68,648.92 L188.02,648.84 L188.35,648.73 L188.68,648.58 L189.02,648.38 L189.35,648.12 L189.68,647.84 L190.02,647.55 L190.35,647.30 L190.68,647.12 L191.01,647.04 L191.35,647.06 L191.68,647.19 L192.01,647.40 L192.35,647.66 L192.68,647.96 L193.01,648.25 L193.35,648.53 L193.68,648.77 L194.01,648.99 L194.35,649.18 L194.68,649.37 L195.01,649.56 L195.35,649.76 L195.68,649.95 L196.01,650.15 L196.34,650.35 L196.68,650.56 L197.01,650.77 L197.34,650.97 L197.68,651.17 L198.01,651.36 L198.34,651.53 L198.68,651.69 L199.01,651.82 L199.34,651.93 L199.68,652.02 L200.01,652.09 " fill="none" stroke="#dc9638" stroke-width="0.65" stroke-linejoin="round"/>
<line x1="161.20" y1="663.50" x2="215.50" y2="663.50" stroke="#b98a96" stroke-width="0.8" />
<path d="M161.70,663.50 L161.70,663.50 L162.03,663.50 L162.37,663.50 L162.70,663.50 L163.03,663.50 L163.37,663.50 L163.70,663.50 L164.03,663.50 L164.36,663.50 L164.70,663.50 L165.03,663.50 L165.36,663.50 L165.70,663.50 L166.03,663.50 L166.36,663.50 L166.70,663.50 L167.03,663.50 L167.36,663.50 L167.70,663.50 L168.03,663.50 L168.36,663.50 L168.70,663.50 L169.03,663.50 L169.36,663.50 L169.69,663.50 L170.03,663.50 L170.36,663.50 L170.69,663.50 L171.03,663.50 L171.36,663.50 L171.69,663.49 L172.03,663.49 L172.36,663.49 L172.69,663.48 L173.03,663.48 L173.36,663.46 L173.69,663.44 L174.03,663.41 L174.36,663.36 L174.69,663.27 L175.02,663.14 L175.36,662.94 L175.69,662.66 L176.02,662.25 L176.36,661.70 L176.69,660.97 L177.02,660.03 L177.36,658.87 L177.69,657.48 L178.02,655.89 L178.36,654.13 L178.69,652.28 L179.02,650.43 L179.36,648.68 L179.69,647.14 L180.02,645.94 L180.35,645.16 L180.69,644.86 L181.02,645.11 L181.35,645.96 L181.69,647.31 L182.02,649.03 L182.35,650.97 L182.69,652.98 L183.02,654.92 L183.35,656.67 L183.69,658.19 L184.02,659.43 L184.35,660.40 L184.69,661.12 L185.02,661.63 L185.35,661.98 L185.69,662.21 L186.02,662.34 L186.35,662.42 L186.68,662.46 L187.02,662.48 L187.35,662.49 L187.68,662.49 L188.02,662.50 L188.35,662.50 L188.68,662.51 L189.02,662.52 L189.35,662.54 L189.68,662.55 L190.02,662.58 L190.35,662.60 L190.68,662.63 L191.01,662.67 L191.35,662.70 L191.68,662.74 L192.01,662.78 L192.35,662.81 L192.68,662.85 L193.01,662.90 L193.35,662.94 L193.68,662.98 L194.01,663.01 L194.35,663.05 L194.68,663.09 L195.01,663.13 L195.35,663.16 L195.68,663.19 L196.01,663.22 L196.34,663.25 L196.68,663.28 L197.01,663.30 L197.34,663.33 L197.68,663.35 L198.01,663.37 L198.34,663.38 L198.68,663.40 L199.01,663.41 L199.34,663.42 L199.68,663.43 L200.01,663.44 L200.34,663.45 L200.68,663.46 L201.01,663.47 L201.34,663.47 L201.68,663.48 L202.01,663.48 L202.34,663.48 L202.67,663.49 L203.01,663.49 L203.34,663.49 L203.67,663.49 L204.01,663.49 L204.34,663.50 L204.67,663.50 L205.01,663.50 L205.34,663.50 L205.67,663.50 L206.01,663.50 L206.34,663.50 L206.67,663.50 L207.00,663.50 L207.34,663.50 L207.67,663.50 L208.00,663.50 L208.34,663.50 L208.67,663.50 L209.00,663.50 L209.34,663.50 L209.67,663.50 L210.00,663.50 L210.34,663.50 L210.67,663.50 L211.00,663.50 L211.34,663.50 L211.67,663.50 L212.00,663.50 L212.34,663.50 L212.67,663.50 L213.00,663.50 L213.33,663.50 L213.67,663.50 L214.00,663.50 L214.33,663.50 L214.67,663.50 L215.00,663.50 L215.00,663.50 Z" fill="#e2646e" fill-opacity="0.72" stroke="none"/>
<path d="M174.69,663.27 L175.02,663.14 L175.36,662.94 L175.69,662.66 L176.02,662.25 L176.36,661.70 L176.69,660.97 L177.02,660.03 L177.36,658.87 L177.69,657.48 L178.02,655.89 L178.36,654.13 L178.69,652.28 L179.02,650.43 L179.36,648.68 L179.69,647.14 L180.02,645.94 L180.35,645.16 L180.69,644.86 L181.02,645.11 L181.35,645.96 L181.69,647.31 L182.02,649.03 L182.35,650.97 L182.69,652.98 L183.02,654.92 L183.35,656.67 L183.69,658.19 L184.02,659.43 L184.35,660.40 L184.69,661.12 L185.02,661.63 L185.35,661.98 L185.69,662.21 L186.02,662.34 L186.35,662.42 L186.68,662.46 L187.02,662.48 L187.35,662.49 L187.68,662.49 L188.02,662.50 L188.35,662.50 L188.68,662.51 L189.02,662.52 L189.35,662.54 L189.68,662.55 L190.02,662.58 L190.35,662.60 L190.68,662.63 L191.01,662.67 L191.35,662.70 L191.68,662.74 L192.01,662.78 L192.35,662.81 L192.68,662.85 L193.01,662.90 L193.35,662.94 L193.68,662.98 L194.01,663.01 L194.35,663.05 L194.68,663.09 L195.01,663.13 L195.35,663.16 L195.68,663.19 L196.01,663.22 L196.34,663.25 L196.68,663.28 L197.01,663.30 L197.34,663.33 L197.68,663.35 " fill="none" stroke="#a02436" stroke-width="0.65" stroke-linejoin="round"/>
<line x1="161.20" y1="674.20" x2="215.50" y2="674.20" stroke="#8e96aa" stroke-width="0.8" />
<path d="M161.70,674.20 L161.70,674.20 L162.03,674.20 L162.37,674.20 L162.70,674.20 L163.03,674.20 L163.37,674.20 L163.70,674.20 L164.03,674.20 L164.36,674.20 L164.70,674.20 L165.03,674.20 L165.36,674.20 L165.70,674.20 L166.03,674.20 L166.36,674.20 L166.70,674.20 L167.03,674.20 L167.36,674.20 L167.70,674.20 L168.03,674.20 L168.36,674.20 L168.70,674.20 L169.03,674.20 L169.36,674.20 L169.69,674.20 L170.03,674.20 L170.36,674.20 L170.69,674.20 L171.03,674.20 L171.36,674.20 L171.69,674.20 L172.03,674.19 L172.36,674.18 L172.69,674.17 L173.03,674.15 L173.36,674.11 L173.69,674.06 L174.03,673.97 L174.36,673.83 L174.69,673.63 L175.02,673.34 L175.36,672.93 L175.69,672.38 L176.02,671.66 L176.36,670.73 L176.69,669.59 L177.02,668.22 L177.36,666.63 L177.69,664.87 L178.02,662.98 L178.36,661.04 L178.69,659.15 L179.02,657.41 L179.36,655.94 L179.69,654.84 L180.02,654.18 L180.35,654.01 L180.69,654.26 L181.02,654.89 L181.35,655.86 L181.69,657.11 L182.02,658.58 L182.35,660.19 L182.69,661.88 L183.02,663.57 L183.35,665.21 L183.69,666.73 L184.02,668.12 L184.35,669.34 L184.69,670.40 L185.02,671.28 L185.35,672.00 L185.69,672.57 L186.02,673.02 L186.35,673.36 L186.68,673.61 L187.02,673.80 L187.35,673.93 L187.68,674.02 L188.02,674.09 L188.35,674.13 L188.68,674.15 L189.02,674.17 L189.35,674.18 L189.68,674.19 L190.02,674.19 L190.35,674.20 L190.68,674.20 L191.01,674.20 L191.35,674.20 L191.68,674.20 L192.01,674.20 L192.35,674.20 L192.68,674.20 L193.01,674.20 L193.35,674.20 L193.68,674.20 L194.01,674.20 L194.35,674.20 L194.68,674.20 L195.01,674.20 L195.35,674.20 L195.68,674.20 L196.01,674.20 L196.34,674.20 L196.68,674.20 L197.01,674.20 L197.34,674.20 L197.68,674.20 L198.01,674.20 L198.34,674.20 L198.68,674.20 L199.01,674.20 L199.34,674.20 L199.68,674.20 L200.01,674.20 L200.34,674.20 L200.68,674.20 L201.01,674.20 L201.34,674.20 L201.68,674.20 L202.01,674.20 L202.34,674.20 L202.67,674.20 L203.01,674.20 L203.34,674.20 L203.67,674.20 L204.01,674.20 L204.34,674.20 L204.67,674.20 L205.01,674.20 L205.34,674.20 L205.67,674.20 L206.01,674.20 L206.34,674.20 L206.67,674.20 L207.00,674.20 L207.34,674.20 L207.67,674.20 L208.00,674.20 L208.34,674.20 L208.67,674.20 L209.00,674.20 L209.34,674.20 L209.67,674.20 L210.00,674.20 L210.34,674.20 L210.67,674.20 L211.00,674.20 L211.34,674.20 L211.67,674.20 L212.00,674.20 L212.34,674.20 L212.67,674.20 L213.00,674.20 L213.33,674.20 L213.67,674.20 L214.00,674.20 L214.33,674.20 L214.67,674.20 L215.00,674.20 L215.00,674.20 Z" fill="#6680b8" fill-opacity="0.68" stroke="none"/>
<path d="M174.03,673.97 L174.36,673.83 L174.69,673.63 L175.02,673.34 L175.36,672.93 L175.69,672.38 L176.02,671.66 L176.36,670.73 L176.69,669.59 L177.02,668.22 L177.36,666.63 L177.69,664.87 L178.02,662.98 L178.36,661.04 L178.69,659.15 L179.02,657.41 L179.36,655.94 L179.69,654.84 L180.02,654.18 L180.35,654.01 L180.69,654.26 L181.02,654.89 L181.35,655.86 L181.69,657.11 L182.02,658.58 L182.35,660.19 L182.69,661.88 L183.02,663.57 L183.35,665.21 L183.69,666.73 L184.02,668.12 L184.35,669.34 L184.69,670.40 L185.02,671.28 L185.35,672.00 L185.69,672.57 L186.02,673.02 L186.35,673.36 L186.68,673.61 L187.02,673.80 L187.35,673.93 L187.68,674.02 " fill="none" stroke="#304a86" stroke-width="0.65" stroke-linejoin="round"/>
<path d="M161.70,684.60 L161.70,684.60 L162.03,684.60 L162.37,684.60 L162.70,684.60 L163.03,684.60 L163.37,684.60 L163.70,684.60 L164.03,684.60 L164.36,684.60 L164.70,684.60 L165.03,684.60 L165.36,684.60 L165.70,684.60 L166.03,684.60 L166.36,684.60 L166.70,684.60 L167.03,684.60 L167.36,684.60 L167.70,684.60 L168.03,684.60 L168.36,684.60 L168.70,684.60 L169.03,684.60 L169.36,684.60 L169.69,684.60 L170.03,684.60 L170.36,684.60 L170.69,684.60 L171.03,684.59 L171.36,684.59 L171.69,684.58 L172.03,684.56 L172.36,684.54 L172.69,684.50 L173.03,684.43 L173.36,684.32 L173.69,684.17 L174.03,683.94 L174.36,683.61 L174.69,683.16 L175.02,682.56 L175.36,681.77 L175.69,680.78 L176.02,679.57 L176.36,678.14 L176.69,676.51 L177.02,674.72 L177.36,672.84 L177.69,670.94 L178.02,669.14 L178.36,667.53 L178.69,666.22 L179.02,665.31 L179.36,664.85 L179.69,664.90 L180.02,665.53 L180.35,666.71 L180.69,668.32 L181.02,670.23 L181.35,672.30 L181.69,674.39 L182.02,676.39 L182.35,678.19 L182.69,679.75 L183.02,681.04 L183.35,682.07 L183.69,682.85 L184.02,683.43 L184.35,683.84 L184.69,684.12 L185.02,684.31 L185.35,684.43 L185.69,684.50 L186.02,684.54 L186.35,684.57 L186.68,684.58 L187.02,684.59 L187.35,684.60 L187.68,684.60 L188.02,684.60 L188.35,684.60 L188.68,684.60 L189.02,684.60 L189.35,684.60 L189.68,684.60 L190.02,684.60 L190.35,684.60 L190.68,684.60 L191.01,684.60 L191.35,684.60 L191.68,684.60 L192.01,684.60 L192.35,684.60 L192.68,684.60 L193.01,684.60 L193.35,684.60 L193.68,684.60 L194.01,684.60 L194.35,684.60 L194.68,684.60 L195.01,684.60 L195.35,684.60 L195.68,684.60 L196.01,684.60 L196.34,684.60 L196.68,684.60 L197.01,684.60 L197.34,684.60 L197.68,684.60 L198.01,684.60 L198.34,684.60 L198.68,684.60 L199.01,684.60 L199.34,684.60 L199.68,684.60 L200.01,684.60 L200.34,684.60 L200.68,684.60 L201.01,684.60 L201.34,684.60 L201.68,684.60 L202.01,684.60 L202.34,684.60 L202.67,684.60 L203.01,684.60 L203.34,684.60 L203.67,684.60 L204.01,684.60 L204.34,684.60 L204.67,684.60 L205.01,684.60 L205.34,684.60 L205.67,684.60 L206.01,684.60 L206.34,684.60 L206.67,684.60 L207.00,684.60 L207.34,684.60 L207.67,684.60 L208.00,684.60 L208.34,684.60 L208.67,684.60 L209.00,684.60 L209.34,684.60 L209.67,684.60 L210.00,684.60 L210.34,684.60 L210.67,684.60 L211.00,684.60 L211.34,684.60 L211.67,684.60 L212.00,684.60 L212.34,684.60 L212.67,684.60 L213.00,684.60 L213.33,684.60 L213.67,684.60 L214.00,684.60 L214.33,684.60 L214.67,684.60 L215.00,684.60 L215.00,684.60 Z" fill="#8e92a4" fill-opacity="0.62" stroke="none"/>
<path d="M173.03,684.43 L173.36,684.32 L173.69,684.17 L174.03,683.94 L174.36,683.61 L174.69,683.16 L175.02,682.56 L175.36,681.77 L175.69,680.78 L176.02,679.57 L176.36,678.14 L176.69,676.51 L177.02,674.72 L177.36,672.84 L177.69,670.94 L178.02,669.14 L178.36,667.53 L178.69,666.22 L179.02,665.31 L179.36,664.85 L179.69,664.90 L180.02,665.53 L180.35,666.71 L180.69,668.32 L181.02,670.23 L181.35,672.30 L181.69,674.39 L182.02,676.39 L182.35,678.19 L182.69,679.75 L183.02,681.04 L183.35,682.07 L183.69,682.85 L184.02,683.43 L184.35,683.84 L184.69,684.12 L185.02,684.31 L185.35,684.43 " fill="none" stroke="#464854" stroke-width="0.65" stroke-linejoin="round"/>
<rect x="161.50" y="630.50" width="54.00" height="54.00" fill="none" stroke="#6a6a6a" stroke-width="0.9"/>
<line x1="161.20" y1="684.60" x2="215.50" y2="684.60" stroke="#333" stroke-width="1.0" />
<line x1="162.20" y1="684.60" x2="162.20" y2="686.60" stroke="#444" stroke-width="0.5" />
<line x1="163.55" y1="684.60" x2="163.55" y2="685.80" stroke="#444" stroke-width="0.5" />
<line x1="164.90" y1="684.60" x2="164.90" y2="685.80" stroke="#444" stroke-width="0.5" />
<line x1="166.25" y1="684.60" x2="166.25" y2="685.80" stroke="#444" stroke-width="0.5" />
<line x1="167.60" y1="684.60" x2="167.60" y2="685.80" stroke="#444" stroke-width="0.5" />
<line x1="168.95" y1="684.60" x2="168.95" y2="686.60" stroke="#444" stroke-width="0.5" />
<line x1="170.30" y1="684.60" x2="170.30" y2="685.80" stroke="#444" stroke-width="0.5" />
<line x1="171.65" y1="684.60" x2="171.65" y2="685.80" stroke="#444" stroke-width="0.5" />
<line x1="173.00" y1="684.60" x2="173.00" y2="685.80" stroke="#444" stroke-width="0.5" />
<line x1="174.35" y1="684.60" x2="174.35" y2="685.80" stroke="#444" stroke-width="0.5" />
<line x1="175.70" y1="684.60" x2="175.70" y2="686.60" stroke="#444" stroke-width="0.5" />
<line x1="177.05" y1="684.60" x2="177.05" y2="685.80" stroke="#444" stroke-width="0.5" />
<line x1="178.40" y1="684.60" x2="178.40" y2="685.80" stroke="#444" stroke-width="0.5" />
<line x1="179.75" y1="684.60" x2="179.75" y2="685.80" stroke="#444" stroke-width="0.5" />
<line x1="181.10" y1="684.60" x2="181.10" y2="685.80" stroke="#444" stroke-width="0.5" />
<line x1="182.45" y1="684.60" x2="182.45" y2="686.60" stroke="#444" stroke-width="0.5" />
<line x1="183.80" y1="684.60" x2="183.80" y2="685.80" stroke="#444" stroke-width="0.5" />
<line x1="185.15" y1="684.60" x2="185.15" y2="685.80" stroke="#444" stroke-width="0.5" />
<line x1="186.50" y1="684.60" x2="186.50" y2="685.80" stroke="#444" stroke-width="0.5" />
<line x1="187.85" y1="684.60" x2="187.85" y2="685.80" stroke="#444" stroke-width="0.5" />
<line x1="189.20" y1="684.60" x2="189.20" y2="686.60" stroke="#444" stroke-width="0.5" />
<line x1="190.55" y1="684.60" x2="190.55" y2="685.80" stroke="#444" stroke-width="0.5" />
<line x1="191.90" y1="684.60" x2="191.90" y2="685.80" stroke="#444" stroke-width="0.5" />
<line x1="193.25" y1="684.60" x2="193.25" y2="685.80" stroke="#444" stroke-width="0.5" />
<line x1="194.60" y1="684.60" x2="194.60" y2="685.80" stroke="#444" stroke-width="0.5" />
<line x1="195.95" y1="684.60" x2="195.95" y2="686.60" stroke="#444" stroke-width="0.5" />
<line x1="197.30" y1="684.60" x2="197.30" y2="685.80" stroke="#444" stroke-width="0.5" />
<line x1="198.65" y1="684.60" x2="198.65" y2="685.80" stroke="#444" stroke-width="0.5" />
<line x1="200.00" y1="684.60" x2="200.00" y2="685.80" stroke="#444" stroke-width="0.5" />
<line x1="201.35" y1="684.60" x2="201.35" y2="685.80" stroke="#444" stroke-width="0.5" />
<line x1="202.70" y1="684.60" x2="202.70" y2="686.60" stroke="#444" stroke-width="0.5" />
<line x1="204.05" y1="684.60" x2="204.05" y2="685.80" stroke="#444" stroke-width="0.5" />
<line x1="205.40" y1="684.60" x2="205.40" y2="685.80" stroke="#444" stroke-width="0.5" />
<line x1="206.75" y1="684.60" x2="206.75" y2="685.80" stroke="#444" stroke-width="0.5" />
<line x1="208.10" y1="684.60" x2="208.10" y2="685.80" stroke="#444" stroke-width="0.5" />
<line x1="209.45" y1="684.60" x2="209.45" y2="686.60" stroke="#444" stroke-width="0.5" />
<line x1="210.80" y1="684.60" x2="210.80" y2="685.80" stroke="#444" stroke-width="0.5" />
<line x1="212.15" y1="684.60" x2="212.15" y2="685.80" stroke="#444" stroke-width="0.5" />
<line x1="213.50" y1="684.60" x2="213.50" y2="685.80" stroke="#444" stroke-width="0.5" />
<line x1="214.85" y1="684.60" x2="214.85" y2="685.80" stroke="#444" stroke-width="0.5" />
<text x="163.50" y="696.20" font-size="6.4" text-anchor="middle" fill="#333">10<tspan dy="-2.6" font-size="4.2">1</tspan></text>
<text x="177.00" y="696.20" font-size="6.4" text-anchor="middle" fill="#333">10<tspan dy="-2.6" font-size="4.2">2</tspan></text>
<text x="193.30" y="696.20" font-size="6.4" text-anchor="middle" fill="#333">10<tspan dy="-2.6" font-size="4.2">3</tspan></text>
<text x="208.50" y="696.20" font-size="6.4" text-anchor="middle" fill="#333">10<tspan dy="-2.6" font-size="4.2">4</tspan></text>
<text x="25.80" y="660.00" font-size="9.3" text-anchor="middle" fill="#333" stroke="#333" stroke-width="0.2" textLength="18.6" lengthAdjust="spacingAndGlyphs" transform="rotate(-90 25.80 660.00)">Count</text>
<line x1="28.70" y1="701.20" x2="80.00" y2="701.20" stroke="#111" stroke-width="1.1" />
<path d="M78.5,698.6 L84,701.2 L78.5,703.8 Z" fill="#111"/>
<text x="57.30" y="711.70" font-size="7.8" text-anchor="middle" fill="#333" stroke="#333" stroke-width="0.2" textLength="37.6" lengthAdjust="spacingAndGlyphs">BODIPY C11</text>
<text x="218.50" y="651.50" font-size="6.5" text-anchor="start" fill="#333" stroke="#333" stroke-width="0.2">LDC067</text>
<text x="218.50" y="662.00" font-size="6.5" text-anchor="start" fill="#333" stroke="#333" stroke-width="0.2">Solvent</text>
<text x="218.50" y="672.60" font-size="6.5" text-anchor="start" fill="#333" stroke="#333" stroke-width="0.2">LDC067</text>
<text x="218.50" y="683.50" font-size="6.5" text-anchor="start" fill="#333" stroke="#333" stroke-width="0.2">Solvent</text>
<line x1="245.70" y1="641.50" x2="245.70" y2="660.00" stroke="#222" stroke-width="0.9" />
<line x1="245.70" y1="663.00" x2="245.70" y2="681.50" stroke="#222" stroke-width="0.9" />
<text x="247.70" y="653.80" font-size="6.5" text-anchor="start" fill="#333" stroke="#333" stroke-width="0.2">DMF</text>
<text x="247.70" y="674.60" font-size="6.5" text-anchor="start" fill="#333" stroke="#333" stroke-width="0.2">Solvent</text>
<rect x="0.5" y="0.5" width="519" height="719" fill="none" stroke="#4a4a4a" stroke-width="1"/>
</svg>
</body></html>
